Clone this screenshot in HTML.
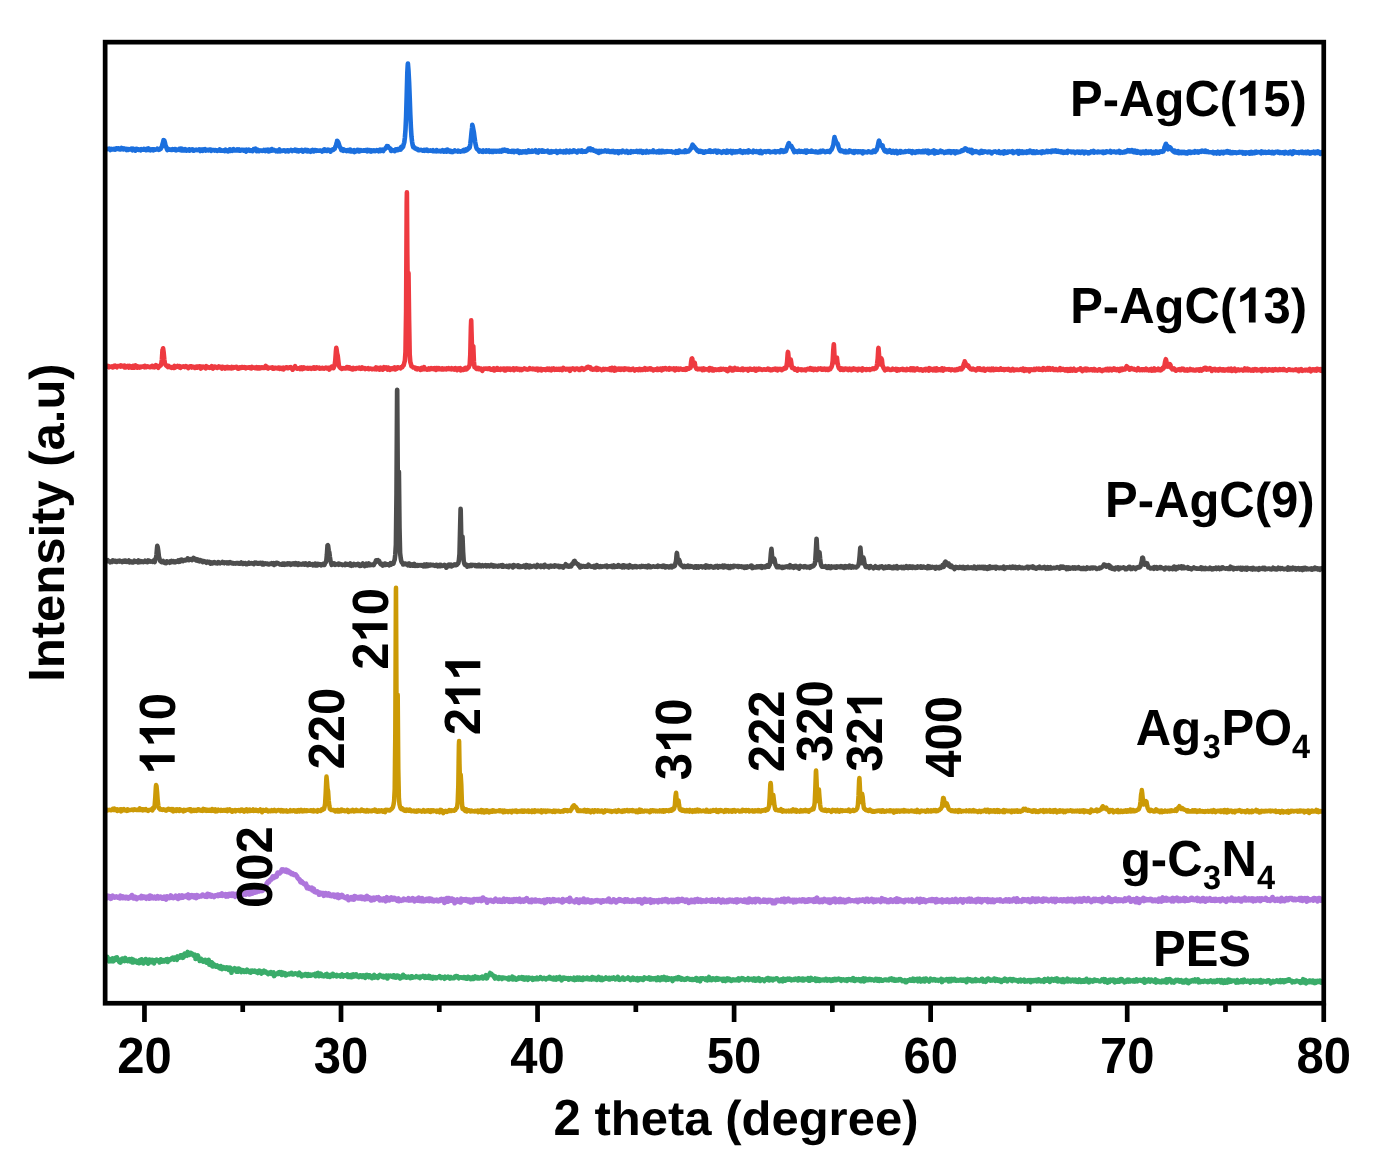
<!DOCTYPE html>
<html><head><meta charset="utf-8"><title>XRD pattern</title>
<style>
html,body{margin:0;padding:0;background:#fff;}
svg{display:block;}
text{font-family:"Liberation Sans",sans-serif;font-weight:bold;fill:#000;font-kerning:none;text-rendering:geometricPrecision;}
</style></head><body>
<svg width="1392" height="1164" viewBox="0 0 1392 1164">
<defs><filter id="nolcd" x="0" y="0" width="1" height="1"><feOffset dx="0" dy="0"/></filter></defs>
<rect x="0" y="0" width="1392" height="1164" fill="#fff"/>

<g fill="none" stroke-linejoin="round" stroke-linecap="round">
<path stroke="#3aac6a" stroke-width="4.6" d="M106.2 959.3 106.8 956.8 107.3 956.8 107.9 959.4 108.5 960.4 109.1 961.4 109.7 959.1 110.3 959.8 110.9 960.0 111.5 961.2 112.1 959.7 112.7 958.3 113.3 961.3 113.9 960.4 114.5 960.4 115.1 958.2 115.7 959.9 116.3 957.6 116.9 957.3 117.5 959.7 118.1 959.5 118.7 960.8 119.3 962.1 119.9 960.1 120.5 962.6 121.1 959.4 121.7 961.2 122.3 958.5 122.9 960.4 123.5 959.9 124.1 960.1 124.7 961.1 125.3 957.9 125.9 960.6 126.5 959.4 127.1 960.6 127.7 961.0 128.3 960.1 128.9 960.1 129.5 959.1 130.1 961.3 130.7 959.8 131.3 961.3 131.9 958.9 132.5 962.5 133.1 959.4 133.7 962.3 134.3 960.3 134.9 961.6 135.5 960.7 136.1 961.8 136.7 961.0 137.3 962.6 137.9 961.9 138.5 961.9 139.1 963.2 139.7 960.2 140.3 962.8 140.9 961.2 141.5 959.3 142.1 961.8 142.7 961.0 143.3 963.4 143.9 960.7 144.5 961.4 145.1 961.7 145.7 959.0 146.3 962.1 146.9 960.2 147.5 963.2 148.1 963.6 148.7 961.5 149.3 959.5 149.9 961.6 150.5 961.6 151.1 962.2 151.7 961.0 152.3 959.8 152.9 961.1 153.5 960.1 154.1 963.4 154.7 960.3 155.3 960.4 155.9 961.1 156.5 959.6 157.1 960.5 157.7 960.9 158.3 960.4 158.9 960.7 159.5 962.5 160.1 961.4 160.7 959.3 161.3 960.4 161.9 961.7 162.5 960.0 163.1 960.9 163.7 960.7 164.3 961.4 164.9 960.5 165.5 960.4 166.1 959.4 166.7 960.7 167.3 959.0 167.9 962.0 168.5 959.8 169.1 959.4 169.7 960.4 170.3 959.2 170.9 959.3 171.5 958.9 172.1 958.0 172.7 957.6 173.3 957.7 173.9 959.7 174.5 957.5 175.1 957.6 175.7 957.4 176.3 958.6 176.9 959.9 177.5 956.4 178.1 958.0 178.7 957.3 179.3 956.7 179.9 957.5 180.5 955.3 181.1 957.5 181.7 956.7 182.3 955.1 182.9 957.8 183.5 956.7 184.1 956.7 184.7 953.5 185.3 954.6 185.9 954.0 186.5 955.1 187.1 955.7 187.7 951.9 188.3 953.8 188.9 953.4 189.5 954.8 190.1 953.9 190.7 952.8 191.3 954.2 191.9 953.5 192.5 954.1 193.1 955.3 193.7 955.0 194.3 956.2 194.9 954.6 195.5 959.0 196.1 958.2 196.7 957.9 197.3 956.1 197.9 955.4 198.5 957.1 199.1 958.1 199.7 960.9 200.3 960.3 200.9 958.6 201.5 960.7 202.1 961.0 202.7 960.0 203.3 961.6 203.9 960.9 204.5 960.2 205.1 959.9 205.7 961.3 206.3 962.7 206.9 960.5 207.5 960.4 208.1 962.9 208.7 959.8 209.3 964.7 209.9 962.6 210.5 964.0 211.1 965.4 211.7 962.3 212.3 962.9 212.9 966.5 213.5 964.1 214.1 964.5 214.7 965.1 215.3 966.2 215.9 966.6 216.5 965.6 217.1 965.4 217.7 965.9 218.3 966.4 218.9 967.6 219.5 966.7 220.1 968.5 220.7 966.1 221.3 967.7 221.9 969.1 222.5 968.8 223.1 968.1 223.7 967.1 224.3 967.5 224.9 968.2 225.5 968.8 226.1 968.3 226.7 967.3 227.3 968.1 227.9 969.4 228.5 969.8 229.1 967.7 229.7 968.8 230.3 967.7 230.9 968.8 231.5 972.8 232.1 969.6 232.7 969.3 233.3 969.2 233.9 968.7 234.5 968.2 235.1 970.0 235.7 969.9 236.3 971.6 236.9 968.8 237.5 970.7 238.1 971.6 238.7 968.6 239.3 971.1 239.9 969.1 240.5 971.1 241.1 972.0 241.7 970.7 242.3 971.0 242.9 970.2 243.5 971.1 244.1 971.9 244.7 970.8 245.3 970.9 245.9 971.4 246.5 971.8 247.1 969.7 247.7 971.2 248.3 970.6 248.9 971.7 249.5 972.2 250.1 971.7 250.7 972.6 251.3 970.6 251.9 971.2 252.5 970.7 253.1 971.7 253.7 971.8 254.3 971.6 254.9 970.7 255.5 971.8 256.1 971.5 256.7 972.4 257.3 971.8 257.9 973.0 258.5 972.3 259.1 970.6 259.7 972.0 260.3 971.0 260.9 973.1 261.5 973.5 262.1 972.4 262.7 972.8 263.3 971.3 263.9 970.7 264.5 972.1 265.1 972.4 265.7 971.4 266.3 972.8 266.9 973.0 267.5 973.3 268.1 974.1 268.7 973.5 269.3 972.6 269.9 973.0 270.5 973.4 271.1 972.1 271.7 974.0 272.3 973.7 272.9 972.8 273.5 972.5 274.1 976.1 274.7 973.8 275.3 973.9 275.9 974.6 276.5 974.0 277.1 973.4 277.7 973.8 278.3 972.6 278.9 973.9 279.5 972.2 280.1 973.7 280.7 973.8 281.3 972.2 281.9 974.9 282.5 972.6 283.1 974.3 283.7 973.1 284.3 973.8 284.9 973.1 285.5 975.5 286.1 974.4 286.7 975.1 287.3 974.3 287.9 974.3 288.5 973.9 289.1 973.6 289.7 974.3 290.3 974.0 290.9 973.8 291.5 972.8 292.1 973.7 292.7 974.4 293.3 973.6 293.9 974.3 294.5 973.9 295.1 973.3 295.7 973.4 296.3 973.6 296.9 973.9 297.5 974.0 298.1 975.1 298.7 973.4 299.3 972.7 299.9 974.8 300.5 974.0 301.1 974.3 301.7 976.3 302.3 975.5 302.9 974.9 303.5 975.2 304.1 974.6 304.7 975.3 305.3 974.1 305.9 974.0 306.5 974.3 307.1 975.9 307.7 975.9 308.3 974.2 308.9 975.6 309.5 974.6 310.1 975.6 310.7 974.6 311.3 975.6 311.9 974.8 312.5 974.6 313.1 974.9 313.7 975.0 314.3 974.5 314.9 973.9 315.5 976.2 316.1 974.6 316.7 973.6 317.3 973.2 317.9 972.8 318.5 974.5 319.1 976.1 319.7 973.8 320.3 974.8 320.9 973.7 321.5 975.9 322.1 975.4 322.7 975.4 323.3 976.2 323.9 976.4 324.5 976.0 325.1 974.7 325.7 974.2 326.3 974.4 326.9 973.9 327.5 976.6 328.1 975.1 328.7 975.4 329.3 975.4 329.9 976.9 330.5 974.9 331.1 976.2 331.7 975.6 332.3 975.2 332.9 973.9 333.5 976.1 334.1 974.8 334.7 975.1 335.3 975.6 335.9 975.5 336.5 976.3 337.1 975.0 337.7 975.6 338.3 975.7 338.9 975.5 339.5 976.1 340.1 975.4 340.7 976.5 341.3 975.0 341.9 974.5 342.5 975.6 343.1 976.5 343.7 975.2 344.3 975.2 344.9 975.4 345.5 975.8 346.1 975.6 346.7 976.0 347.3 974.4 347.9 976.9 348.5 976.2 349.1 975.1 349.7 976.8 350.3 976.1 350.9 977.0 351.5 974.9 352.1 977.1 352.7 975.9 353.3 974.3 353.9 976.5 354.5 975.7 355.1 975.1 355.7 975.8 356.3 974.4 356.9 976.4 357.5 975.8 358.1 975.8 358.7 977.1 359.3 976.0 359.9 975.5 360.5 975.3 361.1 976.0 361.7 976.9 362.3 975.6 362.9 975.3 363.5 976.8 364.1 976.2 364.7 976.1 365.3 977.8 365.9 975.2 366.5 976.4 367.1 974.8 367.7 976.0 368.3 976.7 368.9 977.1 369.5 975.3 370.1 976.9 370.7 976.9 371.3 976.2 371.9 978.2 372.5 976.3 373.1 975.7 373.7 976.7 374.3 974.9 374.9 977.6 375.5 977.1 376.1 976.1 376.7 976.9 377.3 976.8 377.9 977.9 378.5 976.0 379.1 975.4 379.7 974.9 380.3 976.2 380.9 975.3 381.5 976.3 382.1 976.8 382.7 976.2 383.3 975.8 383.9 977.4 384.5 976.4 385.1 976.7 385.7 977.3 386.3 975.5 386.9 975.8 387.5 978.5 388.1 976.5 388.7 975.8 389.3 976.4 389.9 976.2 390.5 975.7 391.1 976.3 391.7 976.6 392.3 976.6 392.9 977.1 393.5 975.3 394.1 975.5 394.7 977.3 395.3 976.3 395.9 977.6 396.5 976.9 397.1 975.6 397.7 977.1 398.3 975.9 398.9 976.9 399.5 977.7 400.1 978.4 400.7 976.7 401.3 977.3 401.9 977.0 402.5 977.4 403.1 974.8 403.7 976.5 404.3 977.0 404.9 977.2 405.5 976.3 406.1 977.5 406.7 977.7 407.3 976.9 407.9 976.7 408.5 976.6 409.1 977.0 409.7 977.8 410.3 978.1 410.9 976.6 411.5 976.2 412.1 976.3 412.7 977.7 413.3 977.1 413.9 977.2 414.5 977.3 415.1 977.3 415.7 976.9 416.3 976.2 416.9 976.5 417.5 977.1 418.1 977.3 418.7 976.7 419.3 976.7 419.9 978.1 420.5 976.7 421.1 977.2 421.7 976.8 422.3 976.4 422.9 975.9 423.5 976.7 424.1 976.5 424.7 977.8 425.3 976.2 425.9 976.8 426.5 977.7 427.1 977.1 427.7 977.5 428.3 977.8 428.9 975.9 429.5 976.9 430.1 976.5 430.7 978.2 431.3 977.1 431.9 977.6 432.5 978.5 433.1 977.0 433.7 977.3 434.3 977.6 434.9 977.1 435.5 978.2 436.1 977.9 436.7 978.1 437.3 977.3 437.9 977.0 438.5 977.0 439.1 977.0 439.7 976.1 440.3 977.6 440.9 978.0 441.5 977.3 442.1 977.0 442.7 977.4 443.3 977.5 443.9 977.6 444.5 978.8 445.1 976.7 445.7 977.7 446.3 977.9 446.9 977.5 447.5 977.2 448.1 976.6 448.7 977.0 449.3 978.0 449.9 978.6 450.5 977.0 451.1 977.8 451.7 977.9 452.3 978.2 452.9 977.7 453.5 977.8 454.1 978.2 454.7 976.6 455.3 977.6 455.9 976.2 456.5 976.0 457.1 976.9 457.7 976.4 458.3 977.9 458.9 978.3 459.5 977.3 460.1 977.5 460.7 977.4 461.3 977.4 461.9 977.7 462.5 977.9 463.1 977.3 463.7 977.0 464.3 977.2 464.9 978.2 465.5 977.3 466.1 978.7 466.7 977.5 467.3 978.7 467.9 976.8 468.5 977.1 469.1 978.0 469.7 978.1 470.3 977.6 470.9 979.2 471.5 977.8 472.1 977.9 472.7 977.3 473.3 979.0 473.9 978.4 474.5 978.0 475.1 976.5 475.7 978.0 476.3 977.4 476.9 978.0 477.5 978.4 478.1 977.2 478.7 977.9 479.3 978.4 479.9 977.9 480.5 977.5 481.1 977.0 481.7 977.3 482.3 976.8 482.9 978.5 483.5 977.8 484.1 976.8 484.7 977.7 485.3 976.7 485.9 975.1 486.5 978.4 487.1 978.2 487.7 975.8 488.3 975.7 488.9 975.5 489.5 974.1 490.1 973.0 490.2 973.2 490.7 973.4 491.3 973.6 491.9 974.7 492.5 975.1 493.1 975.5 493.7 976.8 494.3 976.0 494.9 978.6 495.5 976.4 496.1 977.7 496.7 978.1 497.3 978.2 497.9 978.1 498.5 978.9 499.1 977.1 499.7 977.9 500.3 978.1 500.9 977.6 501.5 977.6 502.1 979.0 502.7 977.5 503.3 977.7 503.9 977.9 504.5 977.9 505.1 978.2 505.7 978.0 506.3 978.4 506.9 978.2 507.5 978.5 508.1 979.2 508.7 977.5 509.3 979.4 509.9 977.8 510.5 978.7 511.1 978.3 511.7 978.0 512.3 976.7 512.9 979.4 513.5 977.7 514.1 977.6 514.7 979.0 515.3 978.3 515.9 979.7 516.5 979.5 517.1 978.8 517.7 978.5 518.3 978.9 518.9 977.3 519.5 978.4 520.1 978.4 520.7 978.0 521.3 978.5 521.9 977.2 522.5 979.0 523.1 979.3 523.7 977.4 524.3 978.4 524.9 979.5 525.5 978.6 526.1 977.6 526.7 977.6 527.3 979.0 527.9 979.7 528.5 977.5 529.1 978.4 529.7 977.8 530.3 978.1 530.9 978.6 531.5 978.3 532.1 977.9 532.7 979.9 533.3 978.3 533.9 978.2 534.5 979.2 535.1 978.4 535.7 978.2 536.3 979.1 536.9 977.6 537.5 979.0 538.1 979.2 538.7 978.9 539.3 978.3 539.9 978.4 540.5 977.1 541.1 978.3 541.7 978.6 542.3 979.1 542.9 978.5 543.5 978.1 544.1 977.8 544.7 978.4 545.3 978.5 545.9 979.3 546.5 978.4 547.1 978.1 547.7 978.4 548.3 978.1 548.9 978.3 549.5 976.8 550.1 977.3 550.7 977.6 551.3 978.8 551.9 978.4 552.5 978.6 553.1 979.3 553.7 977.7 554.3 979.3 554.9 978.8 555.5 977.9 556.1 979.6 556.7 977.4 557.3 977.6 557.9 978.3 558.5 978.8 559.1 978.4 559.7 976.9 560.3 978.3 560.9 978.4 561.5 980.4 562.1 979.5 562.7 978.6 563.3 977.7 563.9 978.8 564.5 977.7 565.1 978.7 565.7 978.8 566.3 978.2 566.9 978.7 567.5 978.3 568.1 978.1 568.7 979.7 569.3 979.0 569.9 978.3 570.5 978.0 571.1 978.7 571.7 979.0 572.3 979.2 572.9 979.6 573.5 978.9 574.1 977.7 574.7 980.1 575.3 979.4 575.9 979.2 576.5 979.6 577.1 977.5 577.7 978.3 578.3 978.2 578.9 979.5 579.5 977.7 580.1 978.4 580.7 979.7 581.3 979.1 581.9 978.3 582.5 980.0 583.1 977.6 583.7 978.9 584.3 978.4 584.9 979.0 585.5 978.4 586.1 978.0 586.7 978.8 587.3 977.6 587.9 979.0 588.5 978.4 589.1 979.3 589.7 978.3 590.3 978.1 590.9 978.9 591.5 979.6 592.1 977.1 592.7 978.7 593.3 979.1 593.9 977.6 594.5 978.0 595.1 979.1 595.7 978.0 596.3 978.2 596.9 979.9 597.5 978.0 598.1 978.0 598.7 977.0 599.3 977.9 599.9 977.8 600.5 979.9 601.1 979.6 601.7 977.8 602.3 980.1 602.9 979.3 603.5 978.6 604.1 979.3 604.7 979.0 605.3 978.1 605.9 977.4 606.5 978.0 607.1 978.7 607.7 978.5 608.3 978.2 608.9 979.4 609.5 977.9 610.1 979.4 610.7 978.4 611.3 978.8 611.9 977.9 612.5 978.7 613.1 978.2 613.7 977.5 614.3 978.7 614.9 978.7 615.5 979.4 616.1 979.0 616.7 978.0 617.3 978.3 617.9 976.9 618.5 977.9 619.1 979.7 619.7 979.9 620.3 979.3 620.9 979.0 621.5 979.2 622.1 979.1 622.7 977.5 623.3 978.1 623.9 979.7 624.5 979.7 625.1 979.0 625.7 978.6 626.3 978.5 626.9 978.4 627.5 978.1 628.1 977.4 628.7 978.9 629.3 978.5 629.9 978.7 630.5 980.1 631.1 979.3 631.7 978.3 632.3 979.3 632.9 977.7 633.5 979.6 634.1 979.0 634.7 978.7 635.3 979.3 635.9 979.9 636.5 978.5 637.1 978.1 637.7 980.4 638.3 978.9 638.9 980.0 639.5 978.4 640.1 979.1 640.7 978.4 641.3 979.3 641.9 978.7 642.5 978.4 643.1 980.0 643.7 979.1 644.3 977.4 644.9 978.7 645.5 978.2 646.1 978.0 646.7 978.5 647.3 978.5 647.9 978.9 648.5 978.3 649.1 977.5 649.7 978.5 650.3 979.6 650.9 977.9 651.5 979.4 652.1 979.3 652.7 978.6 653.3 979.2 653.9 978.4 654.5 978.6 655.1 978.2 655.7 979.3 656.3 980.0 656.9 978.4 657.5 979.8 658.1 977.4 658.7 978.3 659.3 978.2 659.9 980.2 660.5 978.5 661.1 979.5 661.7 977.4 662.3 979.0 662.9 979.4 663.5 978.9 664.1 976.9 664.7 979.1 665.3 979.6 665.9 980.0 666.5 979.3 667.1 977.7 667.7 978.8 668.3 979.7 668.9 978.4 669.5 979.4 670.1 978.6 670.7 979.1 671.3 979.6 671.9 978.5 672.5 981.1 673.1 979.1 673.7 979.3 674.3 978.5 674.9 979.1 675.5 978.8 676.1 977.9 676.7 977.9 677.3 979.2 677.9 979.0 678.5 977.1 679.1 977.4 679.7 978.8 680.3 979.0 680.9 979.5 681.5 978.1 682.1 979.5 682.7 978.8 683.3 978.7 683.9 979.0 684.5 979.8 685.1 979.5 685.7 979.7 686.3 978.6 686.9 978.9 687.5 978.2 688.1 978.7 688.7 978.8 689.3 978.7 689.9 979.6 690.5 979.4 691.1 979.7 691.7 979.2 692.3 979.9 692.9 979.2 693.5 979.8 694.1 979.5 694.7 979.7 695.3 979.1 695.9 978.2 696.5 978.0 697.1 980.6 697.7 979.4 698.3 979.5 698.9 979.0 699.5 978.8 700.1 981.3 700.7 978.3 701.3 979.1 701.9 979.1 702.5 978.3 703.1 978.2 703.7 978.6 704.3 978.9 704.9 978.8 705.5 979.8 706.1 978.3 706.7 979.5 707.3 980.3 707.9 979.8 708.5 978.3 709.1 977.0 709.7 979.8 710.3 979.6 710.9 978.7 711.5 980.1 712.1 978.9 712.7 979.3 713.3 978.4 713.9 979.4 714.5 978.9 715.1 978.8 715.7 980.0 716.3 979.4 716.9 978.1 717.5 979.7 718.1 979.8 718.7 978.6 719.3 978.9 719.9 979.3 720.5 979.0 721.1 979.3 721.7 979.7 722.3 978.9 722.9 980.8 723.5 978.7 724.1 978.8 724.7 980.7 725.3 981.0 725.9 979.3 726.5 979.1 727.1 978.5 727.7 980.1 728.3 979.4 728.9 978.6 729.5 979.6 730.1 980.3 730.7 979.8 731.3 980.9 731.9 980.2 732.5 979.6 733.1 979.3 733.7 979.7 734.3 980.2 734.9 979.9 735.5 980.1 736.1 979.5 736.7 979.9 737.3 980.2 737.9 979.2 738.5 978.3 739.1 980.6 739.7 979.8 740.3 979.0 740.9 979.5 741.5 979.1 742.1 978.1 742.7 979.2 743.3 978.3 743.9 979.5 744.5 979.3 745.1 980.2 745.7 979.3 746.3 979.6 746.9 979.1 747.5 979.1 748.1 978.3 748.7 980.1 749.3 979.5 749.9 978.9 750.5 979.5 751.1 979.1 751.7 978.8 752.3 979.6 752.9 980.3 753.5 979.2 754.1 978.3 754.7 978.9 755.3 980.7 755.9 978.8 756.5 980.3 757.1 979.2 757.7 980.0 758.3 979.3 758.9 978.2 759.5 979.1 760.1 981.0 760.7 979.3 761.3 979.8 761.9 979.2 762.5 979.3 763.1 979.7 763.7 979.8 764.3 981.1 764.9 979.4 765.5 979.3 766.1 978.9 766.7 978.5 767.3 978.2 767.9 979.9 768.5 978.1 769.1 980.5 769.7 980.1 770.3 979.2 770.9 978.6 771.5 979.5 772.1 979.5 772.7 980.3 773.3 978.9 773.9 979.2 774.5 979.4 775.1 979.3 775.7 979.0 776.3 978.2 776.9 978.3 777.5 979.0 778.1 979.3 778.7 980.3 779.3 981.2 779.9 980.8 780.5 979.8 781.1 980.9 781.7 979.4 782.3 979.1 782.9 981.3 783.5 978.7 784.1 979.2 784.7 979.3 785.3 980.6 785.9 979.1 786.5 980.1 787.1 979.2 787.7 978.6 788.3 979.7 788.9 979.7 789.5 978.7 790.1 978.9 790.7 979.0 791.3 980.3 791.9 979.9 792.5 979.7 793.1 979.9 793.7 979.2 794.3 979.9 794.9 979.1 795.5 978.6 796.1 979.1 796.7 979.7 797.3 979.7 797.9 980.4 798.5 978.3 799.1 979.4 799.7 979.9 800.3 978.9 800.9 979.8 801.5 979.3 802.1 978.8 802.7 980.5 803.3 978.6 803.9 980.4 804.5 979.3 805.1 978.9 805.7 979.0 806.3 979.1 806.9 979.0 807.5 979.8 808.1 978.2 808.7 980.6 809.3 980.3 809.9 980.7 810.5 978.9 811.1 977.9 811.7 979.2 812.3 979.5 812.9 979.9 813.5 979.3 814.1 979.6 814.7 979.8 815.3 978.5 815.9 981.0 816.5 978.8 817.1 979.9 817.7 980.5 818.3 979.1 818.9 979.7 819.5 980.9 820.1 979.5 820.7 980.5 821.3 979.9 821.9 979.9 822.5 980.2 823.1 979.5 823.7 979.5 824.3 980.4 824.9 979.9 825.5 980.1 826.1 978.8 826.7 979.7 827.3 980.6 827.9 980.4 828.5 980.0 829.1 979.3 829.7 979.3 830.3 980.0 830.9 980.8 831.5 979.8 832.1 980.7 832.7 979.5 833.3 980.6 833.9 979.0 834.5 979.9 835.1 978.9 835.7 980.2 836.3 980.2 836.9 979.0 837.5 979.2 838.1 979.4 838.7 978.6 839.3 979.1 839.9 979.1 840.5 980.3 841.1 980.8 841.7 979.4 842.3 979.6 842.9 979.9 843.5 979.4 844.1 979.6 844.7 980.4 845.3 979.9 845.9 979.7 846.5 979.4 847.1 980.9 847.7 979.3 848.3 979.9 848.9 979.0 849.5 979.3 850.1 979.9 850.7 979.5 851.3 980.2 851.9 979.9 852.5 978.8 853.1 978.1 853.7 980.6 854.3 979.4 854.9 980.9 855.5 979.8 856.1 979.2 856.7 980.2 857.3 979.6 857.9 979.8 858.5 979.1 859.1 980.3 859.7 980.6 860.3 979.4 860.9 981.2 861.5 979.4 862.1 980.0 862.7 978.6 863.3 978.4 863.9 981.4 864.5 980.9 865.1 980.7 865.7 978.6 866.3 980.0 866.9 980.2 867.5 979.9 868.1 980.1 868.7 979.2 869.3 979.7 869.9 979.0 870.5 979.6 871.1 980.1 871.7 979.3 872.3 979.7 872.9 979.6 873.5 979.9 874.1 980.6 874.7 980.1 875.3 980.2 875.9 978.8 876.5 979.6 877.1 980.5 877.7 979.2 878.3 979.6 878.9 979.2 879.5 980.9 880.1 979.6 880.7 979.4 881.3 980.4 881.9 980.7 882.5 980.3 883.1 980.6 883.7 980.1 884.3 979.8 884.9 979.6 885.5 979.5 886.1 979.5 886.7 980.2 887.3 979.8 887.9 980.0 888.5 980.4 889.1 979.9 889.7 978.9 890.3 979.3 890.9 979.1 891.5 978.5 892.1 980.0 892.7 979.0 893.3 979.0 893.9 979.1 894.5 980.6 895.1 979.7 895.7 980.7 896.3 979.9 896.9 979.6 897.5 980.4 898.1 980.4 898.7 980.1 899.3 979.2 899.9 979.6 900.5 979.1 901.1 979.8 901.7 980.0 902.3 981.1 902.9 981.0 903.5 980.5 904.1 980.7 904.7 980.2 905.3 982.1 905.9 981.1 906.5 982.0 907.1 980.3 907.7 980.3 908.3 980.8 908.9 980.1 909.5 980.2 910.1 979.3 910.7 980.7 911.3 980.1 911.9 980.6 912.5 979.8 913.1 978.7 913.7 980.4 914.3 980.9 914.9 979.1 915.5 979.3 916.1 979.8 916.7 979.8 917.3 978.8 917.9 981.3 918.5 980.8 919.1 979.6 919.7 978.7 920.3 980.3 920.9 981.5 921.5 980.7 922.1 980.9 922.7 979.3 923.3 980.2 923.9 978.9 924.5 981.5 925.1 980.5 925.7 978.5 926.3 978.7 926.9 980.4 927.5 980.2 928.1 979.8 928.7 980.5 929.3 981.6 929.9 980.3 930.5 978.7 931.1 980.0 931.7 979.1 932.3 979.5 932.9 980.3 933.5 980.0 934.1 979.3 934.7 980.1 935.3 979.5 935.9 980.5 936.5 979.9 937.1 980.4 937.7 979.9 938.3 980.7 938.9 980.0 939.5 980.1 940.1 979.7 940.7 980.2 941.3 978.8 941.9 982.1 942.5 979.6 943.1 980.2 943.7 979.8 944.3 979.8 944.9 980.4 945.5 979.7 946.1 979.8 946.7 979.1 947.3 979.4 947.9 979.3 948.5 981.5 949.1 979.1 949.7 979.3 950.3 980.3 950.9 981.2 951.5 978.9 952.1 979.0 952.7 980.2 953.3 980.4 953.9 979.1 954.5 978.8 955.1 979.4 955.7 980.7 956.3 980.1 956.9 980.7 957.5 980.1 958.1 980.1 958.7 980.6 959.3 980.1 959.9 980.3 960.5 979.5 961.1 979.7 961.7 980.5 962.3 980.0 962.9 979.6 963.5 980.7 964.1 980.6 964.7 980.2 965.3 979.6 965.9 980.9 966.5 982.1 967.1 979.6 967.7 979.0 968.3 979.6 968.9 979.5 969.5 979.3 970.1 979.3 970.7 980.8 971.3 980.9 971.9 981.3 972.5 980.8 973.1 979.9 973.7 981.0 974.3 979.8 974.9 980.0 975.5 979.3 976.1 981.1 976.7 981.0 977.3 979.9 977.9 980.0 978.5 980.3 979.1 980.4 979.7 980.9 980.3 980.3 980.9 980.5 981.5 979.1 982.1 980.0 982.7 978.9 983.3 981.6 983.9 981.3 984.5 980.8 985.1 981.1 985.7 981.8 986.3 981.0 986.9 979.1 987.5 980.1 988.1 978.5 988.7 979.7 989.3 979.3 989.9 980.3 990.5 980.6 991.1 979.6 991.7 980.1 992.3 980.5 992.9 980.2 993.5 980.1 994.1 978.5 994.7 980.0 995.3 980.9 995.9 980.5 996.5 979.2 997.1 980.1 997.7 980.5 998.3 979.6 998.9 980.8 999.5 979.7 1000.1 980.1 1000.7 980.2 1001.3 982.0 1001.9 980.1 1002.5 979.9 1003.1 980.9 1003.7 980.0 1004.3 980.5 1004.9 978.6 1005.5 980.5 1006.1 980.3 1006.7 979.4 1007.3 981.3 1007.9 980.2 1008.5 980.2 1009.1 979.4 1009.7 979.1 1010.3 979.9 1010.9 979.2 1011.5 980.7 1012.1 981.0 1012.7 979.9 1013.3 979.1 1013.9 980.1 1014.5 979.6 1015.1 980.5 1015.7 980.5 1016.3 980.0 1016.9 980.4 1017.5 981.1 1018.1 981.6 1018.7 980.0 1019.3 980.9 1019.9 980.2 1020.5 979.6 1021.1 981.3 1021.7 980.7 1022.3 980.5 1022.9 980.7 1023.5 980.3 1024.1 979.6 1024.7 981.7 1025.3 981.1 1025.9 980.6 1026.5 981.1 1027.1 981.4 1027.7 980.3 1028.3 980.8 1028.9 980.2 1029.5 980.9 1030.1 980.2 1030.7 982.2 1031.3 980.1 1031.9 980.8 1032.5 980.8 1033.1 980.2 1033.7 981.1 1034.3 980.4 1034.9 980.1 1035.5 980.4 1036.1 979.9 1036.7 981.3 1037.3 980.9 1037.9 981.2 1038.5 979.4 1039.1 980.6 1039.7 979.9 1040.3 980.5 1040.9 981.4 1041.5 980.6 1042.1 980.3 1042.7 981.3 1043.3 981.2 1043.9 981.8 1044.5 979.1 1045.1 980.7 1045.7 980.2 1046.3 979.8 1046.9 980.6 1047.5 979.6 1048.1 978.8 1048.7 979.8 1049.3 980.3 1049.9 981.9 1050.5 979.9 1051.1 979.6 1051.7 979.0 1052.3 980.2 1052.9 980.3 1053.5 980.6 1054.1 979.4 1054.7 979.9 1055.3 978.8 1055.9 980.6 1056.5 979.3 1057.1 978.4 1057.7 981.4 1058.3 980.9 1058.9 980.8 1059.5 980.8 1060.1 979.7 1060.7 981.3 1061.3 979.7 1061.9 982.0 1062.5 980.7 1063.1 979.1 1063.7 981.2 1064.3 982.0 1064.9 980.3 1065.5 981.3 1066.1 980.4 1066.7 980.1 1067.3 978.6 1067.9 981.5 1068.5 980.2 1069.1 980.8 1069.7 979.7 1070.3 979.9 1070.9 981.4 1071.5 980.3 1072.1 980.3 1072.7 979.6 1073.3 980.7 1073.9 981.2 1074.5 980.2 1075.1 980.4 1075.7 979.7 1076.3 981.6 1076.9 980.1 1077.5 980.5 1078.1 981.9 1078.7 980.4 1079.3 979.4 1079.9 979.9 1080.5 980.3 1081.1 981.9 1081.7 980.8 1082.3 980.4 1082.9 981.2 1083.5 981.6 1084.1 980.0 1084.7 981.7 1085.3 981.3 1085.9 981.0 1086.5 978.8 1087.1 980.8 1087.7 981.7 1088.3 980.4 1088.9 982.4 1089.5 980.7 1090.1 979.9 1090.7 981.1 1091.3 980.9 1091.9 981.3 1092.5 980.5 1093.1 981.6 1093.7 980.2 1094.3 980.8 1094.9 979.7 1095.5 980.1 1096.1 980.8 1096.7 980.2 1097.3 980.3 1097.9 980.5 1098.5 980.9 1099.1 981.3 1099.7 981.3 1100.3 981.5 1100.9 980.8 1101.5 980.3 1102.1 979.5 1102.7 980.4 1103.3 980.1 1103.9 979.3 1104.5 981.9 1105.1 979.3 1105.7 981.0 1106.3 981.1 1106.9 980.5 1107.5 982.7 1108.1 980.7 1108.7 980.1 1109.3 982.0 1109.9 980.1 1110.5 979.6 1111.1 980.0 1111.7 980.2 1112.3 980.8 1112.9 981.0 1113.5 979.6 1114.1 981.0 1114.7 982.4 1115.3 980.2 1115.9 980.6 1116.5 981.3 1117.1 981.7 1117.7 980.2 1118.3 980.0 1118.9 980.0 1119.5 981.6 1120.1 981.4 1120.7 979.1 1121.3 979.1 1121.9 979.8 1122.5 979.6 1123.1 981.1 1123.7 980.9 1124.3 982.3 1124.9 981.4 1125.5 980.9 1126.1 981.7 1126.7 980.1 1127.3 979.7 1127.9 980.8 1128.5 981.5 1129.1 979.6 1129.7 981.5 1130.3 981.4 1130.9 980.4 1131.5 980.9 1132.1 980.6 1132.7 980.9 1133.3 981.4 1133.9 980.2 1134.5 981.6 1135.1 981.5 1135.7 981.5 1136.3 979.3 1136.9 979.4 1137.5 981.3 1138.1 980.4 1138.7 980.3 1139.3 980.2 1139.9 979.8 1140.5 980.6 1141.1 980.3 1141.7 980.3 1142.3 981.2 1142.9 979.9 1143.5 981.7 1144.1 979.1 1144.7 982.8 1145.3 979.8 1145.9 981.3 1146.5 981.5 1147.1 980.8 1147.7 981.4 1148.3 980.8 1148.9 979.5 1149.5 981.1 1150.1 981.7 1150.7 980.4 1151.3 979.6 1151.9 980.4 1152.5 981.1 1153.1 981.1 1153.7 981.7 1154.3 981.3 1154.9 981.3 1155.5 979.4 1156.1 982.6 1156.7 980.9 1157.3 981.5 1157.9 980.6 1158.5 980.8 1159.1 980.9 1159.7 982.1 1160.3 982.1 1160.9 981.4 1161.5 982.4 1162.1 980.6 1162.7 981.3 1163.3 980.6 1163.9 981.9 1164.5 980.9 1165.1 981.7 1165.7 982.2 1166.3 979.3 1166.9 982.6 1167.5 981.2 1168.1 980.7 1168.7 979.5 1169.3 980.7 1169.9 979.2 1170.5 981.0 1171.1 980.8 1171.7 982.3 1172.3 980.7 1172.9 981.8 1173.5 981.8 1174.1 982.5 1174.7 980.8 1175.3 981.5 1175.9 979.8 1176.5 980.1 1177.1 980.8 1177.7 981.0 1178.3 980.0 1178.9 980.7 1179.5 981.5 1180.1 980.6 1180.7 980.9 1181.3 980.3 1181.9 982.0 1182.5 982.4 1183.1 981.2 1183.7 980.9 1184.3 982.3 1184.9 981.4 1185.5 980.5 1186.1 980.0 1186.7 980.6 1187.3 982.7 1187.9 980.6 1188.5 983.2 1189.1 981.0 1189.7 980.9 1190.3 982.0 1190.9 980.8 1191.5 981.3 1192.1 980.2 1192.7 980.1 1193.3 980.5 1193.9 981.2 1194.5 980.5 1195.1 979.5 1195.7 981.4 1196.3 980.9 1196.9 980.8 1197.5 980.6 1198.1 979.3 1198.7 982.3 1199.3 980.7 1199.9 981.5 1200.5 982.1 1201.1 981.9 1201.7 981.2 1202.3 981.1 1202.9 981.3 1203.5 981.8 1204.1 981.5 1204.7 980.7 1205.3 981.4 1205.9 981.4 1206.5 981.6 1207.1 981.2 1207.7 982.1 1208.3 981.2 1208.9 981.8 1209.5 981.1 1210.1 980.7 1210.7 980.4 1211.3 981.0 1211.9 981.5 1212.5 982.1 1213.1 981.0 1213.7 980.7 1214.3 980.7 1214.9 982.1 1215.5 981.2 1216.1 980.7 1216.7 981.7 1217.3 980.1 1217.9 981.2 1218.5 981.1 1219.1 981.0 1219.7 980.2 1220.3 981.9 1220.9 982.4 1221.5 980.1 1222.1 981.2 1222.7 981.6 1223.3 982.9 1223.9 980.8 1224.5 980.4 1225.1 981.1 1225.7 982.7 1226.3 981.2 1226.9 981.4 1227.5 982.5 1228.1 979.5 1228.7 979.5 1229.3 981.9 1229.9 981.8 1230.5 980.1 1231.1 981.6 1231.7 981.2 1232.3 981.3 1232.9 980.6 1233.5 980.8 1234.1 980.5 1234.7 981.2 1235.3 981.0 1235.9 982.5 1236.5 981.7 1237.1 980.0 1237.7 981.5 1238.3 982.3 1238.9 981.4 1239.5 982.0 1240.1 981.2 1240.7 981.8 1241.3 980.5 1241.9 981.8 1242.5 980.2 1243.1 982.2 1243.7 980.1 1244.3 979.6 1244.9 981.6 1245.5 981.1 1246.1 981.3 1246.7 981.6 1247.3 981.2 1247.9 980.6 1248.5 981.4 1249.1 981.5 1249.7 981.6 1250.3 982.8 1250.9 980.7 1251.5 981.3 1252.1 981.7 1252.7 980.9 1253.3 980.3 1253.9 980.8 1254.5 982.1 1255.1 981.1 1255.7 981.7 1256.3 980.7 1256.9 981.6 1257.5 980.8 1258.1 980.6 1258.7 981.4 1259.3 981.3 1259.9 982.4 1260.5 980.0 1261.1 981.7 1261.7 982.5 1262.3 982.3 1262.9 981.0 1263.5 980.8 1264.1 980.9 1264.7 981.5 1265.3 981.4 1265.9 981.6 1266.5 981.8 1267.1 980.5 1267.7 980.4 1268.3 980.4 1268.9 980.3 1269.5 981.2 1270.1 981.6 1270.7 983.3 1271.3 981.7 1271.9 981.3 1272.5 982.4 1273.1 980.8 1273.7 981.6 1274.3 982.1 1274.9 981.9 1275.5 981.6 1276.1 981.1 1276.7 980.4 1277.3 981.2 1277.9 980.9 1278.5 981.9 1279.1 981.2 1279.7 981.8 1280.3 980.1 1280.9 982.1 1281.5 980.7 1282.1 980.2 1282.7 980.3 1283.3 980.9 1283.9 982.2 1284.5 981.9 1285.1 980.5 1285.7 981.4 1286.3 981.3 1286.9 980.2 1287.5 980.6 1288.1 979.8 1288.7 980.7 1289.3 979.4 1289.9 980.8 1290.5 980.7 1291.1 980.8 1291.7 980.8 1292.3 982.3 1292.9 981.1 1293.5 981.6 1294.1 982.0 1294.7 982.1 1295.3 981.9 1295.9 981.0 1296.5 980.6 1297.1 980.8 1297.7 981.1 1298.3 981.4 1298.9 981.4 1299.5 982.3 1300.1 981.3 1300.7 982.8 1301.3 982.2 1301.9 981.1 1302.5 982.1 1303.1 979.2 1303.7 982.5 1304.3 981.8 1304.9 981.7 1305.5 980.2 1306.1 983.4 1306.7 981.3 1307.3 981.3 1307.9 982.3 1308.5 981.3 1309.1 980.8 1309.7 982.0 1310.3 980.7 1310.9 982.0 1311.5 981.6 1312.1 982.3 1312.7 980.5 1313.3 982.4 1313.9 981.7 1314.5 983.0 1315.1 981.0 1315.7 982.9 1316.3 982.0 1316.9 982.1 1317.5 980.9 1318.1 981.9 1318.7 982.0 1319.3 980.9 1319.9 980.6 1320.5 980.9 1321.1 982.6 1321.7 981.6 1322.3 982.2"/>
<path stroke="#ae76dc" stroke-width="5.0" d="M106.2 898.1 106.8 896.8 107.3 896.0 107.9 896.8 108.5 897.5 109.1 896.2 109.7 897.7 110.3 897.7 110.9 898.7 111.5 896.6 112.1 897.6 112.7 895.8 113.3 896.8 113.9 897.2 114.5 897.4 115.1 897.1 115.7 897.0 116.3 896.6 116.9 896.8 117.5 897.4 118.1 897.6 118.7 897.6 119.3 897.9 119.9 898.1 120.5 895.8 121.1 896.7 121.7 897.0 122.3 896.7 122.9 898.0 123.5 897.7 124.1 897.1 124.7 897.3 125.3 898.1 125.9 896.9 126.5 896.9 127.1 897.9 127.7 897.6 128.3 898.3 128.9 897.5 129.5 897.8 130.1 896.8 130.7 896.5 131.3 897.2 131.9 895.2 132.5 897.5 133.1 898.0 133.7 897.3 134.3 897.1 134.9 898.1 135.5 897.2 136.1 898.0 136.7 898.9 137.3 897.8 137.9 898.0 138.5 897.7 139.1 897.5 139.7 897.5 140.3 897.3 140.9 898.1 141.5 896.1 142.1 897.1 142.7 897.8 143.3 896.7 143.9 897.2 144.5 896.8 145.1 897.7 145.7 898.0 146.3 898.5 146.9 897.7 147.5 896.8 148.1 897.6 148.7 897.8 149.3 898.4 149.9 895.7 150.5 897.7 151.1 896.0 151.7 897.9 152.3 897.7 152.9 897.8 153.5 898.1 154.1 897.7 154.7 896.9 155.3 897.7 155.9 898.3 156.5 897.3 157.1 897.5 157.7 896.5 158.3 898.3 158.9 897.1 159.5 896.9 160.1 897.1 160.7 896.8 161.3 897.3 161.9 898.4 162.5 898.1 163.1 898.6 163.7 898.6 164.3 896.8 164.9 897.9 165.5 898.6 166.1 899.3 166.7 896.4 167.3 896.4 167.9 897.9 168.5 897.3 169.1 896.8 169.7 897.8 170.3 896.9 170.9 895.7 171.5 897.4 172.1 897.5 172.7 897.8 173.3 898.0 173.9 897.4 174.5 897.1 175.1 896.7 175.7 896.0 176.3 896.9 176.9 897.9 177.5 897.6 178.1 898.7 178.7 897.0 179.3 895.7 179.9 897.7 180.5 897.8 181.1 896.1 181.7 895.7 182.3 897.0 182.9 897.4 183.5 896.0 184.1 896.6 184.7 896.2 185.3 895.9 185.9 895.8 186.5 896.8 187.1 896.4 187.7 896.2 188.3 894.7 188.9 898.0 189.5 895.9 190.1 896.5 190.7 895.7 191.3 896.8 191.9 895.3 192.5 896.5 193.1 896.3 193.7 897.1 194.3 895.6 194.9 895.9 195.5 896.2 196.1 897.9 196.7 895.2 197.3 896.5 197.9 895.7 198.5 896.4 199.1 896.7 199.7 896.3 200.3 896.3 200.9 896.3 201.5 895.6 202.1 895.9 202.7 894.8 203.3 895.7 203.9 895.4 204.5 895.7 205.1 896.5 205.7 896.2 206.3 896.2 206.9 896.7 207.5 894.0 208.1 896.1 208.7 895.7 209.3 895.6 209.9 894.7 210.5 896.1 211.1 896.5 211.7 896.4 212.3 895.5 212.9 896.0 213.5 896.2 214.1 896.9 214.7 896.4 215.3 895.5 215.9 895.5 216.5 895.5 217.1 895.5 217.7 894.9 218.3 895.9 218.9 894.7 219.5 894.6 220.1 895.4 220.7 894.7 221.3 894.9 221.9 893.5 222.5 895.7 223.1 895.0 223.7 894.9 224.3 895.3 224.9 895.1 225.5 894.4 226.1 896.4 226.7 894.5 227.3 895.6 227.9 896.2 228.5 894.3 229.1 894.8 229.7 894.1 230.3 895.5 230.9 894.4 231.5 893.8 232.1 895.6 232.7 895.3 233.3 893.9 233.9 895.5 234.5 894.7 235.1 896.6 235.7 895.8 236.3 894.1 236.9 894.3 237.5 893.8 238.1 894.6 238.7 894.5 239.3 895.0 239.9 894.5 240.5 893.3 241.1 893.7 241.7 895.4 242.3 895.2 242.9 894.2 243.5 894.1 244.1 894.0 244.7 894.0 245.3 892.6 245.9 894.4 246.5 893.1 247.1 893.6 247.7 891.5 248.3 893.5 248.9 894.2 249.5 891.3 250.1 894.1 250.7 893.2 251.3 892.1 251.9 891.4 252.5 893.4 253.1 892.6 253.7 892.7 254.3 891.9 254.9 891.4 255.5 892.4 256.1 890.8 256.7 892.0 257.3 889.8 257.9 890.1 258.5 889.5 259.1 891.3 259.7 888.8 260.3 889.0 260.9 890.1 261.5 889.6 262.1 890.8 262.7 890.3 263.3 889.1 263.9 888.9 264.5 886.7 265.1 886.5 265.7 885.9 266.3 885.1 266.9 883.2 267.5 882.6 268.1 881.7 268.7 882.2 269.3 881.2 269.9 880.1 270.5 879.6 271.1 879.6 271.7 878.3 272.3 878.1 272.9 876.5 273.5 877.9 274.1 877.6 274.7 876.6 275.3 876.2 275.9 875.7 276.5 876.5 277.1 874.6 277.7 872.9 278.3 872.7 278.9 873.5 279.5 873.3 280.1 872.6 280.7 872.2 281.3 871.2 281.9 869.7 282.5 870.4 283.1 869.6 283.7 870.7 284.3 870.1 284.9 871.2 285.5 871.1 286.1 869.8 286.7 871.9 287.3 872.0 287.9 870.5 288.5 871.7 289.1 872.4 289.7 871.9 290.3 873.1 290.9 872.9 291.5 873.8 292.1 873.4 292.7 873.5 293.3 874.3 293.9 874.8 294.5 874.6 295.1 874.4 295.7 874.6 296.3 875.7 296.9 876.2 297.5 877.6 298.1 878.3 298.7 878.8 299.3 879.5 299.9 880.2 300.5 881.9 301.1 882.2 301.7 881.4 302.3 882.7 302.9 882.7 303.5 883.5 304.1 883.9 304.7 884.2 305.3 884.2 305.9 883.9 306.5 886.5 307.1 887.9 307.7 886.8 308.3 888.2 308.9 887.8 309.5 888.7 310.1 888.2 310.7 888.9 311.3 889.4 311.9 887.9 312.5 890.3 313.1 890.3 313.7 888.8 314.3 891.6 314.9 891.4 315.5 891.9 316.1 892.3 316.7 891.9 317.3 891.6 317.9 892.2 318.5 892.4 319.1 894.6 319.7 894.5 320.3 892.8 320.9 893.0 321.5 893.8 322.1 894.1 322.7 893.3 323.3 893.2 323.9 895.6 324.5 895.1 325.1 893.2 325.7 893.2 326.3 894.0 326.9 894.9 327.5 895.2 328.1 894.6 328.7 893.7 329.3 895.2 329.9 895.6 330.5 895.3 331.1 895.0 331.7 895.9 332.3 895.5 332.9 894.8 333.5 895.8 334.1 894.8 334.7 896.7 335.3 896.4 335.9 895.3 336.5 896.3 337.1 897.2 337.7 894.7 338.3 896.3 338.9 897.8 339.5 895.4 340.1 896.5 340.7 895.6 341.3 896.7 341.9 895.0 342.5 895.6 343.1 896.5 343.7 897.1 344.3 897.4 344.9 897.5 345.5 898.1 346.1 897.8 346.7 897.9 347.3 896.6 347.9 897.4 348.5 900.0 349.1 899.4 349.7 898.3 350.3 898.3 350.9 898.5 351.5 897.4 352.1 899.3 352.7 897.5 353.3 897.7 353.9 899.5 354.5 896.2 355.1 898.2 355.7 896.6 356.3 897.4 356.9 897.9 357.5 897.7 358.1 898.1 358.7 897.4 359.3 898.0 359.9 897.1 360.5 897.8 361.1 897.0 361.7 898.6 362.3 897.1 362.9 898.7 363.5 897.9 364.1 898.0 364.7 899.2 365.3 898.4 365.9 896.8 366.5 898.7 367.1 896.1 367.7 898.6 368.3 898.1 368.9 897.3 369.5 898.5 370.1 898.2 370.7 900.1 371.3 898.2 371.9 900.1 372.5 899.6 373.1 898.1 373.7 897.9 374.3 899.7 374.9 898.5 375.5 898.8 376.1 898.5 376.7 897.7 377.3 898.4 377.9 898.0 378.5 897.5 379.1 898.5 379.7 900.2 380.3 900.1 380.9 898.8 381.5 899.0 382.1 899.3 382.7 900.0 383.3 899.2 383.9 898.5 384.5 898.6 385.1 899.9 385.7 901.1 386.3 898.5 386.9 897.4 387.5 899.7 388.1 899.0 388.7 899.2 389.3 900.1 389.9 899.2 390.5 898.1 391.1 897.6 391.7 899.1 392.3 898.3 392.9 899.4 393.5 898.2 394.1 899.0 394.7 898.1 395.3 899.0 395.9 899.0 396.5 899.8 397.1 900.4 397.7 899.2 398.3 898.7 398.9 901.0 399.5 899.7 400.1 899.9 400.7 900.0 401.3 900.6 401.9 900.3 402.5 900.1 403.1 900.2 403.7 898.9 404.3 899.1 404.9 899.5 405.5 899.7 406.1 899.7 406.7 899.9 407.3 899.7 407.9 899.4 408.5 898.4 409.1 900.4 409.7 900.2 410.3 899.1 410.9 900.2 411.5 900.1 412.1 899.9 412.7 898.4 413.3 898.9 413.9 899.4 414.5 901.2 415.1 899.2 415.7 899.7 416.3 899.1 416.9 899.6 417.5 900.3 418.1 898.4 418.7 897.8 419.3 900.6 419.9 900.1 420.5 899.6 421.1 900.9 421.7 900.9 422.3 898.4 422.9 900.0 423.5 901.0 424.1 899.6 424.7 899.8 425.3 900.9 425.9 899.9 426.5 899.2 427.1 899.6 427.7 899.1 428.3 900.6 428.9 898.7 429.5 900.9 430.1 898.8 430.7 900.2 431.3 899.0 431.9 899.9 432.5 901.0 433.1 901.0 433.7 901.2 434.3 900.1 434.9 900.2 435.5 900.3 436.1 900.6 436.7 899.8 437.3 901.0 437.9 900.4 438.5 901.1 439.1 900.5 439.7 900.7 440.3 899.6 440.9 899.8 441.5 899.1 442.1 899.9 442.7 900.0 443.3 900.9 443.9 899.2 444.5 902.8 445.1 900.1 445.7 901.2 446.3 901.0 446.9 898.2 447.5 900.0 448.1 901.4 448.7 898.3 449.3 900.8 449.9 899.5 450.5 899.8 451.1 900.4 451.7 898.7 452.3 900.4 452.9 899.7 453.5 899.6 454.1 900.8 454.7 903.0 455.3 900.5 455.9 900.7 456.5 900.2 457.1 899.7 457.7 900.5 458.3 901.5 458.9 900.4 459.5 901.0 460.1 900.1 460.7 902.3 461.3 898.9 461.9 900.7 462.5 900.7 463.1 900.5 463.7 899.4 464.3 899.4 464.9 900.1 465.5 900.4 466.1 899.3 466.7 899.4 467.3 900.7 467.9 901.1 468.5 899.8 469.1 899.7 469.7 899.7 470.3 902.3 470.9 900.7 471.5 900.2 472.1 901.1 472.7 902.1 473.3 901.2 473.9 899.2 474.5 900.2 475.1 900.0 475.7 900.0 476.3 899.3 476.9 900.0 477.5 899.5 478.1 900.6 478.7 900.4 479.3 899.2 479.9 899.0 480.5 900.0 481.1 900.9 481.7 900.7 482.3 900.3 482.9 897.7 483.5 900.0 484.1 899.8 484.7 900.1 485.3 899.4 485.9 900.0 486.5 899.8 487.1 902.5 487.7 900.9 488.3 900.2 488.9 900.3 489.5 900.3 490.1 900.5 490.7 900.1 491.3 900.4 491.9 901.2 492.5 901.1 493.1 900.6 493.7 901.5 494.3 900.6 494.9 899.6 495.5 899.0 496.1 899.8 496.7 900.4 497.3 900.7 497.9 901.3 498.5 900.0 499.1 899.8 499.7 901.0 500.3 901.4 500.9 900.0 501.5 900.7 502.1 901.5 502.7 900.7 503.3 900.4 503.9 898.8 504.5 901.5 505.1 901.0 505.7 900.5 506.3 900.1 506.9 899.5 507.5 900.4 508.1 900.4 508.7 901.3 509.3 899.5 509.9 901.6 510.5 900.5 511.1 901.4 511.7 899.7 512.3 900.8 512.9 901.5 513.5 900.6 514.1 899.3 514.7 900.2 515.3 900.9 515.9 899.4 516.5 899.3 517.1 900.7 517.7 899.7 518.3 901.1 518.9 899.6 519.5 899.0 520.1 899.9 520.7 901.7 521.3 899.8 521.9 900.5 522.5 900.7 523.1 899.8 523.7 901.4 524.3 900.7 524.9 900.9 525.5 899.2 526.1 899.1 526.7 898.3 527.3 900.4 527.9 900.4 528.5 901.1 529.1 901.7 529.7 900.4 530.3 900.3 530.9 900.9 531.5 901.8 532.1 899.9 532.7 901.1 533.3 900.4 533.9 900.3 534.5 901.2 535.1 899.9 535.7 899.7 536.3 901.1 536.9 900.6 537.5 900.4 538.1 900.5 538.7 901.0 539.3 900.3 539.9 901.2 540.5 900.9 541.1 901.8 541.7 901.6 542.3 901.3 542.9 900.5 543.5 900.7 544.1 900.1 544.7 902.9 545.3 900.5 545.9 901.1 546.5 901.7 547.1 899.5 547.7 900.0 548.3 900.3 548.9 899.8 549.5 899.6 550.1 900.2 550.7 901.7 551.3 901.2 551.9 900.7 552.5 900.7 553.1 899.3 553.7 901.2 554.3 901.0 554.9 899.8 555.5 900.8 556.1 900.5 556.7 900.3 557.3 899.9 557.9 900.1 558.5 899.9 559.1 901.1 559.7 901.0 560.3 901.0 560.9 900.6 561.5 900.4 562.1 902.3 562.7 899.2 563.3 901.7 563.9 901.0 564.5 900.8 565.1 900.3 565.7 900.5 566.3 899.8 566.9 899.6 567.5 900.6 568.1 899.4 568.7 901.4 569.3 901.6 569.9 898.0 570.5 899.5 571.1 901.0 571.7 900.9 572.3 900.8 572.9 901.1 573.5 901.4 574.1 901.5 574.7 902.2 575.3 900.8 575.9 901.5 576.5 899.5 577.1 900.7 577.7 899.8 578.3 901.9 578.9 902.7 579.5 901.2 580.1 899.8 580.7 900.7 581.3 900.8 581.9 901.0 582.5 901.7 583.1 901.6 583.7 898.7 584.3 901.9 584.9 900.4 585.5 900.4 586.1 902.0 586.7 900.6 587.3 899.7 587.9 899.8 588.5 900.9 589.1 901.6 589.7 902.0 590.3 900.7 590.9 900.5 591.5 902.1 592.1 900.5 592.7 902.0 593.3 901.0 593.9 901.0 594.5 900.7 595.1 901.1 595.7 900.5 596.3 900.3 596.9 900.8 597.5 900.4 598.1 901.1 598.7 900.9 599.3 900.7 599.9 900.7 600.5 900.7 601.1 902.3 601.7 900.9 602.3 900.4 602.9 900.6 603.5 901.4 604.1 900.7 604.7 900.8 605.3 900.7 605.9 901.0 606.5 901.2 607.1 901.2 607.7 899.6 608.3 900.0 608.9 898.8 609.5 901.5 610.1 901.8 610.7 901.9 611.3 901.0 611.9 901.8 612.5 900.8 613.1 900.8 613.7 899.6 614.3 900.2 614.9 900.4 615.5 901.6 616.1 902.2 616.7 900.5 617.3 901.2 617.9 901.1 618.5 900.2 619.1 899.5 619.7 900.2 620.3 899.7 620.9 900.6 621.5 900.7 622.1 900.7 622.7 900.7 623.3 901.2 623.9 900.1 624.5 901.6 625.1 899.5 625.7 900.9 626.3 901.2 626.9 900.2 627.5 899.6 628.1 901.3 628.7 900.3 629.3 901.5 629.9 901.4 630.5 900.8 631.1 900.8 631.7 901.6 632.3 901.1 632.9 900.1 633.5 901.0 634.1 901.3 634.7 901.0 635.3 901.0 635.9 900.7 636.5 900.7 637.1 900.1 637.7 899.7 638.3 901.7 638.9 900.3 639.5 901.0 640.1 899.6 640.7 900.9 641.3 900.2 641.9 903.2 642.5 900.0 643.1 900.0 643.7 901.6 644.3 901.7 644.9 899.1 645.5 901.0 646.1 901.5 646.7 899.8 647.3 901.4 647.9 900.4 648.5 900.0 649.1 900.5 649.7 900.4 650.3 899.7 650.9 902.6 651.5 900.4 652.1 900.2 652.7 901.5 653.3 900.7 653.9 901.9 654.5 900.6 655.1 901.1 655.7 900.9 656.3 900.9 656.9 900.6 657.5 900.7 658.1 902.1 658.7 900.2 659.3 900.4 659.9 900.5 660.5 901.2 661.1 901.1 661.7 901.5 662.3 899.7 662.9 901.0 663.5 900.6 664.1 900.6 664.7 900.9 665.3 899.2 665.9 901.0 666.5 900.9 667.1 899.6 667.7 900.7 668.3 902.0 668.9 900.5 669.5 901.2 670.1 900.6 670.7 900.1 671.3 900.0 671.9 900.5 672.5 901.8 673.1 901.4 673.7 900.2 674.3 901.6 674.9 900.7 675.5 900.2 676.1 901.1 676.7 900.0 677.3 899.5 677.9 901.8 678.5 899.3 679.1 901.2 679.7 899.5 680.3 900.7 680.9 900.6 681.5 900.4 682.1 899.0 682.7 900.7 683.3 900.7 683.9 900.0 684.5 900.7 685.1 901.5 685.7 900.2 686.3 901.0 686.9 899.8 687.5 901.0 688.1 901.3 688.7 902.7 689.3 901.5 689.9 901.1 690.5 901.9 691.1 900.0 691.7 901.6 692.3 900.3 692.9 900.3 693.5 901.6 694.1 900.9 694.7 901.8 695.3 899.6 695.9 901.0 696.5 900.3 697.1 900.5 697.7 899.2 698.3 901.5 698.9 900.9 699.5 900.0 700.1 899.7 700.7 900.0 701.3 901.8 701.9 900.7 702.5 900.5 703.1 901.1 703.7 900.7 704.3 900.9 704.9 901.3 705.5 901.0 706.1 901.4 706.7 899.8 707.3 900.8 707.9 900.4 708.5 900.8 709.1 900.7 709.7 900.2 710.3 900.4 710.9 901.5 711.5 900.3 712.1 899.7 712.7 901.2 713.3 901.5 713.9 900.5 714.5 900.8 715.1 900.1 715.7 900.6 716.3 901.6 716.9 901.3 717.5 900.8 718.1 900.5 718.7 899.4 719.3 901.0 719.9 901.1 720.5 901.5 721.1 902.3 721.7 901.0 722.3 901.5 722.9 899.8 723.5 901.7 724.1 901.4 724.7 901.8 725.3 901.2 725.9 901.1 726.5 901.9 727.1 900.2 727.7 901.2 728.3 901.6 728.9 900.1 729.5 899.8 730.1 901.0 730.7 900.8 731.3 901.2 731.9 901.2 732.5 900.1 733.1 901.0 733.7 901.6 734.3 900.4 734.9 900.5 735.5 899.8 736.1 901.3 736.7 902.2 737.3 899.6 737.9 901.3 738.5 901.4 739.1 900.3 739.7 900.4 740.3 899.9 740.9 900.1 741.5 900.8 742.1 901.2 742.7 900.8 743.3 901.4 743.9 900.9 744.5 899.8 745.1 901.8 745.7 901.6 746.3 900.1 746.9 902.1 747.5 901.1 748.1 900.8 748.7 902.2 749.3 898.7 749.9 899.4 750.5 901.2 751.1 900.5 751.7 900.0 752.3 901.9 752.9 901.1 753.5 899.7 754.1 900.2 754.7 901.3 755.3 902.1 755.9 899.1 756.5 900.9 757.1 900.4 757.7 899.3 758.3 900.6 758.9 899.4 759.5 900.3 760.1 901.9 760.7 901.1 761.3 901.3 761.9 901.1 762.5 901.0 763.1 901.4 763.7 899.8 764.3 900.4 764.9 901.3 765.5 900.1 766.1 900.3 766.7 901.6 767.3 901.9 767.9 900.2 768.5 900.0 769.1 901.1 769.7 900.9 770.3 900.1 770.9 901.1 771.5 901.1 772.1 900.7 772.7 903.0 773.3 901.7 773.9 901.3 774.5 901.5 775.1 903.0 775.7 901.5 776.3 900.1 776.9 900.9 777.5 900.7 778.1 900.2 778.7 900.9 779.3 900.9 779.9 900.6 780.5 900.3 781.1 901.3 781.7 899.4 782.3 901.3 782.9 900.7 783.5 900.9 784.1 898.8 784.7 902.0 785.3 899.3 785.9 900.0 786.5 901.2 787.1 900.2 787.7 900.3 788.3 898.9 788.9 900.3 789.5 900.8 790.1 901.2 790.7 900.4 791.3 900.8 791.9 901.0 792.5 900.1 793.1 900.1 793.7 902.2 794.3 900.0 794.9 901.6 795.5 900.7 796.1 901.8 796.7 900.1 797.3 901.0 797.9 900.9 798.5 900.5 799.1 900.9 799.7 900.0 800.3 900.6 800.9 900.3 801.5 901.2 802.1 900.6 802.7 899.5 803.3 900.3 803.9 900.6 804.5 899.9 805.1 901.7 805.7 900.9 806.3 901.3 806.9 900.0 807.5 900.3 808.1 901.4 808.7 899.5 809.3 900.9 809.9 900.7 810.5 900.2 811.1 900.7 811.7 899.8 812.3 900.8 812.9 899.7 813.5 899.6 814.1 901.7 814.7 900.1 815.3 899.0 815.9 901.4 816.5 900.0 817.1 897.8 817.7 900.6 818.3 901.3 818.9 900.9 819.5 902.0 820.1 900.5 820.7 901.1 821.3 899.8 821.9 900.7 822.5 901.8 823.1 901.0 823.7 900.7 824.3 899.0 824.9 900.3 825.5 899.6 826.1 901.2 826.7 900.0 827.3 900.9 827.9 899.8 828.5 902.1 829.1 899.7 829.7 900.7 830.3 902.7 830.9 900.8 831.5 899.9 832.1 901.1 832.7 901.4 833.3 901.3 833.9 899.0 834.5 900.8 835.1 898.9 835.7 902.1 836.3 900.6 836.9 900.2 837.5 901.1 838.1 901.0 838.7 899.6 839.3 901.9 839.9 900.4 840.5 899.2 841.1 901.7 841.7 901.8 842.3 901.6 842.9 901.0 843.5 899.9 844.1 901.3 844.7 902.0 845.3 901.2 845.9 901.8 846.5 900.0 847.1 901.4 847.7 901.3 848.3 899.4 848.9 899.3 849.5 900.0 850.1 900.6 850.7 900.9 851.3 900.4 851.9 900.5 852.5 900.5 853.1 900.6 853.7 901.0 854.3 901.0 854.9 900.5 855.5 900.8 856.1 900.2 856.7 901.2 857.3 900.2 857.9 901.9 858.5 900.5 859.1 900.8 859.7 899.9 860.3 900.3 860.9 900.7 861.5 900.6 862.1 900.1 862.7 899.6 863.3 900.6 863.9 900.7 864.5 901.0 865.1 901.5 865.7 900.3 866.3 899.0 866.9 900.4 867.5 899.1 868.1 899.5 868.7 901.4 869.3 901.0 869.9 900.0 870.5 900.0 871.1 900.5 871.7 899.1 872.3 900.9 872.9 900.3 873.5 902.0 874.1 899.7 874.7 901.3 875.3 900.0 875.9 901.3 876.5 899.8 877.1 901.1 877.7 900.2 878.3 899.9 878.9 900.4 879.5 900.9 880.1 900.8 880.7 901.8 881.3 901.2 881.9 898.4 882.5 900.2 883.1 898.9 883.7 900.2 884.3 901.0 884.9 899.5 885.5 899.6 886.1 900.6 886.7 900.3 887.3 901.8 887.9 900.8 888.5 900.9 889.1 901.9 889.7 900.1 890.3 900.5 890.9 899.7 891.5 900.7 892.1 901.3 892.7 901.6 893.3 900.5 893.9 899.9 894.5 899.9 895.1 899.4 895.7 900.6 896.3 901.6 896.9 898.6 897.5 898.8 898.1 901.6 898.7 899.2 899.3 900.8 899.9 899.5 900.5 901.1 901.1 901.1 901.7 900.6 902.3 901.2 902.9 900.5 903.5 900.9 904.1 902.0 904.7 901.4 905.3 900.0 905.9 899.9 906.5 900.3 907.1 900.3 907.7 900.5 908.3 900.0 908.9 901.0 909.5 900.5 910.1 900.8 910.7 900.5 911.3 901.0 911.9 899.5 912.5 901.7 913.1 900.8 913.7 900.8 914.3 901.0 914.9 901.3 915.5 901.1 916.1 900.7 916.7 900.3 917.3 899.2 917.9 900.7 918.5 900.2 919.1 900.2 919.7 902.4 920.3 899.0 920.9 900.5 921.5 901.4 922.1 901.2 922.7 901.5 923.3 899.5 923.9 899.7 924.5 901.0 925.1 900.2 925.7 901.8 926.3 900.7 926.9 900.6 927.5 900.8 928.1 900.3 928.7 900.6 929.3 899.9 929.9 900.4 930.5 900.1 931.1 900.7 931.7 899.3 932.3 899.3 932.9 900.8 933.5 900.6 934.1 899.7 934.7 900.3 935.3 899.6 935.9 902.1 936.5 899.2 937.1 901.8 937.7 899.8 938.3 900.8 938.9 900.3 939.5 900.2 940.1 901.2 940.7 901.1 941.3 900.2 941.9 899.7 942.5 902.1 943.1 901.6 943.7 900.6 944.3 900.2 944.9 900.7 945.5 900.5 946.1 901.4 946.7 899.7 947.3 900.5 947.9 899.8 948.5 901.5 949.1 901.9 949.7 900.4 950.3 900.9 950.9 901.6 951.5 900.2 952.1 899.7 952.7 901.3 953.3 900.8 953.9 900.3 954.5 901.6 955.1 900.6 955.7 899.0 956.3 900.7 956.9 900.4 957.5 901.9 958.1 900.4 958.7 900.3 959.3 900.8 959.9 900.6 960.5 899.3 961.1 900.5 961.7 900.2 962.3 901.6 962.9 902.3 963.5 899.5 964.1 899.7 964.7 899.8 965.3 899.9 965.9 899.9 966.5 900.5 967.1 901.3 967.7 899.4 968.3 899.2 968.9 898.9 969.5 901.3 970.1 901.5 970.7 899.2 971.3 899.1 971.9 900.5 972.5 901.3 973.1 901.2 973.7 900.6 974.3 901.0 974.9 900.7 975.5 900.0 976.1 901.9 976.7 900.4 977.3 899.5 977.9 900.0 978.5 899.2 979.1 900.4 979.7 901.3 980.3 899.4 980.9 901.3 981.5 902.1 982.1 900.7 982.7 899.5 983.3 899.7 983.9 900.1 984.5 899.4 985.1 899.4 985.7 900.2 986.3 900.3 986.9 900.9 987.5 899.4 988.1 901.9 988.7 901.2 989.3 901.1 989.9 899.9 990.5 901.8 991.1 900.1 991.7 901.8 992.3 901.2 992.9 899.7 993.5 900.0 994.1 901.9 994.7 901.2 995.3 900.3 995.9 900.5 996.5 900.5 997.1 899.8 997.7 900.2 998.3 899.9 998.9 900.0 999.5 900.8 1000.1 899.6 1000.7 901.0 1001.3 900.5 1001.9 901.0 1002.5 901.1 1003.1 901.4 1003.7 900.9 1004.3 900.9 1004.9 900.2 1005.5 900.8 1006.1 899.6 1006.7 900.2 1007.3 901.0 1007.9 900.3 1008.5 900.7 1009.1 899.5 1009.7 901.4 1010.3 899.9 1010.9 900.7 1011.5 900.3 1012.1 901.1 1012.7 900.0 1013.3 899.5 1013.9 898.8 1014.5 900.1 1015.1 899.4 1015.7 900.8 1016.3 901.5 1016.9 898.5 1017.5 899.3 1018.1 900.6 1018.7 901.3 1019.3 900.6 1019.9 900.6 1020.5 900.7 1021.1 900.8 1021.7 901.6 1022.3 900.8 1022.9 899.3 1023.5 899.9 1024.1 900.5 1024.7 899.7 1025.3 900.1 1025.9 899.9 1026.5 899.7 1027.1 900.9 1027.7 900.0 1028.3 899.4 1028.9 899.7 1029.5 900.3 1030.1 902.0 1030.7 900.5 1031.3 901.5 1031.9 900.7 1032.5 898.6 1033.1 900.6 1033.7 899.6 1034.3 899.2 1034.9 899.4 1035.5 901.7 1036.1 899.0 1036.7 899.8 1037.3 901.2 1037.9 900.8 1038.5 898.9 1039.1 900.2 1039.7 899.8 1040.3 900.1 1040.9 900.9 1041.5 899.8 1042.1 900.0 1042.7 901.4 1043.3 898.8 1043.9 900.0 1044.5 900.6 1045.1 899.2 1045.7 899.7 1046.3 899.2 1046.9 900.4 1047.5 899.7 1048.1 900.9 1048.7 901.1 1049.3 900.3 1049.9 899.9 1050.5 900.4 1051.1 900.3 1051.7 899.2 1052.3 901.1 1052.9 900.4 1053.5 900.9 1054.1 899.1 1054.7 900.9 1055.3 901.9 1055.9 900.7 1056.5 899.0 1057.1 900.2 1057.7 900.2 1058.3 900.4 1058.9 900.0 1059.5 900.6 1060.1 899.8 1060.7 900.4 1061.3 899.6 1061.9 900.3 1062.5 901.0 1063.1 899.8 1063.7 900.7 1064.3 899.5 1064.9 899.9 1065.5 900.0 1066.1 901.2 1066.7 899.6 1067.3 901.2 1067.9 899.0 1068.5 900.0 1069.1 900.9 1069.7 900.7 1070.3 899.4 1070.9 899.2 1071.5 900.9 1072.1 899.1 1072.7 900.6 1073.3 899.7 1073.9 900.2 1074.5 902.0 1075.1 901.4 1075.7 900.8 1076.3 899.0 1076.9 900.4 1077.5 900.2 1078.1 900.1 1078.7 901.2 1079.3 898.8 1079.9 900.4 1080.5 900.2 1081.1 899.5 1081.7 901.5 1082.3 899.1 1082.9 900.2 1083.5 900.2 1084.1 898.4 1084.7 899.0 1085.3 899.3 1085.9 900.8 1086.5 900.9 1087.1 900.6 1087.7 900.3 1088.3 898.3 1088.9 900.3 1089.5 899.7 1090.1 901.1 1090.7 901.2 1091.3 901.9 1091.9 900.7 1092.5 900.8 1093.1 899.3 1093.7 900.2 1094.3 899.1 1094.9 900.8 1095.5 899.1 1096.1 899.9 1096.7 899.4 1097.3 899.7 1097.9 900.5 1098.5 899.6 1099.1 900.3 1099.7 899.3 1100.3 901.2 1100.9 899.6 1101.5 900.9 1102.1 901.8 1102.7 898.1 1103.3 899.3 1103.9 899.9 1104.5 901.0 1105.1 899.7 1105.7 900.4 1106.3 899.5 1106.9 900.5 1107.5 899.1 1108.1 900.7 1108.7 897.6 1109.3 898.5 1109.9 901.5 1110.5 900.2 1111.1 899.3 1111.7 901.8 1112.3 900.9 1112.9 901.0 1113.5 899.7 1114.1 900.5 1114.7 900.4 1115.3 898.7 1115.9 900.5 1116.5 899.9 1117.1 901.1 1117.7 901.1 1118.3 899.5 1118.9 899.5 1119.5 900.2 1120.1 900.6 1120.7 899.7 1121.3 899.9 1121.9 900.5 1122.5 900.4 1123.1 901.0 1123.7 900.2 1124.3 899.3 1124.9 898.6 1125.5 900.7 1126.1 899.7 1126.7 899.7 1127.3 899.8 1127.9 898.7 1128.5 899.7 1129.1 897.9 1129.7 899.7 1130.3 899.3 1130.9 901.5 1131.5 900.4 1132.1 899.8 1132.7 900.1 1133.3 900.6 1133.9 899.4 1134.5 899.8 1135.1 899.7 1135.7 902.0 1136.3 900.0 1136.9 898.4 1137.5 900.6 1138.1 902.1 1138.7 899.2 1139.3 902.8 1139.9 899.9 1140.5 900.8 1141.1 899.5 1141.7 899.7 1142.3 898.9 1142.9 899.1 1143.5 898.2 1144.1 900.9 1144.7 899.0 1145.3 900.2 1145.9 900.2 1146.5 899.4 1147.1 900.0 1147.7 899.9 1148.3 899.5 1148.9 900.0 1149.5 900.0 1150.1 899.1 1150.7 898.9 1151.3 899.2 1151.9 900.0 1152.5 901.1 1153.1 901.1 1153.7 900.2 1154.3 900.7 1154.9 900.0 1155.5 900.8 1156.1 900.0 1156.7 900.2 1157.3 899.7 1157.9 899.9 1158.5 901.5 1159.1 898.9 1159.7 899.9 1160.3 899.4 1160.9 900.7 1161.5 901.4 1162.1 899.6 1162.7 897.6 1163.3 900.4 1163.9 900.4 1164.5 898.5 1165.1 899.7 1165.7 899.8 1166.3 898.0 1166.9 900.4 1167.5 900.2 1168.1 900.1 1168.7 899.0 1169.3 899.3 1169.9 899.3 1170.5 900.3 1171.1 899.0 1171.7 901.1 1172.3 900.2 1172.9 898.1 1173.5 901.3 1174.1 900.0 1174.7 899.4 1175.3 899.9 1175.9 898.3 1176.5 900.0 1177.1 897.8 1177.7 899.0 1178.3 901.0 1178.9 900.9 1179.5 899.6 1180.1 899.0 1180.7 900.6 1181.3 899.8 1181.9 900.0 1182.5 900.3 1183.1 898.9 1183.7 900.5 1184.3 898.1 1184.9 901.0 1185.5 898.5 1186.1 899.3 1186.7 899.3 1187.3 900.4 1187.9 900.4 1188.5 900.1 1189.1 900.3 1189.7 900.2 1190.3 899.7 1190.9 898.2 1191.5 897.9 1192.1 897.9 1192.7 899.8 1193.3 899.6 1193.9 899.7 1194.5 900.0 1195.1 899.6 1195.7 898.9 1196.3 898.5 1196.9 898.2 1197.5 900.8 1198.1 900.5 1198.7 898.6 1199.3 899.5 1199.9 900.1 1200.5 901.1 1201.1 899.3 1201.7 899.9 1202.3 900.7 1202.9 898.3 1203.5 899.1 1204.1 899.7 1204.7 899.1 1205.3 901.5 1205.9 900.5 1206.5 899.9 1207.1 898.9 1207.7 900.5 1208.3 900.3 1208.9 899.3 1209.5 899.4 1210.1 898.5 1210.7 899.7 1211.3 900.5 1211.9 900.6 1212.5 900.2 1213.1 900.4 1213.7 899.2 1214.3 899.3 1214.9 900.7 1215.5 900.1 1216.1 899.1 1216.7 900.1 1217.3 900.4 1217.9 900.3 1218.5 899.8 1219.1 899.3 1219.7 900.0 1220.3 901.1 1220.9 899.8 1221.5 899.1 1222.1 900.0 1222.7 898.7 1223.3 899.9 1223.9 899.4 1224.5 900.5 1225.1 899.8 1225.7 900.6 1226.3 901.6 1226.9 899.5 1227.5 899.0 1228.1 900.1 1228.7 899.6 1229.3 899.8 1229.9 899.2 1230.5 900.1 1231.1 899.7 1231.7 897.9 1232.3 899.5 1232.9 899.9 1233.5 900.6 1234.1 899.2 1234.7 899.0 1235.3 900.6 1235.9 899.1 1236.5 899.7 1237.1 900.0 1237.7 900.3 1238.3 899.7 1238.9 898.7 1239.5 900.5 1240.1 899.3 1240.7 899.2 1241.3 901.3 1241.9 900.4 1242.5 898.8 1243.1 899.2 1243.7 899.4 1244.3 899.0 1244.9 898.0 1245.5 900.3 1246.1 900.3 1246.7 899.8 1247.3 899.3 1247.9 899.8 1248.5 900.1 1249.1 898.7 1249.7 899.3 1250.3 899.1 1250.9 900.2 1251.5 899.8 1252.1 898.5 1252.7 899.1 1253.3 901.1 1253.9 898.8 1254.5 899.7 1255.1 899.1 1255.7 900.6 1256.3 899.5 1256.9 899.2 1257.5 898.6 1258.1 899.4 1258.7 900.3 1259.3 900.1 1259.9 898.5 1260.5 900.9 1261.1 899.4 1261.7 898.7 1262.3 899.7 1262.9 899.1 1263.5 899.1 1264.1 899.0 1264.7 899.5 1265.3 899.2 1265.9 898.1 1266.5 900.0 1267.1 899.1 1267.7 900.5 1268.3 900.0 1268.9 900.1 1269.5 899.7 1270.1 900.6 1270.7 899.3 1271.3 898.7 1271.9 899.8 1272.5 897.3 1273.1 899.2 1273.7 899.7 1274.3 899.2 1274.9 900.6 1275.5 900.1 1276.1 899.6 1276.7 899.2 1277.3 900.4 1277.9 899.0 1278.5 899.2 1279.1 900.1 1279.7 900.0 1280.3 901.2 1280.9 899.3 1281.5 898.0 1282.1 900.1 1282.7 900.6 1283.3 899.4 1283.9 900.8 1284.5 901.0 1285.1 899.0 1285.7 899.1 1286.3 898.5 1286.9 899.9 1287.5 900.1 1288.1 900.0 1288.7 898.5 1289.3 898.9 1289.9 898.3 1290.5 898.2 1291.1 898.4 1291.7 898.2 1292.3 899.3 1292.9 899.8 1293.5 900.0 1294.1 899.5 1294.7 898.9 1295.3 899.5 1295.9 899.9 1296.5 899.2 1297.1 899.5 1297.7 899.2 1298.3 899.0 1298.9 899.5 1299.5 898.5 1300.1 900.3 1300.7 898.2 1301.3 899.8 1301.9 898.3 1302.5 900.7 1303.1 900.2 1303.7 898.8 1304.3 899.1 1304.9 898.5 1305.5 899.4 1306.1 899.8 1306.7 901.5 1307.3 898.3 1307.9 900.5 1308.5 899.0 1309.1 899.7 1309.7 900.2 1310.3 899.9 1310.9 899.8 1311.5 899.3 1312.1 899.4 1312.7 899.5 1313.3 900.4 1313.9 898.2 1314.5 899.0 1315.1 898.4 1315.7 898.6 1316.3 898.8 1316.9 900.3 1317.5 901.2 1318.1 900.5 1318.7 898.4 1319.3 899.5 1319.9 898.5 1320.5 899.8 1321.1 900.4 1321.7 899.9 1322.3 900.1"/>
<path stroke="#cc9a06" stroke-width="4.5" d="M106.2 809.9 106.8 809.8 107.3 810.4 107.9 809.9 108.5 809.9 109.1 810.0 109.7 809.8 110.3 810.0 110.9 810.3 111.5 810.3 112.1 809.6 112.7 808.9 113.3 809.4 113.9 810.0 114.5 808.5 115.1 809.6 115.7 810.1 116.3 809.6 116.9 809.3 117.5 810.9 118.1 810.7 118.7 809.8 119.3 810.6 119.9 810.6 120.5 809.3 121.1 811.4 121.7 809.4 122.3 809.8 122.9 809.3 123.5 810.0 124.1 809.2 124.7 809.9 125.3 810.5 125.9 810.0 126.5 809.8 127.1 810.8 127.7 809.4 128.3 810.5 128.9 809.8 129.5 810.1 130.1 810.0 130.7 810.0 131.3 809.9 131.9 809.5 132.5 809.6 133.1 810.2 133.7 809.9 134.3 809.3 134.9 809.6 135.5 809.6 136.1 809.9 136.7 810.1 137.3 810.0 137.9 809.6 138.5 810.0 139.1 809.2 139.7 808.4 140.3 809.9 140.9 809.0 141.5 809.4 142.1 809.3 142.7 810.3 143.3 809.3 143.9 810.1 144.5 809.7 145.1 809.2 145.7 809.1 146.3 810.2 146.9 810.1 147.5 810.3 148.1 810.9 148.7 810.0 149.3 810.0 149.9 809.7 150.5 809.8 151.1 809.4 151.7 809.0 152.3 810.4 152.9 808.0 153.5 808.8 154.1 807.9 154.7 805.0 155.3 797.0 155.9 786.5 156.1 785.0 156.5 786.0 157.1 792.3 157.7 800.3 158.3 805.6 158.9 808.4 159.5 808.2 160.1 809.4 160.7 809.1 161.3 809.8 161.9 809.7 162.5 809.9 163.1 809.3 163.7 809.4 164.3 809.4 164.9 810.0 165.5 810.4 166.1 810.6 166.7 809.7 167.3 810.1 167.9 809.1 168.5 808.8 169.1 809.6 169.7 809.7 170.3 809.2 170.9 809.1 171.5 810.4 172.1 809.6 172.7 809.2 173.3 811.4 173.9 810.2 174.5 809.9 175.1 810.5 175.7 809.7 176.3 811.0 176.9 809.3 177.5 809.4 178.1 810.1 178.7 809.7 179.3 810.9 179.9 809.3 180.5 809.8 181.1 810.3 181.7 810.5 182.3 810.7 182.9 810.4 183.5 811.4 184.1 809.9 184.7 810.3 185.3 810.6 185.9 810.0 186.5 810.0 187.1 809.9 187.7 809.8 188.3 809.6 188.9 809.9 189.5 809.4 190.1 810.4 190.7 809.3 191.3 811.3 191.9 811.1 192.5 810.8 193.1 810.1 193.7 809.9 194.3 810.9 194.9 810.3 195.5 810.5 196.1 809.8 196.7 810.8 197.3 809.8 197.9 810.3 198.5 809.3 199.1 809.9 199.7 810.5 200.3 810.0 200.9 810.0 201.5 810.7 202.1 810.2 202.7 810.9 203.3 808.9 203.9 810.6 204.5 810.6 205.1 809.4 205.7 809.6 206.3 810.8 206.9 809.7 207.5 809.9 208.1 810.6 208.7 810.1 209.3 810.6 209.9 809.8 210.5 810.5 211.1 810.9 211.7 810.5 212.3 809.1 212.9 810.7 213.5 810.4 214.1 809.8 214.7 811.1 215.3 809.4 215.9 811.4 216.5 810.0 217.1 811.2 217.7 810.3 218.3 809.6 218.9 810.4 219.5 810.5 220.1 810.7 220.7 810.9 221.3 809.9 221.9 810.6 222.5 810.8 223.1 810.2 223.7 809.9 224.3 809.9 224.9 810.8 225.5 810.8 226.1 809.9 226.7 809.7 227.3 811.1 227.9 809.5 228.5 810.5 229.1 810.0 229.7 809.4 230.3 810.5 230.9 810.3 231.5 811.2 232.1 811.7 232.7 810.3 233.3 811.0 233.9 811.0 234.5 810.1 235.1 810.0 235.7 811.3 236.3 810.2 236.9 810.4 237.5 810.3 238.1 810.4 238.7 810.1 239.3 810.9 239.9 811.1 240.5 810.3 241.1 809.7 241.7 810.5 242.3 809.7 242.9 810.1 243.5 811.1 244.1 811.7 244.7 810.7 245.3 809.9 245.9 810.9 246.5 809.3 247.1 810.1 247.7 811.3 248.3 810.9 248.9 809.7 249.5 809.6 250.1 811.0 250.7 810.5 251.3 810.2 251.9 810.7 252.5 810.2 253.1 809.5 253.7 811.0 254.3 810.2 254.9 810.0 255.5 809.8 256.1 810.7 256.7 810.1 257.3 810.9 257.9 810.4 258.5 811.1 259.1 810.3 259.7 810.2 260.3 809.5 260.9 810.0 261.5 811.0 262.1 812.2 262.7 809.9 263.3 810.0 263.9 810.8 264.5 810.8 265.1 810.2 265.7 810.6 266.3 809.7 266.9 810.4 267.5 811.1 268.1 811.5 268.7 810.5 269.3 810.5 269.9 810.9 270.5 811.2 271.1 810.9 271.7 810.2 272.3 810.8 272.9 811.1 273.5 810.2 274.1 809.9 274.7 810.9 275.3 810.8 275.9 811.2 276.5 810.7 277.1 810.3 277.7 810.4 278.3 810.1 278.9 810.1 279.5 810.3 280.1 810.4 280.7 811.3 281.3 810.0 281.9 810.6 282.5 810.3 283.1 811.5 283.7 810.8 284.3 810.5 284.9 811.1 285.5 810.7 286.1 810.4 286.7 811.5 287.3 811.1 287.9 811.6 288.5 811.3 289.1 811.1 289.7 810.8 290.3 810.1 290.9 811.1 291.5 810.7 292.1 811.1 292.7 810.7 293.3 810.3 293.9 810.2 294.5 811.1 295.1 811.4 295.7 810.6 296.3 811.0 296.9 811.5 297.5 810.3 298.1 810.6 298.7 810.1 299.3 811.4 299.9 810.9 300.5 810.5 301.1 809.8 301.7 810.6 302.3 811.3 302.9 810.6 303.5 810.5 304.1 811.1 304.7 810.1 305.3 810.8 305.9 811.1 306.5 810.3 307.1 810.3 307.7 810.9 308.3 810.7 308.9 810.6 309.5 810.8 310.1 810.9 310.7 810.2 311.3 810.4 311.9 811.0 312.5 811.3 313.1 811.4 313.7 810.2 314.3 811.3 314.9 811.1 315.5 810.7 316.1 810.9 316.7 811.1 317.3 811.6 317.9 810.0 318.5 810.9 319.1 810.4 319.7 810.4 320.3 811.0 320.9 810.8 321.5 809.6 322.1 809.9 322.7 809.9 323.3 808.6 323.9 809.2 324.5 807.4 325.1 803.6 325.7 793.0 326.3 779.1 326.5 776.6 326.9 780.6 327.5 788.5 328.1 791.2 328.7 800.2 329.3 805.5 329.9 809.0 330.5 809.4 331.1 810.0 331.7 810.1 332.3 810.1 332.9 809.9 333.5 810.0 334.1 810.7 334.7 810.6 335.3 811.5 335.9 810.2 336.5 810.4 337.1 810.1 337.7 811.5 338.3 810.1 338.9 811.2 339.5 811.5 340.1 810.7 340.7 811.2 341.3 809.6 341.9 810.6 342.5 809.9 343.1 810.9 343.7 810.8 344.3 810.4 344.9 811.3 345.5 811.0 346.1 810.5 346.7 810.6 347.3 810.0 347.9 810.7 348.5 812.0 349.1 810.5 349.7 811.1 350.3 810.6 350.9 811.3 351.5 811.1 352.1 810.7 352.7 809.9 353.3 810.6 353.9 811.5 354.5 810.7 355.1 811.2 355.7 810.6 356.3 809.9 356.9 811.1 357.5 811.0 358.1 810.6 358.7 810.7 359.3 811.0 359.9 810.6 360.5 811.1 361.1 810.8 361.7 809.6 362.3 810.8 362.9 810.6 363.5 810.4 364.1 811.1 364.7 810.6 365.3 811.2 365.9 811.5 366.5 811.0 367.1 810.0 367.7 810.5 368.3 811.4 368.9 810.7 369.5 810.4 370.1 810.8 370.7 811.2 371.3 811.0 371.9 811.2 372.5 810.4 373.1 810.7 373.7 810.7 374.3 810.9 374.9 809.7 375.5 810.7 376.1 810.1 376.7 811.6 377.3 811.7 377.9 811.7 378.5 811.3 379.1 810.5 379.7 811.3 380.3 810.7 380.9 811.1 381.5 810.3 382.1 810.4 382.7 811.0 383.3 811.7 383.9 810.7 384.5 811.9 385.1 812.1 385.7 809.9 386.3 810.5 386.9 809.9 387.5 810.3 388.1 810.0 388.7 810.1 389.3 810.6 389.9 810.4 390.5 809.7 391.1 809.3 391.7 808.8 392.3 808.1 392.9 807.2 393.5 804.8 394.1 801.1 394.7 789.2 395.3 732.9 395.9 590.7 396.0 587.7 396.5 701.0 397.1 735.9 397.7 694.7 398.3 769.2 398.9 798.2 399.5 804.5 400.1 806.8 400.7 808.6 401.3 809.1 401.9 809.3 402.5 808.5 403.1 809.3 403.7 810.2 404.3 810.6 404.9 809.8 405.5 810.1 406.1 810.8 406.7 809.5 407.3 809.6 407.9 810.5 408.5 810.8 409.1 810.5 409.7 809.5 410.3 810.8 410.9 810.1 411.5 811.2 412.1 810.8 412.7 811.0 413.3 811.2 413.9 810.6 414.5 811.4 415.1 811.6 415.7 811.1 416.3 811.7 416.9 810.6 417.5 811.5 418.1 811.1 418.7 810.4 419.3 810.9 419.9 810.7 420.5 810.7 421.1 811.0 421.7 811.6 422.3 810.8 422.9 811.1 423.5 810.2 424.1 811.1 424.7 811.7 425.3 811.5 425.9 811.3 426.5 810.7 427.1 810.5 427.7 811.0 428.3 810.3 428.9 810.4 429.5 811.6 430.1 810.5 430.7 812.0 431.3 810.3 431.9 811.3 432.5 810.4 433.1 811.2 433.7 810.5 434.3 811.1 434.9 811.0 435.5 810.8 436.1 811.3 436.7 811.9 437.3 810.7 437.9 811.5 438.5 811.1 439.1 811.0 439.7 812.3 440.3 809.9 440.9 810.7 441.5 810.1 442.1 810.9 442.7 810.9 443.3 813.1 443.9 811.2 444.5 812.0 445.1 811.7 445.7 810.8 446.3 811.3 446.9 811.9 447.5 811.1 448.1 811.1 448.7 811.2 449.3 810.1 449.9 810.5 450.5 811.1 451.1 811.1 451.7 810.3 452.3 810.6 452.9 810.6 453.5 810.5 454.1 810.8 454.7 810.3 455.3 810.0 455.9 808.7 456.5 808.1 457.1 807.3 457.7 802.1 458.3 785.3 458.9 745.0 459.1 741.1 459.5 763.7 460.1 786.0 460.7 774.7 461.3 784.6 461.9 802.3 462.5 808.9 463.1 807.8 463.7 809.6 464.3 809.9 464.9 810.8 465.5 810.3 466.1 809.3 466.7 811.5 467.3 810.2 467.9 810.8 468.5 810.2 469.1 810.3 469.7 810.7 470.3 811.5 470.9 811.5 471.5 810.7 472.1 811.3 472.7 810.9 473.3 811.2 473.9 811.2 474.5 811.5 475.1 810.8 475.7 811.1 476.3 811.3 476.9 811.2 477.5 810.7 478.1 812.1 478.7 810.9 479.3 811.6 479.9 811.3 480.5 811.8 481.1 810.0 481.7 812.3 482.3 811.1 482.9 810.5 483.5 811.3 484.1 812.4 484.7 811.5 485.3 810.5 485.9 811.0 486.5 811.9 487.1 810.4 487.7 811.1 488.3 811.1 488.9 812.4 489.5 811.1 490.1 811.9 490.7 810.9 491.3 810.8 491.9 811.8 492.5 811.6 493.1 810.3 493.7 811.6 494.3 811.6 494.9 810.9 495.5 811.4 496.1 811.4 496.7 811.0 497.3 810.9 497.9 810.9 498.5 811.1 499.1 810.5 499.7 811.2 500.3 810.4 500.9 811.3 501.5 811.2 502.1 810.7 502.7 811.7 503.3 812.3 503.9 812.0 504.5 810.5 505.1 811.9 505.7 811.4 506.3 811.2 506.9 810.9 507.5 811.2 508.1 812.0 508.7 811.5 509.3 811.0 509.9 810.9 510.5 811.0 511.1 811.6 511.7 812.3 512.3 810.7 512.9 811.2 513.5 811.0 514.1 810.8 514.7 811.5 515.3 811.5 515.9 810.5 516.5 810.7 517.1 811.9 517.7 811.4 518.3 811.5 518.9 811.0 519.5 811.0 520.1 811.5 520.7 811.0 521.3 810.6 521.9 811.2 522.5 811.7 523.1 810.7 523.7 811.8 524.3 811.6 524.9 810.7 525.5 811.2 526.1 811.2 526.7 811.6 527.3 811.6 527.9 810.5 528.5 810.5 529.1 811.8 529.7 811.3 530.3 811.4 530.9 811.4 531.5 812.0 532.1 810.5 532.7 811.8 533.3 810.8 533.9 811.6 534.5 811.9 535.1 810.4 535.7 811.4 536.3 811.0 536.9 811.0 537.5 811.2 538.1 810.6 538.7 810.7 539.3 811.5 539.9 811.6 540.5 810.9 541.1 810.4 541.7 812.4 542.3 811.8 542.9 811.4 543.5 810.6 544.1 810.9 544.7 811.3 545.3 810.6 545.9 812.0 546.5 811.2 547.1 811.4 547.7 810.6 548.3 810.7 548.9 810.7 549.5 811.3 550.1 811.0 550.7 811.0 551.3 811.3 551.9 811.3 552.5 811.9 553.1 811.0 553.7 810.6 554.3 811.1 554.9 811.9 555.5 810.8 556.1 811.2 556.7 810.9 557.3 811.3 557.9 811.3 558.5 810.7 559.1 811.0 559.7 811.6 560.3 811.7 560.9 811.6 561.5 811.5 562.1 810.9 562.7 810.9 563.3 811.5 563.9 810.4 564.5 811.0 565.1 810.0 565.7 810.8 566.3 810.6 566.9 810.3 567.5 811.2 568.1 810.4 568.7 810.5 569.3 810.5 569.9 810.1 570.5 810.9 571.1 809.4 571.7 809.0 572.3 807.2 572.9 806.4 573.5 805.6 573.7 805.5 574.1 805.3 574.7 806.1 575.3 807.4 575.9 807.1 576.5 808.0 577.1 808.7 577.7 811.0 578.3 811.0 578.9 810.7 579.5 811.0 580.1 810.3 580.7 810.7 581.3 811.0 581.9 811.0 582.5 810.5 583.1 810.5 583.7 811.2 584.3 811.1 584.9 809.9 585.5 811.1 586.1 811.7 586.7 810.7 587.3 811.2 587.9 810.2 588.5 811.5 589.1 810.4 589.7 810.4 590.3 810.9 590.9 812.3 591.5 810.7 592.1 810.4 592.7 811.3 593.3 811.2 593.9 812.0 594.5 810.4 595.1 810.2 595.7 810.9 596.3 811.3 596.9 811.3 597.5 811.6 598.1 810.3 598.7 810.6 599.3 811.0 599.9 811.5 600.5 811.3 601.1 810.8 601.7 810.5 602.3 811.5 602.9 811.6 603.5 812.5 604.1 811.0 604.7 811.9 605.3 810.4 605.9 810.8 606.5 810.7 607.1 810.8 607.7 810.6 608.3 810.8 608.9 811.0 609.5 810.8 610.1 811.4 610.7 811.0 611.3 811.0 611.9 811.8 612.5 811.2 613.1 811.1 613.7 811.0 614.3 811.1 614.9 811.3 615.5 810.6 616.1 811.7 616.7 811.9 617.3 811.7 617.9 810.8 618.5 810.2 619.1 810.8 619.7 811.1 620.3 811.5 620.9 810.9 621.5 810.9 622.1 811.8 622.7 810.7 623.3 811.6 623.9 811.5 624.5 810.3 625.1 811.2 625.7 810.7 626.3 810.5 626.9 810.0 627.5 810.2 628.1 811.2 628.7 810.8 629.3 811.2 629.9 810.4 630.5 810.8 631.1 810.9 631.7 810.2 632.3 810.1 632.9 811.2 633.5 811.1 634.1 810.5 634.7 810.9 635.3 811.4 635.9 812.0 636.5 810.5 637.1 811.3 637.7 812.1 638.3 811.0 638.9 811.8 639.5 809.6 640.1 811.8 640.7 811.0 641.3 810.0 641.9 811.4 642.5 811.5 643.1 811.6 643.7 811.6 644.3 811.0 644.9 810.6 645.5 810.7 646.1 811.0 646.7 811.2 647.3 810.7 647.9 811.0 648.5 811.4 649.1 811.1 649.7 812.2 650.3 812.1 650.9 810.3 651.5 810.7 652.1 810.2 652.7 810.3 653.3 811.2 653.9 810.4 654.5 810.4 655.1 810.8 655.7 811.4 656.3 810.7 656.9 810.7 657.5 811.4 658.1 811.2 658.7 811.2 659.3 811.4 659.9 810.4 660.5 811.0 661.1 810.6 661.7 811.5 662.3 811.3 662.9 810.3 663.5 811.6 664.1 810.3 664.7 811.5 665.3 811.0 665.9 810.4 666.5 810.2 667.1 810.7 667.7 810.8 668.3 810.4 668.9 811.1 669.5 810.0 670.1 810.7 670.7 810.6 671.3 809.5 671.9 810.6 672.5 809.6 673.1 808.7 673.7 809.2 674.3 808.1 674.9 804.9 675.5 796.0 676.0 792.8 676.1 793.3 676.7 800.5 677.3 804.9 677.9 802.7 678.5 800.5 679.1 805.2 679.7 808.8 680.3 809.8 680.9 810.0 681.5 809.5 682.1 810.8 682.7 810.8 683.3 809.9 683.9 810.7 684.5 811.1 685.1 810.7 685.7 811.2 686.3 811.2 686.9 810.0 687.5 810.6 688.1 811.1 688.7 811.3 689.3 811.6 689.9 809.8 690.5 810.8 691.1 811.2 691.7 811.5 692.3 811.8 692.9 810.3 693.5 810.6 694.1 810.3 694.7 811.3 695.3 810.1 695.9 811.5 696.5 811.4 697.1 811.1 697.7 809.7 698.3 810.5 698.9 811.3 699.5 810.1 700.1 810.7 700.7 810.8 701.3 811.3 701.9 811.0 702.5 811.0 703.1 810.6 703.7 810.9 704.3 810.8 704.9 811.3 705.5 810.8 706.1 811.4 706.7 809.9 707.3 811.5 707.9 810.8 708.5 811.5 709.1 810.9 709.7 811.3 710.3 811.7 710.9 810.6 711.5 810.9 712.1 810.8 712.7 811.0 713.3 810.0 713.9 810.8 714.5 810.7 715.1 810.4 715.7 810.8 716.3 810.0 716.9 811.6 717.5 811.1 718.1 811.9 718.7 810.4 719.3 810.2 719.9 811.0 720.5 810.0 721.1 811.0 721.7 810.5 722.3 810.7 722.9 811.0 723.5 810.9 724.1 811.9 724.7 811.2 725.3 810.2 725.9 811.4 726.5 810.2 727.1 810.9 727.7 810.2 728.3 810.4 728.9 811.6 729.5 810.6 730.1 810.5 730.7 810.6 731.3 810.7 731.9 811.7 732.5 810.2 733.1 810.2 733.7 811.2 734.3 810.0 734.9 810.7 735.5 811.5 736.1 810.9 736.7 810.6 737.3 810.5 737.9 810.4 738.5 810.6 739.1 811.0 739.7 811.6 740.3 811.4 740.9 810.6 741.5 810.5 742.1 811.3 742.7 809.9 743.3 810.6 743.9 810.7 744.5 810.3 745.1 810.3 745.7 811.1 746.3 810.0 746.9 810.4 747.5 810.5 748.1 810.9 748.7 810.1 749.3 811.5 749.9 810.7 750.5 810.7 751.1 810.7 751.7 810.5 752.3 810.3 752.9 811.5 753.5 811.0 754.1 810.8 754.7 811.4 755.3 810.4 755.9 811.2 756.5 810.8 757.1 810.3 757.7 811.2 758.3 810.0 758.9 811.1 759.5 810.3 760.1 811.0 760.7 811.5 761.3 811.0 761.9 810.4 762.5 810.7 763.1 810.4 763.7 810.0 764.3 810.0 764.9 810.5 765.5 810.7 766.1 809.3 766.7 810.0 767.3 810.0 767.9 809.3 768.5 807.8 769.1 806.0 769.7 796.7 770.3 784.7 770.6 782.9 770.9 784.8 771.5 798.2 772.1 802.9 772.7 799.6 773.3 795.0 773.9 800.6 774.5 805.7 775.1 808.9 775.7 809.9 776.3 809.6 776.9 809.7 777.5 810.1 778.1 810.5 778.7 810.6 779.3 810.5 779.9 810.7 780.5 810.0 781.1 809.2 781.7 811.0 782.3 811.5 782.9 810.0 783.5 810.4 784.1 810.9 784.7 811.3 785.3 811.1 785.9 811.5 786.5 810.8 787.1 811.0 787.7 811.0 788.3 810.6 788.9 811.5 789.5 811.2 790.1 811.3 790.7 810.6 791.3 811.4 791.9 810.3 792.5 811.0 793.1 809.4 793.7 810.3 794.3 811.2 794.9 810.6 795.5 810.9 796.1 809.9 796.7 811.7 797.3 811.1 797.9 810.8 798.5 811.0 799.1 811.0 799.7 811.6 800.3 810.9 800.9 810.0 801.5 810.7 802.1 811.5 802.7 811.1 803.3 810.5 803.9 811.1 804.5 810.8 805.1 811.1 805.7 809.9 806.3 810.2 806.9 811.0 807.5 810.5 808.1 810.8 808.7 811.6 809.3 810.3 809.9 810.5 810.5 810.0 811.1 809.8 811.7 809.9 812.3 808.9 812.9 808.1 813.5 809.2 814.1 806.8 814.7 802.7 815.3 789.0 815.9 771.5 816.1 770.5 816.5 779.1 817.1 794.5 817.7 801.1 818.3 795.2 818.9 789.4 819.5 797.3 820.1 804.3 820.7 808.8 821.3 808.9 821.9 810.0 822.5 810.0 823.1 810.4 823.7 809.9 824.3 809.9 824.9 810.7 825.5 809.7 826.1 810.2 826.7 811.0 827.3 810.3 827.9 810.2 828.5 810.1 829.1 810.8 829.7 810.6 830.3 810.9 830.9 810.7 831.5 811.8 832.1 810.6 832.7 809.8 833.3 810.9 833.9 810.8 834.5 810.9 835.1 810.0 835.7 811.4 836.3 810.8 836.9 810.8 837.5 810.0 838.1 811.1 838.7 810.8 839.3 811.6 839.9 810.6 840.5 810.2 841.1 810.9 841.7 810.4 842.3 811.1 842.9 810.3 843.5 810.8 844.1 810.7 844.7 810.8 845.3 810.5 845.9 810.4 846.5 810.8 847.1 810.5 847.7 810.9 848.3 810.6 848.9 809.6 849.5 810.7 850.1 811.5 850.7 810.9 851.3 811.0 851.9 810.9 852.5 810.4 853.1 809.8 853.7 810.9 854.3 810.9 854.9 810.5 855.5 810.2 856.1 809.9 856.7 809.1 857.3 808.2 857.9 804.9 858.5 795.9 859.1 780.5 859.4 778.0 859.7 783.2 860.3 796.7 860.9 801.9 861.5 801.5 862.1 793.8 862.7 796.9 863.3 803.9 863.9 808.1 864.5 808.9 865.1 809.2 865.7 810.0 866.3 810.3 866.9 810.0 867.5 810.6 868.1 811.0 868.7 811.0 869.3 810.1 869.9 809.6 870.5 810.8 871.1 810.4 871.7 811.0 872.3 811.7 872.9 811.7 873.5 811.0 874.1 811.4 874.7 811.7 875.3 810.9 875.9 811.0 876.5 811.3 877.1 810.9 877.7 810.6 878.3 810.5 878.9 810.9 879.5 810.6 880.1 811.3 880.7 810.7 881.3 811.7 881.9 811.6 882.5 810.3 883.1 811.5 883.7 810.7 884.3 811.7 884.9 811.2 885.5 810.9 886.1 811.3 886.7 810.6 887.3 811.1 887.9 811.1 888.5 810.9 889.1 811.2 889.7 810.4 890.3 811.2 890.9 810.3 891.5 811.3 892.1 811.2 892.7 811.3 893.3 810.7 893.9 812.6 894.5 810.8 895.1 811.0 895.7 810.6 896.3 811.7 896.9 810.7 897.5 811.5 898.1 810.5 898.7 811.1 899.3 810.8 899.9 811.5 900.5 810.8 901.1 810.5 901.7 811.2 902.3 810.4 902.9 810.5 903.5 811.4 904.1 810.0 904.7 811.4 905.3 810.8 905.9 810.5 906.5 811.1 907.1 811.3 907.7 810.7 908.3 810.9 908.9 811.4 909.5 811.4 910.1 811.0 910.7 810.6 911.3 810.5 911.9 810.7 912.5 811.3 913.1 811.3 913.7 811.1 914.3 811.7 914.9 810.8 915.5 810.8 916.1 810.8 916.7 812.0 917.3 809.9 917.9 811.1 918.5 811.2 919.1 811.0 919.7 812.2 920.3 811.6 920.9 811.4 921.5 810.5 922.1 811.2 922.7 810.8 923.3 811.0 923.9 811.1 924.5 810.7 925.1 811.3 925.7 811.8 926.3 811.5 926.9 811.1 927.5 810.0 928.1 811.5 928.7 811.5 929.3 810.9 929.9 810.7 930.5 811.3 931.1 810.5 931.7 811.3 932.3 810.4 932.9 810.4 933.5 810.9 934.1 810.1 934.7 810.8 935.3 811.1 935.9 810.1 936.5 811.2 937.1 810.4 937.7 810.9 938.3 810.6 938.9 810.2 939.5 810.0 940.1 809.1 940.7 809.0 941.3 807.8 941.9 806.8 942.5 802.9 943.1 797.9 943.5 798.1 943.7 798.1 944.3 800.9 944.9 804.2 945.5 805.4 946.1 804.0 946.7 803.4 947.3 804.9 947.9 806.4 948.5 808.7 949.1 809.6 949.7 809.8 950.3 809.9 950.9 810.7 951.5 811.1 952.1 810.9 952.7 810.3 953.3 811.2 953.9 810.9 954.5 811.2 955.1 811.5 955.7 810.4 956.3 810.9 956.9 810.6 957.5 810.5 958.1 812.0 958.7 811.5 959.3 810.1 959.9 811.2 960.5 810.7 961.1 811.6 961.7 811.0 962.3 810.9 962.9 811.1 963.5 811.2 964.1 811.0 964.7 810.9 965.3 811.0 965.9 811.3 966.5 810.5 967.1 811.0 967.7 811.0 968.3 810.8 968.9 811.4 969.5 810.4 970.1 810.9 970.7 810.6 971.3 811.3 971.9 810.8 972.5 811.1 973.1 811.3 973.7 810.2 974.3 811.3 974.9 810.7 975.5 810.9 976.1 811.0 976.7 811.5 977.3 811.4 977.9 812.0 978.5 811.2 979.1 810.8 979.7 810.8 980.3 811.4 980.9 811.9 981.5 811.2 982.1 810.8 982.7 811.2 983.3 811.2 983.9 811.1 984.5 810.7 985.1 809.8 985.7 810.8 986.3 811.6 986.9 811.2 987.5 809.9 988.1 811.1 988.7 810.1 989.3 812.1 989.9 811.2 990.5 810.5 991.1 811.5 991.7 810.7 992.3 811.4 992.9 811.1 993.5 810.5 994.1 811.4 994.7 810.4 995.3 811.8 995.9 811.1 996.5 810.6 997.1 810.1 997.7 811.9 998.3 811.8 998.9 810.4 999.5 811.9 1000.1 811.2 1000.7 811.0 1001.3 811.0 1001.9 810.9 1002.5 811.8 1003.1 811.2 1003.7 810.1 1004.3 812.2 1004.9 811.5 1005.5 810.5 1006.1 810.9 1006.7 810.6 1007.3 811.1 1007.9 811.3 1008.5 811.2 1009.1 810.8 1009.7 810.7 1010.3 811.5 1010.9 811.0 1011.5 812.2 1012.1 810.6 1012.7 811.5 1013.3 811.1 1013.9 810.7 1014.5 811.7 1015.1 811.1 1015.7 810.6 1016.3 810.9 1016.9 811.5 1017.5 810.4 1018.1 811.7 1018.7 811.3 1019.3 810.8 1019.9 811.6 1020.5 811.7 1021.1 810.9 1021.7 810.5 1022.3 811.0 1022.9 810.4 1023.5 808.8 1024.0 809.0 1024.1 809.0 1024.7 809.1 1025.3 808.8 1025.9 810.2 1026.5 809.9 1027.1 809.9 1027.7 810.7 1028.3 809.8 1028.9 810.3 1029.5 810.7 1030.1 810.5 1030.7 810.8 1031.3 811.3 1031.9 811.0 1032.5 811.7 1033.1 810.6 1033.7 811.1 1034.3 810.3 1034.9 811.0 1035.5 810.7 1036.1 811.8 1036.7 811.4 1037.3 811.3 1037.9 812.0 1038.5 811.8 1039.1 811.4 1039.7 810.7 1040.3 810.3 1040.9 811.1 1041.5 810.9 1042.1 810.8 1042.7 810.9 1043.3 810.2 1043.9 811.9 1044.5 810.5 1045.1 810.7 1045.7 811.4 1046.3 810.3 1046.9 811.6 1047.5 811.6 1048.1 810.9 1048.7 810.5 1049.3 810.9 1049.9 810.1 1050.5 811.8 1051.1 811.1 1051.7 810.7 1052.3 810.6 1052.9 811.4 1053.5 811.9 1054.1 810.4 1054.7 810.8 1055.3 810.2 1055.9 811.5 1056.5 811.2 1057.1 812.3 1057.7 811.0 1058.3 810.9 1058.9 810.7 1059.5 811.5 1060.1 810.3 1060.7 811.5 1061.3 811.2 1061.9 810.8 1062.5 810.6 1063.1 811.7 1063.7 812.1 1064.3 810.9 1064.9 811.4 1065.5 812.0 1066.1 810.8 1066.7 811.0 1067.3 810.5 1067.9 811.0 1068.5 811.1 1069.1 810.9 1069.7 810.7 1070.3 810.3 1070.9 810.4 1071.5 810.6 1072.1 811.4 1072.7 810.8 1073.3 810.7 1073.9 811.4 1074.5 811.4 1075.1 810.7 1075.7 810.8 1076.3 811.4 1076.9 811.3 1077.5 810.7 1078.1 811.2 1078.7 811.1 1079.3 811.7 1079.9 810.6 1080.5 811.6 1081.1 811.3 1081.7 810.6 1082.3 811.6 1082.9 811.6 1083.5 810.4 1084.1 812.1 1084.7 810.5 1085.3 810.6 1085.9 810.9 1086.5 811.5 1087.1 811.4 1087.7 811.0 1088.3 811.8 1088.9 811.3 1089.5 811.8 1090.1 812.5 1090.7 811.2 1091.3 809.7 1091.9 810.8 1092.5 810.5 1093.1 811.1 1093.7 811.1 1094.3 810.4 1094.9 810.4 1095.5 810.8 1096.1 810.9 1096.7 809.5 1097.3 811.4 1097.9 810.8 1098.5 810.7 1099.1 810.8 1099.7 809.8 1100.3 809.9 1100.9 809.7 1101.5 808.6 1102.1 807.2 1102.6 806.5 1102.7 806.2 1103.3 808.0 1103.9 808.5 1104.5 808.6 1105.1 807.8 1105.7 808.3 1106.3 807.6 1106.9 809.5 1107.5 809.5 1108.1 809.6 1108.7 810.3 1109.3 812.0 1109.9 811.4 1110.5 810.1 1111.1 810.8 1111.7 810.3 1112.3 810.0 1112.9 811.1 1113.5 812.3 1114.1 811.8 1114.7 811.0 1115.3 810.8 1115.9 811.1 1116.5 811.6 1117.1 810.3 1117.7 810.0 1118.3 812.1 1118.9 811.2 1119.5 811.9 1120.1 811.2 1120.7 811.8 1121.3 810.7 1121.9 811.3 1122.5 811.9 1123.1 811.6 1123.7 810.8 1124.3 811.5 1124.9 810.7 1125.5 810.3 1126.1 811.3 1126.7 811.8 1127.3 811.5 1127.9 810.3 1128.5 811.5 1129.1 811.4 1129.7 810.7 1130.3 809.6 1130.9 811.5 1131.5 811.4 1132.1 811.2 1132.7 809.9 1133.3 810.0 1133.9 811.3 1134.5 811.2 1135.1 810.9 1135.7 810.5 1136.3 810.7 1136.9 810.0 1137.5 809.9 1138.1 809.3 1138.7 809.4 1139.3 807.9 1139.9 806.3 1140.5 801.7 1141.1 794.5 1141.7 791.7 1141.8 790.1 1142.3 793.9 1142.9 800.3 1143.5 804.5 1144.1 803.8 1144.7 804.2 1145.3 801.7 1145.9 801.1 1146.5 801.8 1147.1 805.8 1147.7 808.3 1148.3 809.2 1148.9 810.7 1149.5 809.9 1150.1 811.1 1150.7 810.9 1151.3 809.9 1151.9 810.2 1152.5 810.5 1153.1 810.9 1153.7 811.4 1154.3 810.8 1154.9 811.4 1155.5 810.1 1156.1 809.3 1156.7 810.8 1157.3 811.2 1157.9 810.8 1158.5 810.5 1159.1 811.2 1159.7 812.1 1160.3 811.0 1160.9 810.6 1161.5 810.6 1162.1 812.1 1162.7 811.0 1163.3 811.4 1163.9 811.7 1164.5 811.6 1165.1 810.5 1165.7 811.6 1166.3 811.5 1166.9 811.3 1167.5 811.6 1168.1 810.7 1168.7 811.0 1169.3 810.7 1169.9 811.4 1170.5 810.6 1171.1 811.2 1171.7 810.4 1172.3 810.9 1172.9 810.7 1173.5 810.8 1174.1 810.9 1174.7 810.7 1175.3 810.5 1175.9 809.3 1176.5 810.8 1177.1 809.3 1177.7 808.8 1178.3 807.5 1178.9 807.6 1179.5 806.2 1179.5 807.0 1180.1 807.7 1180.7 808.7 1181.3 809.1 1181.9 809.1 1182.5 808.1 1183.1 809.3 1183.7 809.3 1184.3 809.4 1184.9 809.9 1185.5 810.0 1186.1 810.1 1186.7 811.2 1187.3 811.5 1187.9 810.3 1188.5 811.4 1189.1 811.1 1189.7 811.5 1190.3 811.2 1190.9 811.6 1191.5 811.6 1192.1 811.5 1192.7 810.3 1193.3 811.5 1193.9 811.1 1194.5 810.5 1195.1 811.5 1195.7 810.4 1196.3 811.6 1196.9 812.0 1197.5 810.8 1198.1 811.6 1198.7 811.4 1199.3 811.5 1199.9 810.4 1200.5 811.5 1201.1 811.2 1201.7 811.5 1202.3 811.1 1202.9 811.7 1203.5 811.3 1204.1 811.5 1204.7 811.9 1205.3 811.2 1205.9 811.7 1206.5 811.3 1207.1 811.4 1207.7 810.9 1208.3 811.6 1208.9 811.8 1209.5 811.1 1210.1 811.6 1210.7 811.4 1211.3 810.6 1211.9 811.4 1212.5 811.9 1213.1 810.9 1213.7 810.2 1214.3 811.3 1214.9 810.8 1215.5 812.2 1216.1 811.1 1216.7 811.2 1217.3 810.8 1217.9 811.3 1218.5 810.9 1219.1 810.7 1219.7 811.1 1220.3 810.7 1220.9 811.9 1221.5 810.5 1222.1 811.1 1222.7 810.8 1223.3 810.4 1223.9 812.1 1224.5 810.0 1225.1 812.0 1225.7 810.4 1226.3 811.2 1226.9 812.4 1227.5 810.0 1228.1 810.4 1228.7 811.9 1229.3 811.3 1229.9 810.9 1230.5 811.2 1231.1 810.7 1231.7 811.2 1232.3 812.0 1232.9 811.0 1233.5 811.3 1234.1 811.8 1234.7 812.3 1235.3 810.9 1235.9 811.3 1236.5 810.9 1237.1 810.8 1237.7 811.0 1238.3 810.8 1238.9 810.3 1239.5 810.1 1240.1 810.8 1240.7 811.3 1241.3 811.8 1241.9 810.9 1242.5 811.1 1243.1 811.5 1243.7 811.6 1244.3 811.1 1244.9 811.2 1245.5 812.2 1246.1 811.0 1246.7 810.9 1247.3 810.3 1247.9 811.4 1248.5 811.0 1249.1 812.2 1249.7 811.0 1250.3 811.6 1250.9 811.7 1251.5 812.1 1252.1 810.5 1252.7 812.0 1253.3 811.2 1253.9 811.1 1254.5 811.0 1255.1 811.0 1255.7 811.0 1256.3 809.9 1256.9 811.5 1257.5 811.2 1258.1 810.7 1258.7 811.2 1259.3 812.4 1259.9 811.4 1260.5 811.0 1261.1 812.1 1261.7 810.8 1262.3 811.1 1262.9 810.9 1263.5 811.1 1264.1 811.6 1264.7 811.5 1265.3 810.8 1265.9 811.1 1266.5 811.2 1267.1 811.0 1267.7 811.2 1268.3 810.8 1268.9 810.8 1269.5 811.2 1270.1 810.6 1270.7 811.4 1271.3 811.1 1271.9 810.7 1272.5 810.9 1273.1 810.9 1273.7 811.1 1274.3 811.3 1274.9 811.1 1275.5 810.7 1276.1 812.0 1276.7 811.7 1277.3 811.3 1277.9 811.7 1278.5 811.4 1279.1 811.1 1279.7 811.2 1280.3 812.6 1280.9 811.7 1281.5 811.8 1282.1 811.0 1282.7 811.5 1283.3 812.4 1283.9 811.4 1284.5 811.8 1285.1 811.9 1285.7 811.5 1286.3 812.0 1286.9 811.3 1287.5 811.5 1288.1 810.9 1288.7 812.6 1289.3 811.4 1289.9 811.3 1290.5 811.9 1291.1 810.9 1291.7 811.2 1292.3 810.8 1292.9 811.2 1293.5 811.0 1294.1 811.5 1294.7 811.1 1295.3 810.9 1295.9 811.0 1296.5 811.1 1297.1 810.9 1297.7 811.7 1298.3 811.6 1298.9 811.3 1299.5 810.6 1300.1 811.5 1300.7 810.5 1301.3 811.3 1301.9 811.2 1302.5 810.9 1303.1 810.8 1303.7 810.8 1304.3 812.3 1304.9 811.1 1305.5 811.1 1306.1 811.7 1306.7 811.4 1307.3 811.8 1307.9 810.6 1308.5 810.6 1309.1 813.0 1309.7 811.2 1310.3 811.1 1310.9 811.3 1311.5 811.7 1312.1 810.6 1312.7 811.4 1313.3 811.2 1313.9 811.6 1314.5 811.3 1315.1 810.9 1315.7 810.8 1316.3 809.9 1316.9 811.7 1317.5 810.4 1318.1 811.0 1318.7 812.1 1319.3 811.0 1319.9 811.5 1320.5 811.1 1321.1 811.6 1321.7 811.2 1322.3 810.9"/>
<path stroke="#4d4d4d" stroke-width="4.6" d="M106.2 561.2 106.8 561.2 107.3 560.9 107.9 560.3 108.5 561.3 109.1 561.2 109.7 561.4 110.3 562.4 110.9 561.4 111.5 561.2 112.1 561.9 112.7 560.3 113.3 560.4 113.9 560.8 114.5 560.7 115.1 561.5 115.7 560.9 116.3 562.0 116.9 561.9 117.5 561.5 118.1 560.9 118.7 561.5 119.3 561.6 119.9 560.6 120.5 561.4 121.1 561.6 121.7 561.3 122.3 562.1 122.9 561.9 123.5 560.8 124.1 561.3 124.7 560.8 125.3 561.6 125.9 560.8 126.5 561.8 127.1 561.5 127.7 561.8 128.3 561.2 128.9 560.5 129.5 562.3 130.1 561.2 130.7 562.1 131.3 561.6 131.9 561.7 132.5 562.4 133.1 561.6 133.7 562.2 134.3 560.6 134.9 561.9 135.5 561.3 136.1 561.4 136.7 561.4 137.3 561.6 137.9 562.4 138.5 560.4 139.1 561.5 139.7 561.1 140.3 562.1 140.9 561.3 141.5 561.8 142.1 561.3 142.7 561.9 143.3 562.1 143.9 561.3 144.5 561.6 145.1 560.8 145.7 561.7 146.3 562.0 146.9 561.3 147.5 562.2 148.1 560.4 148.7 560.5 149.3 560.8 149.9 561.3 150.5 561.6 151.1 561.5 151.7 561.5 152.3 561.9 152.9 561.1 153.5 560.6 154.1 560.5 154.7 562.0 155.3 559.0 155.9 558.5 156.5 554.8 157.1 547.5 157.3 545.9 157.7 547.2 158.3 551.2 158.9 556.5 159.5 558.7 160.1 561.0 160.7 561.2 161.3 561.9 161.9 562.2 162.5 561.4 163.1 560.9 163.7 561.9 164.3 562.7 164.9 562.2 165.5 561.9 166.1 563.2 166.7 561.3 167.3 562.4 167.9 561.6 168.5 561.9 169.1 561.9 169.7 562.7 170.3 561.4 170.9 561.6 171.5 561.0 172.1 562.1 172.7 561.6 173.3 562.0 173.9 561.2 174.5 561.5 175.1 562.2 175.7 561.5 176.3 561.9 176.9 561.8 177.5 561.2 178.1 560.5 178.7 561.8 179.3 561.2 179.9 561.6 180.5 559.8 181.1 559.9 181.7 559.5 182.3 560.1 182.9 561.0 183.5 560.6 184.1 560.2 184.7 560.1 185.3 560.4 185.9 559.7 186.5 560.0 187.1 559.7 187.7 558.4 188.3 559.3 188.9 560.2 189.5 559.2 190.1 559.3 190.7 559.1 191.3 559.1 191.9 560.0 192.5 559.3 193.1 559.0 193.7 557.9 194.3 559.4 194.9 558.7 195.5 558.9 196.1 560.5 196.7 560.6 197.3 559.3 197.9 560.9 198.5 560.9 199.1 560.3 199.7 561.3 200.3 560.1 200.9 560.5 201.5 560.5 202.1 560.8 202.7 562.1 203.3 561.0 203.9 561.2 204.5 561.4 205.1 562.1 205.7 561.9 206.3 562.7 206.9 561.9 207.5 561.6 208.1 562.1 208.7 562.5 209.3 562.0 209.9 562.7 210.5 563.6 211.1 562.3 211.7 562.7 212.3 563.4 212.9 562.3 213.5 562.3 214.1 562.1 214.7 563.0 215.3 563.1 215.9 562.7 216.5 562.8 217.1 563.5 217.7 563.3 218.3 562.1 218.9 562.9 219.5 562.9 220.1 563.3 220.7 562.8 221.3 562.6 221.9 562.7 222.5 562.0 223.1 562.9 223.7 562.6 224.3 563.2 224.9 562.4 225.5 562.7 226.1 562.5 226.7 562.4 227.3 563.4 227.9 562.8 228.5 563.3 229.1 562.4 229.7 563.1 230.3 562.1 230.9 562.8 231.5 562.8 232.1 563.4 232.7 563.2 233.3 563.0 233.9 563.6 234.5 563.2 235.1 563.4 235.7 563.6 236.3 563.1 236.9 563.0 237.5 563.4 238.1 563.0 238.7 563.4 239.3 563.8 239.9 563.7 240.5 563.0 241.1 562.5 241.7 563.2 242.3 563.2 242.9 563.9 243.5 563.1 244.1 563.2 244.7 563.7 245.3 563.1 245.9 563.2 246.5 564.3 247.1 564.2 247.7 563.7 248.3 563.5 248.9 562.8 249.5 563.7 250.1 563.4 250.7 563.5 251.3 563.1 251.9 563.4 252.5 563.3 253.1 563.6 253.7 564.2 254.3 563.7 254.9 562.6 255.5 563.0 256.1 562.6 256.7 563.1 257.3 563.8 257.9 563.8 258.5 563.2 259.1 563.7 259.7 563.1 260.3 562.8 260.9 562.8 261.5 563.1 262.1 564.4 262.7 562.9 263.3 564.3 263.9 564.4 264.5 563.5 265.1 563.6 265.7 563.3 266.3 563.7 266.9 564.0 267.5 563.7 268.1 564.3 268.7 564.4 269.3 563.9 269.9 563.9 270.5 563.7 271.1 564.0 271.7 563.2 272.3 564.0 272.9 563.9 273.5 563.3 274.1 565.0 274.7 563.3 275.3 563.4 275.9 564.0 276.5 562.8 277.1 563.4 277.7 563.0 278.3 563.4 278.9 563.8 279.5 564.1 280.1 564.5 280.7 564.4 281.3 564.6 281.9 564.3 282.5 563.7 283.1 564.6 283.7 563.7 284.3 563.6 284.9 564.8 285.5 564.4 286.1 564.1 286.7 564.4 287.3 564.5 287.9 563.3 288.5 564.0 289.1 563.4 289.7 564.1 290.3 563.7 290.9 564.8 291.5 564.4 292.1 563.7 292.7 564.1 293.3 563.5 293.9 564.2 294.5 564.5 295.1 564.3 295.7 563.1 296.3 564.0 296.9 564.5 297.5 564.4 298.1 564.9 298.7 563.5 299.3 564.5 299.9 563.9 300.5 564.4 301.1 564.5 301.7 564.6 302.3 563.9 302.9 564.4 303.5 563.6 304.1 563.5 304.7 564.6 305.3 564.3 305.9 563.4 306.5 563.8 307.1 564.3 307.7 565.2 308.3 564.9 308.9 564.7 309.5 563.3 310.1 564.3 310.7 564.6 311.3 564.5 311.9 564.6 312.5 564.2 313.1 565.3 313.7 565.1 314.3 564.3 314.9 563.8 315.5 565.5 316.1 564.0 316.7 565.0 317.3 565.4 317.9 563.8 318.5 564.5 319.1 564.1 319.7 564.6 320.3 564.4 320.9 565.3 321.5 564.5 322.1 564.2 322.7 564.7 323.3 563.9 323.9 563.7 324.5 564.9 325.1 562.9 325.7 562.4 326.3 560.8 326.9 554.8 327.5 545.4 327.8 545.2 328.1 545.7 328.7 550.4 329.3 552.4 329.9 557.1 330.5 560.9 331.1 563.1 331.7 564.9 332.3 564.3 332.9 564.4 333.5 563.3 334.1 564.2 334.7 563.7 335.3 564.8 335.9 564.3 336.5 564.4 337.1 564.4 337.7 564.1 338.3 563.6 338.9 564.8 339.5 563.8 340.1 563.9 340.7 564.4 341.3 564.2 341.9 564.7 342.5 565.1 343.1 564.7 343.7 564.7 344.3 564.6 344.9 565.1 345.5 563.6 346.1 564.8 346.7 564.1 347.3 564.0 347.9 564.6 348.5 564.4 349.1 565.0 349.7 565.3 350.3 563.4 350.9 564.6 351.5 565.8 352.1 565.2 352.7 565.5 353.3 564.7 353.9 563.9 354.5 564.1 355.1 565.1 355.7 565.2 356.3 564.3 356.9 564.6 357.5 564.9 358.1 563.8 358.7 564.5 359.3 565.6 359.9 565.9 360.5 564.7 361.1 565.7 361.7 564.4 362.3 564.3 362.9 563.5 363.5 565.3 364.1 564.5 364.7 566.0 365.3 564.9 365.9 564.8 366.5 563.7 367.1 565.6 367.7 564.5 368.3 564.6 368.9 563.5 369.5 565.2 370.1 565.2 370.7 564.3 371.3 564.7 371.9 564.8 372.5 565.0 373.1 564.4 373.7 565.1 374.3 563.7 374.9 562.9 375.5 562.2 376.1 560.2 376.7 560.3 377.0 561.1 377.3 560.6 377.9 560.2 378.5 561.4 379.1 560.9 379.7 562.6 380.3 563.7 380.9 564.3 381.5 563.8 382.1 564.9 382.7 565.5 383.3 564.3 383.9 565.0 384.5 563.7 385.1 563.5 385.7 564.9 386.3 564.6 386.9 564.7 387.5 564.2 388.1 564.3 388.7 564.9 389.3 565.3 389.9 564.1 390.5 563.2 391.1 564.6 391.7 564.0 392.3 563.8 392.9 563.0 393.5 563.5 394.1 561.2 394.7 559.6 395.3 554.5 395.9 544.5 396.5 493.4 397.1 391.1 397.2 389.8 397.7 467.6 398.3 498.1 398.9 471.8 399.5 527.8 400.1 553.1 400.7 558.0 401.3 561.3 401.9 562.6 402.5 562.8 403.1 564.5 403.7 563.9 404.3 564.2 404.9 563.7 405.5 563.5 406.1 564.2 406.7 564.5 407.3 564.5 407.9 565.2 408.5 563.5 409.1 564.2 409.7 563.9 410.3 565.7 410.9 564.7 411.5 564.7 412.1 564.4 412.7 565.6 413.3 564.9 413.9 565.2 414.5 564.0 415.1 565.8 415.7 565.4 416.3 565.5 416.9 565.9 417.5 565.1 418.1 565.1 418.7 565.6 419.3 565.5 419.9 565.1 420.5 565.3 421.1 565.0 421.7 565.7 422.3 565.8 422.9 565.3 423.5 566.3 424.1 564.5 424.7 565.2 425.3 566.3 425.9 565.1 426.5 564.5 427.1 566.1 427.7 565.7 428.3 564.7 428.9 565.8 429.5 564.8 430.1 564.6 430.7 565.3 431.3 565.1 431.9 564.8 432.5 565.2 433.1 564.9 433.7 565.4 434.3 565.4 434.9 565.8 435.5 565.2 436.1 564.7 436.7 564.7 437.3 565.3 437.9 566.3 438.5 565.9 439.1 565.1 439.7 566.0 440.3 564.8 440.9 566.0 441.5 565.3 442.1 565.9 442.7 565.8 443.3 565.3 443.9 565.7 444.5 564.9 445.1 565.4 445.7 566.1 446.3 567.7 446.9 565.9 447.5 565.5 448.1 564.9 448.7 566.1 449.3 564.6 449.9 565.0 450.5 565.6 451.1 564.8 451.7 566.3 452.3 566.0 452.9 565.0 453.5 565.0 454.1 564.5 454.7 564.4 455.3 565.3 455.9 565.3 456.5 565.0 457.1 564.6 457.7 563.7 458.3 563.3 458.9 560.3 459.5 554.0 460.1 528.7 460.6 508.8 460.7 510.4 461.3 539.8 461.9 543.2 462.5 536.5 463.1 551.9 463.7 561.0 464.3 563.5 464.9 564.9 465.5 564.2 466.1 565.3 466.7 565.0 467.3 566.6 467.9 565.6 468.5 565.4 469.1 565.3 469.7 566.1 470.3 565.9 470.9 565.0 471.5 565.8 472.1 564.9 472.7 565.3 473.3 565.0 473.9 565.0 474.5 565.4 475.1 565.2 475.7 566.1 476.3 566.2 476.9 565.7 477.5 565.2 478.1 566.2 478.7 564.7 479.3 564.8 479.9 566.2 480.5 566.2 481.1 566.4 481.7 565.7 482.3 565.2 482.9 565.6 483.5 566.2 484.1 565.5 484.7 565.5 485.3 565.1 485.9 565.3 486.5 566.4 487.1 566.2 487.7 565.3 488.3 565.3 488.9 565.6 489.5 566.3 490.1 565.3 490.7 565.9 491.3 564.8 491.9 565.3 492.5 566.2 493.1 566.5 493.7 565.4 494.3 565.6 494.9 566.4 495.5 565.8 496.1 565.7 496.7 566.3 497.3 566.1 497.9 566.6 498.5 566.5 499.1 565.7 499.7 566.0 500.3 566.0 500.9 565.3 501.5 565.5 502.1 566.6 502.7 565.2 503.3 566.6 503.9 566.2 504.5 566.0 505.1 566.4 505.7 566.3 506.3 566.7 506.9 565.9 507.5 566.0 508.1 565.9 508.7 567.1 509.3 566.6 509.9 565.6 510.5 565.9 511.1 565.7 511.7 566.1 512.3 566.2 512.9 567.4 513.5 565.1 514.1 566.7 514.7 566.3 515.3 565.7 515.9 566.0 516.5 565.8 517.1 566.1 517.7 566.7 518.3 565.3 518.9 566.8 519.5 565.9 520.1 567.0 520.7 566.4 521.3 566.8 521.9 566.4 522.5 566.7 523.1 566.2 523.7 565.7 524.3 566.5 524.9 566.5 525.5 567.3 526.1 565.0 526.7 566.0 527.3 566.7 527.9 565.5 528.5 566.0 529.1 567.3 529.7 566.9 530.3 565.7 530.9 566.9 531.5 566.8 532.1 566.6 532.7 566.4 533.3 566.3 533.9 565.7 534.5 565.9 535.1 566.6 535.7 566.3 536.3 567.2 536.9 566.0 537.5 564.9 538.1 566.0 538.7 566.3 539.3 566.4 539.9 566.2 540.5 565.7 541.1 567.0 541.7 565.8 542.3 566.6 542.9 566.0 543.5 565.5 544.1 567.0 544.7 564.8 545.3 565.7 545.9 566.4 546.5 566.0 547.1 566.6 547.7 566.2 548.3 566.0 548.9 567.4 549.5 566.1 550.1 566.1 550.7 565.6 551.3 565.8 551.9 566.6 552.5 566.5 553.1 566.2 553.7 565.8 554.3 566.6 554.9 565.3 555.5 566.0 556.1 566.1 556.7 565.8 557.3 566.3 557.9 565.9 558.5 565.8 559.1 567.2 559.7 566.6 560.3 566.9 560.9 566.2 561.5 566.7 562.1 566.6 562.7 566.9 563.3 567.5 563.9 566.1 564.5 566.3 565.1 566.1 565.7 564.2 566.3 565.4 566.9 566.1 567.5 566.4 568.1 565.7 568.7 566.6 569.3 566.6 569.9 565.6 570.5 566.5 571.1 566.4 571.7 565.2 572.3 563.7 572.9 564.1 573.5 562.2 574.1 561.2 574.3 561.4 574.7 561.0 575.3 562.2 575.9 562.6 576.5 563.4 577.1 563.8 577.7 563.9 578.3 564.8 578.9 565.9 579.5 565.5 580.1 567.5 580.7 565.8 581.3 565.7 581.9 566.7 582.5 566.5 583.1 566.2 583.7 566.1 584.3 566.4 584.9 566.7 585.5 566.7 586.1 566.1 586.7 566.5 587.3 566.7 587.9 566.7 588.5 564.6 589.1 565.8 589.7 565.9 590.3 566.2 590.9 566.4 591.5 566.8 592.1 566.7 592.7 566.3 593.3 566.4 593.9 567.3 594.5 566.0 595.1 566.5 595.7 567.2 596.3 566.5 596.9 565.2 597.5 566.6 598.1 566.2 598.7 566.3 599.3 567.0 599.9 566.6 600.5 566.2 601.1 566.9 601.7 566.6 602.3 566.4 602.9 566.6 603.5 566.5 604.1 566.2 604.7 566.1 605.3 566.4 605.9 565.9 606.5 565.7 607.1 567.1 607.7 566.3 608.3 566.4 608.9 566.3 609.5 566.4 610.1 566.4 610.7 566.5 611.3 566.0 611.9 566.9 612.5 566.0 613.1 567.0 613.7 565.4 614.3 565.8 614.9 567.0 615.5 566.4 616.1 566.1 616.7 566.6 617.3 565.9 617.9 566.5 618.5 565.2 619.1 566.2 619.7 566.1 620.3 566.7 620.9 566.9 621.5 566.0 622.1 567.3 622.7 566.1 623.3 565.3 623.9 565.2 624.5 567.3 625.1 566.4 625.7 566.1 626.3 566.1 626.9 565.9 627.5 567.2 628.1 566.4 628.7 567.5 629.3 566.4 629.9 565.2 630.5 566.9 631.1 566.3 631.7 566.4 632.3 567.3 632.9 566.3 633.5 567.1 634.1 566.5 634.7 566.1 635.3 566.8 635.9 566.2 636.5 567.2 637.1 567.0 637.7 566.5 638.3 566.8 638.9 566.8 639.5 566.4 640.1 567.0 640.7 566.4 641.3 566.9 641.9 566.0 642.5 566.6 643.1 566.7 643.7 566.1 644.3 566.3 644.9 566.2 645.5 566.9 646.1 566.1 646.7 566.8 647.3 567.4 647.9 566.7 648.5 565.6 649.1 566.6 649.7 567.1 650.3 566.4 650.9 567.2 651.5 566.9 652.1 566.8 652.7 566.4 653.3 566.3 653.9 566.4 654.5 566.6 655.1 566.8 655.7 566.8 656.3 566.4 656.9 566.6 657.5 566.8 658.1 565.7 658.7 566.1 659.3 566.1 659.9 566.4 660.5 566.4 661.1 566.4 661.7 566.1 662.3 566.9 662.9 566.7 663.5 565.7 664.1 566.6 664.7 565.9 665.3 567.5 665.9 566.3 666.5 566.3 667.1 566.6 667.7 566.4 668.3 566.5 668.9 567.4 669.5 566.6 670.1 566.9 670.7 567.1 671.3 565.9 671.9 567.3 672.5 566.7 673.1 566.7 673.7 565.6 674.3 566.3 674.9 565.5 675.5 563.4 676.1 560.6 676.7 553.8 676.9 552.9 677.3 555.9 677.9 561.4 678.5 562.2 679.1 559.8 679.7 561.3 680.3 564.6 680.9 564.7 681.5 565.7 682.1 565.7 682.7 566.4 683.3 567.2 683.9 566.8 684.5 565.9 685.1 566.4 685.7 567.1 686.3 566.3 686.9 566.5 687.5 566.8 688.1 565.6 688.7 567.0 689.3 566.8 689.9 566.9 690.5 566.1 691.1 566.2 691.7 566.3 692.3 566.8 692.9 566.7 693.5 566.7 694.1 567.6 694.7 567.4 695.3 566.3 695.9 566.3 696.5 567.6 697.1 566.5 697.7 567.4 698.3 567.6 698.9 566.4 699.5 566.5 700.1 566.7 700.7 566.2 701.3 566.2 701.9 566.5 702.5 567.2 703.1 566.5 703.7 566.6 704.3 566.5 704.9 566.0 705.5 567.5 706.1 565.4 706.7 566.4 707.3 567.0 707.9 566.0 708.5 567.1 709.1 567.4 709.7 566.3 710.3 566.8 710.9 566.1 711.5 567.0 712.1 566.8 712.7 566.9 713.3 567.5 713.9 567.0 714.5 567.5 715.1 567.1 715.7 566.1 716.3 566.9 716.9 567.0 717.5 566.0 718.1 567.5 718.7 566.8 719.3 567.0 719.9 566.3 720.5 566.8 721.1 566.9 721.7 566.6 722.3 566.8 722.9 565.6 723.5 567.5 724.1 566.2 724.7 565.6 725.3 566.3 725.9 566.3 726.5 567.1 727.1 566.3 727.7 566.9 728.3 566.3 728.9 568.0 729.5 567.1 730.1 567.9 730.7 566.2 731.3 567.2 731.9 566.3 732.5 567.1 733.1 567.2 733.7 565.9 734.3 566.2 734.9 566.2 735.5 566.0 736.1 566.4 736.7 566.3 737.3 566.0 737.9 566.9 738.5 567.1 739.1 566.1 739.7 566.5 740.3 566.8 740.9 566.7 741.5 566.4 742.1 567.3 742.7 567.3 743.3 567.2 743.9 566.7 744.5 567.9 745.1 567.8 745.7 566.6 746.3 566.8 746.9 567.5 747.5 566.4 748.1 567.1 748.7 566.9 749.3 566.5 749.9 566.7 750.5 566.0 751.1 566.5 751.7 565.7 752.3 568.1 752.9 567.7 753.5 567.5 754.1 567.0 754.7 567.4 755.3 567.5 755.9 567.4 756.5 567.3 757.1 566.3 757.7 567.1 758.3 566.5 758.9 566.2 759.5 566.2 760.1 567.1 760.7 567.4 761.3 566.1 761.9 567.8 762.5 567.6 763.1 566.6 763.7 566.5 764.3 566.7 764.9 567.2 765.5 566.5 766.1 566.0 766.7 566.7 767.3 565.3 767.9 566.4 768.5 566.7 769.1 565.7 769.7 564.8 770.3 560.9 770.9 553.3 771.4 548.9 771.5 548.9 772.1 556.6 772.7 561.4 773.3 561.6 773.9 558.5 774.5 559.3 775.1 562.8 775.7 564.9 776.3 565.9 776.9 567.1 777.5 566.7 778.1 566.6 778.7 566.2 779.3 567.2 779.9 566.9 780.5 566.8 781.1 566.9 781.7 567.8 782.3 566.8 782.9 567.8 783.5 567.6 784.1 566.9 784.7 567.4 785.3 566.8 785.9 566.5 786.5 566.8 787.1 566.4 787.7 567.2 788.3 566.9 788.9 567.2 789.5 567.4 790.1 565.2 790.7 567.1 791.3 566.0 791.9 567.0 792.5 566.5 793.1 567.0 793.7 567.7 794.3 566.0 794.9 567.1 795.5 566.9 796.1 565.9 796.7 567.3 797.3 567.0 797.9 566.7 798.5 566.6 799.1 568.7 799.7 566.7 800.3 566.0 800.9 566.4 801.5 566.8 802.1 566.7 802.7 566.9 803.3 566.4 803.9 567.2 804.5 566.7 805.1 566.2 805.7 566.5 806.3 566.7 806.9 567.4 807.5 567.1 808.1 566.7 808.7 566.8 809.3 566.9 809.9 567.9 810.5 566.4 811.1 566.9 811.7 566.9 812.3 565.9 812.9 566.3 813.5 565.9 814.1 565.0 814.7 564.3 815.3 560.5 815.9 550.4 816.5 538.9 816.6 539.0 817.1 548.3 817.7 556.8 818.3 559.9 818.9 556.2 819.5 552.3 820.1 558.3 820.7 563.2 821.3 565.6 821.9 566.6 822.5 566.1 823.1 566.6 823.7 566.6 824.3 566.5 824.9 566.8 825.5 566.2 826.1 567.3 826.7 567.8 827.3 567.9 827.9 567.7 828.5 566.4 829.1 567.8 829.7 566.6 830.3 567.0 830.9 568.0 831.5 566.4 832.1 567.5 832.7 567.2 833.3 567.0 833.9 566.6 834.5 567.3 835.1 566.8 835.7 567.7 836.3 567.8 836.9 566.3 837.5 566.8 838.1 566.9 838.7 566.5 839.3 566.5 839.9 567.2 840.5 567.0 841.1 566.2 841.7 566.8 842.3 567.4 842.9 566.5 843.5 566.6 844.1 568.0 844.7 567.8 845.3 566.2 845.9 566.4 846.5 567.3 847.1 566.5 847.7 567.0 848.3 566.9 848.9 567.4 849.5 565.7 850.1 565.9 850.7 566.4 851.3 567.6 851.9 567.0 852.5 566.1 853.1 567.3 853.7 567.4 854.3 566.8 854.9 566.7 855.5 567.1 856.1 567.4 856.7 566.7 857.3 566.7 857.9 566.0 858.5 564.9 859.1 561.8 859.7 555.4 860.3 547.8 860.4 547.7 860.9 554.0 861.5 561.0 862.1 563.2 862.7 559.6 863.3 557.4 863.9 559.5 864.5 563.5 865.1 565.3 865.7 567.0 866.3 567.1 866.9 566.4 867.5 566.3 868.1 567.0 868.7 566.8 869.3 568.0 869.9 566.3 870.5 566.1 871.1 567.0 871.7 567.2 872.3 567.2 872.9 567.6 873.5 568.3 874.1 567.0 874.7 566.9 875.3 566.3 875.9 567.4 876.5 567.7 877.1 567.1 877.7 567.9 878.3 567.3 878.9 568.1 879.5 567.4 880.1 566.7 880.7 566.9 881.3 566.4 881.9 566.3 882.5 567.4 883.1 567.8 883.7 568.4 884.3 567.3 884.9 567.2 885.5 566.7 886.1 567.8 886.7 567.5 887.3 567.0 887.9 567.7 888.5 567.6 889.1 566.3 889.7 567.7 890.3 567.4 890.9 567.1 891.5 567.1 892.1 568.3 892.7 568.2 893.3 568.3 893.9 566.7 894.5 567.0 895.1 567.8 895.7 566.7 896.3 566.9 896.9 566.3 897.5 568.4 898.1 567.9 898.7 567.6 899.3 567.5 899.9 567.1 900.5 567.1 901.1 567.7 901.7 567.0 902.3 568.0 902.9 567.1 903.5 566.9 904.1 568.1 904.7 567.3 905.3 567.7 905.9 567.1 906.5 566.1 907.1 567.7 907.7 566.6 908.3 568.0 908.9 566.5 909.5 566.4 910.1 567.6 910.7 567.6 911.3 567.4 911.9 566.7 912.5 567.9 913.1 566.6 913.7 567.1 914.3 567.0 914.9 567.2 915.5 567.9 916.1 567.1 916.7 567.7 917.3 567.8 917.9 566.5 918.5 566.8 919.1 567.2 919.7 567.1 920.3 567.6 920.9 566.4 921.5 567.8 922.1 567.8 922.7 567.3 923.3 566.7 923.9 567.4 924.5 567.1 925.1 567.7 925.7 567.4 926.3 567.8 926.9 567.2 927.5 568.2 928.1 566.2 928.7 566.9 929.3 567.7 929.9 566.6 930.5 567.8 931.1 566.8 931.7 567.5 932.3 566.9 932.9 567.2 933.5 567.5 934.1 567.4 934.7 567.2 935.3 568.6 935.9 567.4 936.5 566.9 937.1 567.9 937.7 567.8 938.3 568.0 938.9 568.3 939.5 566.8 940.1 567.9 940.7 567.9 941.3 567.2 941.9 567.2 942.5 565.2 943.1 566.2 943.7 566.8 944.3 563.5 944.9 562.4 945.5 561.6 945.6 561.8 946.1 563.1 946.7 562.8 947.3 564.7 947.9 565.2 948.5 563.5 949.1 564.3 949.7 566.2 950.3 566.8 950.9 567.0 951.5 565.6 952.1 567.1 952.7 567.5 953.3 567.2 953.9 567.3 954.5 569.1 955.1 567.3 955.7 566.9 956.3 567.6 956.9 567.3 957.5 567.3 958.1 567.4 958.7 567.9 959.3 567.6 959.9 566.9 960.5 567.4 961.1 567.8 961.7 567.3 962.3 568.2 962.9 568.0 963.5 567.0 964.1 567.7 964.7 568.6 965.3 568.4 965.9 567.5 966.5 568.1 967.1 567.2 967.7 566.8 968.3 567.9 968.9 567.7 969.5 567.9 970.1 567.6 970.7 567.8 971.3 567.3 971.9 567.8 972.5 568.1 973.1 567.6 973.7 568.0 974.3 566.6 974.9 567.2 975.5 568.4 976.1 568.6 976.7 567.7 977.3 567.6 977.9 566.9 978.5 567.8 979.1 568.0 979.7 566.8 980.3 567.9 980.9 567.9 981.5 567.9 982.1 567.0 982.7 567.9 983.3 566.8 983.9 568.5 984.5 567.7 985.1 567.0 985.7 568.4 986.3 568.3 986.9 567.3 987.5 568.9 988.1 567.1 988.7 567.8 989.3 568.3 989.9 566.4 990.5 568.2 991.1 567.6 991.7 567.7 992.3 567.1 992.9 567.8 993.5 567.1 994.1 567.1 994.7 567.4 995.3 567.0 995.9 568.5 996.5 566.9 997.1 567.3 997.7 567.5 998.3 567.7 998.9 568.1 999.5 568.1 1000.1 567.5 1000.7 567.5 1001.3 567.7 1001.9 568.1 1002.5 568.1 1003.1 567.4 1003.7 566.6 1004.3 568.9 1004.9 568.2 1005.5 567.9 1006.1 567.9 1006.7 567.4 1007.3 567.2 1007.9 567.5 1008.5 567.6 1009.1 567.4 1009.7 566.9 1010.3 567.6 1010.9 568.0 1011.5 567.5 1012.1 567.7 1012.7 566.6 1013.3 567.6 1013.9 567.7 1014.5 567.1 1015.1 566.8 1015.7 568.0 1016.3 567.3 1016.9 568.0 1017.5 567.5 1018.1 568.1 1018.7 567.5 1019.3 566.9 1019.9 567.7 1020.5 567.5 1021.1 568.1 1021.7 567.5 1022.3 567.5 1022.9 568.1 1023.5 568.3 1024.1 568.0 1024.7 568.0 1025.3 567.5 1025.9 567.5 1026.5 567.3 1027.0 567.0 1027.1 566.8 1027.7 567.0 1028.3 568.4 1028.9 567.1 1029.5 567.1 1030.1 567.0 1030.7 567.2 1031.3 567.5 1031.9 566.8 1032.5 566.5 1033.1 567.8 1033.7 566.8 1034.3 567.9 1034.9 567.8 1035.5 568.4 1036.1 568.7 1036.7 568.0 1037.3 567.5 1037.9 567.2 1038.5 567.4 1039.1 567.8 1039.7 566.7 1040.3 567.9 1040.9 567.8 1041.5 568.2 1042.1 567.6 1042.7 567.9 1043.3 567.4 1043.9 567.6 1044.5 566.9 1045.1 567.9 1045.7 568.7 1046.3 567.9 1046.9 568.0 1047.5 567.3 1048.1 568.6 1048.7 567.4 1049.3 568.3 1049.9 567.9 1050.5 567.3 1051.1 568.4 1051.7 567.9 1052.3 568.0 1052.9 568.1 1053.5 567.9 1054.1 567.7 1054.7 568.1 1055.3 567.7 1055.9 567.9 1056.5 567.5 1057.1 567.1 1057.7 567.5 1058.3 567.6 1058.9 567.9 1059.5 568.5 1060.1 567.0 1060.7 568.0 1061.3 566.7 1061.9 567.3 1062.5 567.6 1063.1 566.7 1063.7 566.9 1064.3 568.0 1064.9 568.0 1065.5 567.9 1066.1 567.5 1066.7 569.1 1067.3 567.8 1067.9 567.4 1068.5 568.8 1069.1 568.3 1069.7 567.7 1070.3 568.6 1070.9 568.0 1071.5 568.3 1072.1 568.1 1072.7 567.4 1073.3 568.5 1073.9 568.0 1074.5 567.4 1075.1 567.5 1075.7 568.5 1076.3 567.7 1076.9 568.0 1077.5 568.3 1078.1 568.0 1078.7 567.1 1079.3 568.3 1079.9 568.5 1080.5 568.4 1081.1 568.9 1081.7 568.2 1082.3 568.4 1082.9 568.8 1083.5 567.8 1084.1 568.9 1084.7 568.9 1085.3 568.4 1085.9 569.0 1086.5 568.4 1087.1 567.5 1087.7 568.6 1088.3 568.2 1088.9 568.2 1089.5 568.1 1090.1 568.7 1090.7 568.3 1091.3 567.6 1091.9 568.2 1092.5 568.4 1093.1 567.6 1093.7 567.7 1094.3 567.8 1094.9 567.6 1095.5 568.1 1096.1 568.5 1096.7 569.0 1097.3 568.6 1097.9 568.5 1098.5 568.5 1099.1 568.6 1099.7 567.6 1100.3 568.2 1100.9 567.9 1101.5 567.5 1102.1 567.1 1102.7 566.6 1103.3 566.0 1103.9 564.6 1104.5 565.0 1104.7 564.7 1105.1 564.9 1105.7 565.7 1106.3 566.6 1106.9 566.1 1107.5 566.3 1108.1 565.3 1108.7 565.0 1109.3 565.5 1109.9 567.9 1110.5 566.4 1111.1 567.9 1111.7 568.6 1112.3 567.6 1112.9 568.8 1113.5 569.0 1114.1 568.5 1114.7 569.3 1115.3 568.3 1115.9 567.6 1116.5 568.3 1117.1 567.8 1117.7 567.3 1118.3 567.3 1118.9 569.3 1119.5 567.8 1120.1 568.0 1120.7 567.7 1121.3 568.1 1121.9 567.9 1122.5 567.8 1123.1 567.4 1123.7 567.3 1124.3 567.7 1124.9 568.2 1125.5 569.2 1126.1 568.7 1126.7 569.1 1127.3 568.3 1127.9 568.0 1128.5 567.3 1129.1 568.1 1129.7 566.9 1130.3 567.9 1130.9 569.0 1131.5 568.2 1132.1 568.7 1132.7 567.8 1133.3 567.3 1133.9 567.8 1134.5 567.8 1135.1 568.6 1135.7 569.0 1136.3 567.5 1136.9 567.7 1137.5 567.7 1138.1 567.5 1138.7 566.9 1139.3 567.5 1139.9 567.2 1140.5 566.4 1141.1 563.9 1141.7 561.7 1142.3 557.7 1142.7 558.4 1142.9 557.7 1143.5 560.8 1144.1 563.4 1144.7 564.7 1145.3 564.3 1145.9 562.8 1146.5 563.7 1147.1 563.4 1147.7 565.1 1148.3 567.5 1148.9 567.1 1149.5 567.8 1150.1 567.7 1150.7 568.5 1151.3 568.2 1151.9 568.2 1152.5 567.9 1153.1 568.2 1153.7 568.7 1154.3 567.0 1154.9 568.1 1155.5 567.9 1156.1 568.0 1156.7 567.1 1157.3 568.6 1157.9 567.7 1158.5 568.1 1159.1 567.9 1159.7 567.3 1160.3 568.0 1160.9 567.2 1161.5 567.7 1162.1 568.0 1162.7 568.2 1163.3 568.3 1163.9 568.2 1164.5 569.4 1165.1 568.5 1165.7 567.6 1166.3 567.9 1166.9 567.9 1167.5 568.2 1168.1 567.9 1168.7 567.8 1169.3 569.2 1169.9 568.3 1170.5 568.1 1171.1 568.1 1171.7 568.1 1172.3 569.0 1172.9 568.5 1173.5 568.9 1174.1 566.5 1174.7 568.4 1175.3 568.8 1175.9 569.3 1176.5 568.2 1177.1 567.2 1177.7 568.4 1178.3 567.6 1178.9 566.7 1179.5 567.1 1180.1 567.7 1180.7 567.5 1181.0 567.2 1181.3 566.3 1181.9 568.4 1182.5 566.7 1183.1 567.4 1183.7 566.7 1184.3 568.2 1184.9 567.7 1185.5 568.0 1186.1 567.7 1186.7 567.8 1187.3 568.1 1187.9 567.1 1188.5 568.8 1189.1 568.7 1189.7 568.1 1190.3 568.3 1190.9 568.5 1191.5 569.2 1192.1 568.6 1192.7 568.4 1193.3 568.1 1193.9 567.5 1194.5 568.0 1195.1 568.4 1195.7 568.2 1196.3 568.4 1196.9 568.8 1197.5 568.6 1198.1 568.5 1198.7 568.7 1199.3 568.5 1199.9 568.4 1200.5 568.7 1201.1 567.4 1201.7 569.1 1202.3 567.7 1202.9 568.9 1203.5 568.4 1204.1 569.0 1204.7 568.4 1205.3 567.9 1205.9 569.0 1206.5 568.5 1207.1 568.5 1207.7 568.5 1208.3 569.0 1208.9 568.9 1209.5 568.6 1210.1 567.6 1210.7 568.2 1211.3 568.5 1211.9 569.4 1212.5 568.7 1213.1 568.4 1213.7 569.1 1214.3 568.4 1214.9 568.4 1215.5 568.5 1216.1 567.6 1216.7 569.0 1217.3 568.7 1217.9 568.3 1218.5 567.8 1219.1 568.6 1219.7 569.2 1220.3 568.1 1220.9 567.9 1221.5 568.7 1222.1 567.6 1222.7 567.3 1223.3 568.2 1223.9 568.1 1224.5 568.3 1225.1 568.2 1225.7 568.7 1226.3 568.4 1226.9 568.2 1227.5 568.3 1228.1 568.9 1228.7 569.0 1229.3 569.0 1229.9 568.9 1230.5 566.7 1231.1 568.0 1231.7 568.4 1232.3 568.6 1232.9 567.6 1233.5 569.3 1234.1 568.7 1234.7 568.2 1235.3 568.6 1235.9 568.3 1236.5 568.1 1237.1 568.8 1237.7 568.3 1238.3 567.8 1238.9 568.2 1239.5 568.5 1240.1 568.0 1240.7 569.3 1241.3 568.0 1241.9 569.5 1242.5 569.1 1243.1 568.0 1243.7 568.6 1244.3 569.2 1244.9 568.5 1245.5 567.9 1246.1 568.6 1246.7 569.7 1247.3 567.8 1247.9 568.9 1248.5 568.6 1249.1 568.5 1249.7 568.4 1250.3 568.4 1250.9 569.2 1251.5 568.9 1252.1 568.1 1252.7 569.5 1253.3 567.9 1253.9 569.0 1254.5 568.7 1255.1 569.3 1255.7 568.8 1256.3 569.2 1256.9 568.6 1257.5 569.2 1258.1 568.8 1258.7 569.8 1259.3 568.2 1259.9 569.3 1260.5 568.9 1261.1 568.7 1261.7 568.3 1262.3 568.9 1262.9 567.8 1263.5 567.9 1264.1 569.0 1264.7 567.8 1265.3 569.4 1265.9 568.5 1266.5 568.8 1267.1 568.7 1267.7 568.9 1268.3 568.5 1268.9 568.5 1269.5 568.6 1270.1 569.2 1270.7 569.3 1271.3 569.4 1271.9 568.9 1272.5 568.6 1273.1 567.8 1273.7 569.0 1274.3 569.1 1274.9 568.5 1275.5 569.1 1276.1 569.4 1276.7 568.7 1277.3 569.3 1277.9 568.9 1278.5 567.7 1279.1 568.4 1279.7 568.5 1280.3 569.0 1280.9 568.2 1281.5 568.5 1282.1 568.2 1282.7 568.7 1283.3 568.8 1283.9 569.3 1284.5 569.2 1285.1 568.8 1285.7 568.9 1286.3 568.8 1286.9 568.8 1287.5 569.6 1288.1 567.4 1288.7 568.6 1289.3 568.9 1289.9 569.4 1290.5 568.1 1291.1 568.9 1291.7 569.2 1292.3 568.5 1292.9 567.7 1293.5 568.6 1294.1 568.1 1294.7 569.1 1295.3 568.3 1295.9 569.7 1296.5 568.8 1297.1 568.3 1297.7 568.5 1298.3 568.2 1298.9 569.0 1299.5 569.6 1300.1 568.7 1300.7 569.3 1301.3 568.3 1301.9 568.9 1302.5 570.0 1303.1 568.0 1303.7 569.5 1304.3 569.4 1304.9 567.8 1305.5 568.0 1306.1 568.3 1306.7 569.3 1307.3 568.6 1307.9 568.7 1308.5 569.2 1309.1 568.9 1309.7 568.9 1310.3 568.6 1310.9 569.4 1311.5 568.4 1312.1 569.7 1312.7 568.6 1313.3 568.4 1313.9 569.2 1314.5 569.1 1315.1 567.7 1315.7 568.9 1316.3 568.1 1316.9 568.4 1317.5 569.3 1318.1 568.4 1318.7 569.0 1319.3 568.6 1319.9 569.9 1320.5 568.8 1321.1 568.2 1321.7 568.2 1322.3 568.3"/>
<path stroke="#ee3a40" stroke-width="4.6" d="M106.2 365.7 106.8 365.9 107.3 366.5 107.9 366.0 108.5 366.1 109.1 367.3 109.7 366.8 110.3 366.8 110.9 366.6 111.5 366.6 112.1 367.2 112.7 366.4 113.3 367.4 113.9 365.9 114.5 366.2 115.1 365.6 115.7 366.2 116.3 366.7 116.9 367.2 117.5 366.1 118.1 366.4 118.7 366.2 119.3 366.0 119.9 365.8 120.5 366.5 121.1 365.5 121.7 366.5 122.3 366.5 122.9 366.1 123.5 365.9 124.1 365.7 124.7 367.5 125.3 365.8 125.9 367.4 126.5 366.8 127.1 366.3 127.7 365.9 128.3 367.1 128.9 367.5 129.5 366.0 130.1 366.4 130.7 367.1 131.3 366.7 131.9 367.7 132.5 366.2 133.1 366.9 133.7 365.9 134.3 367.7 134.9 366.2 135.5 365.4 136.1 366.5 136.7 366.5 137.3 367.7 137.9 366.4 138.5 366.6 139.1 366.9 139.7 367.5 140.3 366.6 140.9 367.2 141.5 366.9 142.1 366.5 142.7 366.7 143.3 366.7 143.9 366.1 144.5 367.3 145.1 365.9 145.7 367.3 146.3 367.2 146.9 366.6 147.5 366.3 148.1 366.6 148.7 366.9 149.3 367.1 149.9 366.8 150.5 367.2 151.1 366.4 151.7 366.8 152.3 365.8 152.9 367.1 153.5 366.8 154.1 366.4 154.7 367.3 155.3 367.0 155.9 365.1 156.5 366.6 157.1 365.8 157.7 367.1 158.3 367.8 158.9 366.0 159.5 366.2 160.1 365.7 160.7 365.4 161.3 363.9 161.9 359.5 162.5 350.0 162.8 349.2 163.1 348.3 163.7 352.9 164.3 359.3 164.9 363.6 165.5 364.6 166.1 365.5 166.7 365.9 167.3 366.4 167.9 367.1 168.5 365.9 169.1 366.9 169.7 367.1 170.3 367.1 170.9 367.0 171.5 367.7 172.1 367.1 172.7 367.3 173.3 367.2 173.9 367.9 174.5 365.9 175.1 367.6 175.7 366.8 176.3 366.8 176.9 366.4 177.5 365.9 178.1 366.8 178.7 366.6 179.3 367.3 179.9 366.2 180.5 367.8 181.1 367.2 181.7 366.9 182.3 366.6 182.9 366.6 183.5 366.4 184.1 366.7 184.7 367.1 185.3 367.0 185.9 366.3 186.5 366.9 187.1 366.6 187.7 367.2 188.3 368.1 188.9 367.4 189.5 366.9 190.1 366.2 190.7 366.3 191.3 366.2 191.9 367.5 192.5 366.7 193.1 367.2 193.7 366.8 194.3 367.2 194.9 367.9 195.5 366.8 196.1 367.0 196.7 366.7 197.3 367.7 197.9 366.6 198.5 366.6 199.1 366.4 199.7 366.4 200.3 367.5 200.9 368.6 201.5 366.7 202.1 367.8 202.7 367.4 203.3 366.6 203.9 367.1 204.5 367.1 205.1 366.9 205.7 368.3 206.3 366.2 206.9 367.5 207.5 367.5 208.1 367.0 208.7 367.4 209.3 367.8 209.9 367.4 210.5 367.6 211.1 367.7 211.7 366.2 212.3 368.2 212.9 368.6 213.5 367.9 214.1 367.9 214.7 366.6 215.3 367.3 215.9 366.9 216.5 367.1 217.1 367.9 217.7 367.0 218.3 367.3 218.9 366.4 219.5 367.3 220.1 367.5 220.7 367.0 221.3 367.0 221.9 368.5 222.5 366.8 223.1 366.9 223.7 367.0 224.3 368.1 224.9 368.6 225.5 367.7 226.1 367.1 226.7 367.2 227.3 368.1 227.9 367.0 228.5 368.3 229.1 368.3 229.7 367.5 230.3 367.9 230.9 367.9 231.5 368.4 232.1 367.0 232.7 368.2 233.3 367.3 233.9 367.1 234.5 367.6 235.1 367.4 235.7 367.0 236.3 366.7 236.9 367.1 237.5 368.4 238.1 368.7 238.7 368.0 239.3 368.3 239.9 367.3 240.5 367.6 241.1 367.8 241.7 367.0 242.3 367.1 242.9 367.7 243.5 367.5 244.1 367.1 244.7 367.9 245.3 367.5 245.9 368.2 246.5 367.7 247.1 367.5 247.7 367.8 248.3 367.6 248.9 367.3 249.5 367.5 250.1 368.1 250.7 368.1 251.3 368.4 251.9 366.8 252.5 367.5 253.1 367.5 253.7 367.8 254.3 367.5 254.9 367.5 255.5 368.2 256.1 367.9 256.7 367.1 257.3 368.5 257.9 368.3 258.5 367.5 259.1 368.3 259.7 367.4 260.3 368.4 260.9 367.7 261.5 367.4 262.1 367.6 262.7 367.4 263.3 367.9 263.9 367.9 264.5 367.9 265.1 367.5 265.7 365.8 266.3 367.9 266.9 366.8 267.5 368.0 268.1 368.5 268.7 368.0 269.3 367.7 269.9 367.8 270.5 367.8 271.1 367.6 271.7 367.6 272.3 367.4 272.9 368.6 273.5 367.9 274.1 368.5 274.7 367.8 275.3 368.0 275.9 367.9 276.5 368.2 277.1 368.4 277.7 368.1 278.3 367.6 278.9 367.6 279.5 368.9 280.1 367.8 280.7 367.8 281.3 368.8 281.9 368.6 282.5 368.3 283.1 367.8 283.7 369.3 284.3 368.3 284.9 368.3 285.5 368.0 286.1 367.3 286.7 367.3 287.3 368.3 287.9 368.3 288.5 367.9 289.1 367.4 289.7 367.3 290.3 367.9 290.9 367.3 291.5 368.6 292.1 368.7 292.7 369.7 293.3 368.6 293.9 367.8 294.5 367.7 295.1 366.2 295.7 367.8 296.3 368.1 296.9 368.7 297.5 368.5 298.1 368.5 298.7 368.3 299.3 368.5 299.9 369.0 300.5 367.6 301.1 367.9 301.7 367.4 302.3 369.1 302.9 368.9 303.5 368.6 304.1 367.5 304.7 368.3 305.3 368.1 305.9 368.3 306.5 368.1 307.1 368.5 307.7 368.0 308.3 368.7 308.9 368.4 309.5 368.1 310.1 368.2 310.7 368.0 311.3 368.7 311.9 368.1 312.5 368.4 313.1 368.0 313.7 367.4 314.3 368.7 314.9 367.7 315.5 368.6 316.1 368.5 316.7 367.3 317.3 367.7 317.9 368.0 318.5 367.8 319.1 367.6 319.7 368.7 320.3 368.1 320.9 368.5 321.5 368.0 322.1 368.4 322.7 367.8 323.3 368.2 323.9 368.6 324.5 368.3 325.1 368.0 325.7 367.6 326.3 368.3 326.9 368.4 327.5 368.1 328.1 367.8 328.7 368.5 329.3 369.5 329.9 368.0 330.5 368.3 331.1 368.2 331.7 366.5 332.3 367.9 332.9 367.2 333.5 368.1 334.1 366.6 334.7 364.7 335.3 360.3 335.9 351.6 336.3 347.8 336.5 348.9 337.1 353.2 337.7 355.6 338.3 360.8 338.9 365.8 339.5 367.0 340.1 367.5 340.7 368.3 341.3 368.4 341.9 368.9 342.5 368.7 343.1 368.1 343.7 368.3 344.3 368.3 344.9 368.4 345.5 368.4 346.1 367.9 346.7 367.2 347.3 368.0 347.9 367.2 348.5 368.4 349.1 368.4 349.7 367.5 350.3 368.8 350.9 368.9 351.5 368.5 352.1 369.3 352.7 369.5 353.3 367.8 353.9 369.0 354.5 368.7 355.1 368.7 355.7 369.0 356.3 368.1 356.9 368.1 357.5 368.0 358.1 368.1 358.7 368.4 359.3 367.7 359.9 367.9 360.5 368.8 361.1 368.5 361.7 368.7 362.3 367.5 362.9 368.1 363.5 368.2 364.1 368.5 364.7 368.2 365.3 369.0 365.9 368.5 366.5 368.5 367.1 368.5 367.7 368.9 368.3 368.3 368.9 369.2 369.5 368.8 370.1 368.6 370.7 368.6 371.3 368.8 371.9 369.1 372.5 369.1 373.1 368.8 373.7 369.0 374.3 368.6 374.9 369.2 375.5 368.5 376.1 367.4 376.7 369.3 377.3 368.6 377.9 367.9 378.5 368.5 379.1 368.1 379.7 369.7 380.3 368.8 380.9 367.7 381.5 368.9 382.1 368.4 382.7 369.6 383.3 368.0 383.9 367.3 384.5 368.6 385.1 368.4 385.7 368.3 386.3 367.4 386.9 368.8 387.5 369.5 388.1 367.5 388.7 369.2 389.3 368.2 389.9 369.8 390.5 368.8 391.1 368.4 391.7 369.1 392.3 368.8 392.9 368.2 393.5 368.9 394.1 368.2 394.7 367.4 395.3 369.5 395.9 368.2 396.5 368.0 397.1 368.5 397.7 367.4 398.3 367.4 398.9 367.8 399.5 367.7 400.1 367.9 400.7 368.3 401.3 367.2 401.9 367.4 402.5 367.0 403.1 365.5 403.7 365.2 404.3 362.8 404.9 360.6 405.5 351.7 406.1 311.4 406.7 202.9 406.9 192.4 407.3 254.2 407.9 306.5 408.5 273.0 409.1 320.3 409.7 354.5 410.3 362.0 410.9 364.0 411.5 366.3 412.1 366.3 412.7 366.9 413.3 367.5 413.9 367.2 414.5 367.6 415.1 367.9 415.7 369.0 416.3 369.1 416.9 368.2 417.5 369.3 418.1 368.4 418.7 368.7 419.3 369.0 419.9 368.7 420.5 369.9 421.1 368.7 421.7 368.0 422.3 369.4 422.9 368.4 423.5 368.5 424.1 367.1 424.7 369.3 425.3 369.2 425.9 369.2 426.5 369.3 427.1 369.7 427.7 368.8 428.3 369.3 428.9 368.4 429.5 368.6 430.1 369.4 430.7 369.0 431.3 368.1 431.9 369.0 432.5 368.7 433.1 368.4 433.7 369.1 434.3 368.6 434.9 368.0 435.5 368.3 436.1 369.9 436.7 368.0 437.3 369.0 437.9 369.2 438.5 369.2 439.1 368.2 439.7 368.7 440.3 369.0 440.9 369.4 441.5 368.6 442.1 368.3 442.7 369.5 443.3 369.5 443.9 369.1 444.5 368.6 445.1 369.2 445.7 369.0 446.3 369.4 446.9 368.3 447.5 369.0 448.1 368.9 448.7 368.3 449.3 369.1 449.9 369.0 450.5 368.7 451.1 369.2 451.7 368.2 452.3 368.9 452.9 369.2 453.5 369.1 454.1 369.6 454.7 368.3 455.3 368.1 455.9 369.1 456.5 369.2 457.1 370.1 457.7 369.3 458.3 368.5 458.9 369.4 459.5 368.5 460.1 368.1 460.7 370.4 461.3 369.1 461.9 369.3 462.5 369.2 463.1 369.9 463.7 369.0 464.3 369.5 464.9 368.2 465.5 367.9 466.1 369.4 466.7 369.3 467.3 368.6 467.9 368.1 468.5 367.6 469.1 366.1 469.7 365.0 470.3 354.6 470.9 327.0 471.2 320.3 471.5 331.2 472.1 351.8 472.7 346.7 473.3 346.4 473.9 361.4 474.5 367.3 475.1 367.1 475.7 367.9 476.3 368.8 476.9 369.0 477.5 369.0 478.1 367.9 478.7 369.1 479.3 368.2 479.9 368.5 480.5 369.3 481.1 368.8 481.7 369.5 482.3 370.8 482.9 369.5 483.5 369.5 484.1 368.6 484.7 368.8 485.3 368.5 485.9 368.8 486.5 368.5 487.1 368.8 487.7 369.0 488.3 368.6 488.9 368.4 489.5 368.4 490.1 369.4 490.7 369.2 491.3 369.8 491.9 369.8 492.5 369.0 493.1 369.6 493.7 368.4 494.3 370.5 494.9 369.9 495.5 369.1 496.1 368.6 496.7 369.5 497.3 368.2 497.9 368.8 498.5 369.7 499.1 369.3 499.7 369.0 500.3 369.8 500.9 368.7 501.5 369.4 502.1 369.0 502.7 368.8 503.3 369.5 503.9 368.7 504.5 370.3 505.1 369.0 505.7 370.4 506.3 368.7 506.9 369.6 507.5 368.6 508.1 368.5 508.7 369.4 509.3 369.7 509.9 368.6 510.5 369.9 511.1 368.8 511.7 369.4 512.3 369.5 512.9 369.6 513.5 368.3 514.1 370.2 514.7 369.6 515.3 369.1 515.9 368.7 516.5 368.4 517.1 368.5 517.7 369.6 518.3 369.1 518.9 368.7 519.5 369.0 520.1 370.1 520.7 369.1 521.3 369.0 521.9 370.0 522.5 369.5 523.1 369.3 523.7 369.0 524.3 368.4 524.9 368.6 525.5 369.0 526.1 369.2 526.7 369.5 527.3 369.6 527.9 369.4 528.5 369.4 529.1 368.7 529.7 368.1 530.3 369.0 530.9 368.8 531.5 368.9 532.1 369.1 532.7 368.6 533.3 368.7 533.9 369.2 534.5 369.4 535.1 368.9 535.7 369.6 536.3 369.2 536.9 368.7 537.5 369.3 538.1 370.3 538.7 368.9 539.3 369.9 539.9 370.0 540.5 370.1 541.1 368.8 541.7 370.4 542.3 369.4 542.9 369.2 543.5 369.2 544.1 369.6 544.7 369.3 545.3 369.2 545.9 370.0 546.5 368.9 547.1 368.7 547.7 369.7 548.3 369.7 548.9 369.9 549.5 368.7 550.1 369.9 550.7 369.6 551.3 370.3 551.9 368.6 552.5 369.4 553.1 369.1 553.7 368.4 554.3 368.9 554.9 369.9 555.5 369.0 556.1 368.9 556.7 369.8 557.3 369.8 557.9 369.8 558.5 368.9 559.1 369.3 559.7 369.9 560.3 368.9 560.9 368.9 561.5 369.7 562.1 370.1 562.7 368.7 563.3 367.9 563.9 368.5 564.5 368.7 565.1 369.2 565.7 369.6 566.3 369.2 566.9 368.9 567.5 369.4 568.1 368.8 568.7 369.3 569.3 368.9 569.9 370.8 570.5 369.7 571.1 368.8 571.7 368.7 572.3 369.0 572.9 368.4 573.5 368.9 574.1 368.9 574.7 369.8 575.3 369.0 575.9 368.8 576.5 368.5 577.1 368.6 577.7 369.2 578.3 369.1 578.9 369.9 579.5 368.9 580.1 369.8 580.7 369.4 581.3 369.2 581.9 368.1 582.5 368.4 583.1 369.5 583.7 369.8 584.3 369.1 584.9 369.2 585.5 368.4 586.1 368.0 586.7 367.4 587.3 367.8 587.9 367.2 587.9 366.9 588.5 366.9 589.1 367.5 589.7 367.7 590.3 367.3 590.9 369.1 591.5 368.6 592.1 368.7 592.7 369.7 593.3 369.6 593.9 369.0 594.5 369.4 595.1 368.6 595.7 368.8 596.3 368.0 596.9 369.9 597.5 368.2 598.1 369.6 598.7 368.8 599.3 368.7 599.9 369.1 600.5 369.4 601.1 369.6 601.7 370.2 602.3 369.5 602.9 369.8 603.5 368.9 604.1 369.7 604.7 369.4 605.3 369.0 605.9 369.2 606.5 369.2 607.1 369.4 607.7 369.5 608.3 369.0 608.9 368.9 609.5 369.7 610.1 368.4 610.7 368.9 611.3 370.1 611.9 367.8 612.5 368.9 613.1 369.7 613.7 368.4 614.3 370.7 614.9 367.9 615.5 370.1 616.1 370.1 616.7 369.8 617.3 369.2 617.9 369.5 618.5 368.8 619.1 369.7 619.7 368.7 620.3 369.1 620.9 369.8 621.5 368.7 622.1 369.1 622.7 369.4 623.3 368.6 623.9 369.9 624.5 369.5 625.1 368.5 625.7 369.3 626.3 368.9 626.9 368.9 627.5 369.3 628.1 368.9 628.7 369.8 629.3 368.9 629.9 369.8 630.5 369.3 631.1 369.8 631.7 369.0 632.3 369.0 632.9 368.7 633.5 369.6 634.1 369.8 634.7 370.5 635.3 370.0 635.9 369.4 636.5 369.2 637.1 369.5 637.7 369.3 638.3 370.1 638.9 369.8 639.5 368.8 640.1 368.9 640.7 370.0 641.3 369.5 641.9 369.2 642.5 369.9 643.1 369.1 643.7 369.1 644.3 369.0 644.9 368.2 645.5 369.8 646.1 368.6 646.7 369.0 647.3 368.9 647.9 369.7 648.5 369.3 649.1 369.3 649.7 368.4 650.3 369.2 650.9 368.5 651.5 369.5 652.1 369.5 652.7 369.3 653.3 370.4 653.9 369.6 654.5 369.6 655.1 369.4 655.7 369.2 656.3 369.8 656.9 369.9 657.5 368.6 658.1 369.9 658.7 369.6 659.3 369.8 659.9 369.5 660.5 368.6 661.1 368.6 661.7 370.3 662.3 369.4 662.9 368.5 663.5 369.5 664.1 369.1 664.7 368.3 665.3 368.0 665.9 368.4 666.5 369.4 667.1 369.3 667.7 369.1 668.3 369.4 668.9 369.6 669.5 368.1 670.1 369.1 670.7 368.8 671.3 368.6 671.9 369.0 672.5 369.2 673.1 369.1 673.7 368.5 674.3 369.0 674.9 370.4 675.5 368.7 676.1 368.3 676.7 369.4 677.3 369.6 677.9 369.5 678.5 368.6 679.1 369.8 679.7 368.8 680.3 368.6 680.9 368.9 681.5 369.2 682.1 369.6 682.7 369.6 683.3 369.2 683.9 369.7 684.5 369.2 685.1 369.7 685.7 368.4 686.3 368.3 686.9 369.5 687.5 368.3 688.1 368.8 688.7 368.8 689.3 368.4 689.9 368.0 690.5 367.8 691.1 362.2 691.7 358.6 692.0 358.4 692.3 358.8 692.9 363.7 693.5 365.5 694.1 364.4 694.7 362.6 695.3 366.2 695.9 367.8 696.5 368.9 697.1 368.9 697.7 369.3 698.3 368.8 698.9 369.1 699.5 368.8 700.1 368.8 700.7 369.1 701.3 369.1 701.9 368.6 702.5 370.1 703.1 369.2 703.7 368.5 704.3 369.9 704.9 368.8 705.5 369.5 706.1 369.3 706.7 369.4 707.3 369.4 707.9 369.0 708.5 369.3 709.1 370.4 709.7 368.1 710.3 369.3 710.9 369.5 711.5 368.7 712.1 368.5 712.7 370.5 713.3 369.1 713.9 370.4 714.5 369.6 715.1 369.3 715.7 369.6 716.3 369.6 716.9 369.9 717.5 369.5 718.1 369.4 718.7 369.4 719.3 370.0 719.9 369.8 720.5 368.8 721.1 369.0 721.7 369.5 722.3 369.0 722.9 369.1 723.5 368.8 724.1 369.2 724.7 369.5 725.3 369.9 725.9 369.3 726.5 370.5 727.1 369.3 727.7 371.1 728.3 369.9 728.9 369.6 729.5 369.0 730.1 367.8 730.7 369.2 731.3 369.4 731.9 370.4 732.5 368.6 733.1 370.4 733.7 369.2 734.3 369.7 734.9 367.9 735.5 369.4 736.1 369.1 736.7 369.7 737.3 369.4 737.9 368.7 738.5 369.8 739.1 369.7 739.7 369.7 740.3 369.9 740.9 369.9 741.5 369.3 742.1 368.6 742.7 368.6 743.3 370.1 743.9 369.7 744.5 369.4 745.1 369.1 745.7 369.4 746.3 369.3 746.9 369.1 747.5 369.0 748.1 370.5 748.7 369.5 749.3 369.0 749.9 368.6 750.5 368.9 751.1 369.7 751.7 369.8 752.3 369.2 752.9 369.4 753.5 369.2 754.1 368.7 754.7 370.1 755.3 369.5 755.9 370.7 756.5 368.9 757.1 369.3 757.7 369.8 758.3 369.2 758.9 368.6 759.5 368.8 760.1 369.4 760.7 369.5 761.3 369.3 761.9 369.9 762.5 369.9 763.1 369.5 763.7 369.4 764.3 369.2 764.9 369.6 765.5 369.8 766.1 369.4 766.7 369.6 767.3 369.2 767.9 368.6 768.5 368.8 769.1 369.8 769.7 369.6 770.3 370.2 770.9 369.4 771.5 369.8 772.1 370.1 772.7 369.9 773.3 369.0 773.9 369.2 774.5 369.4 775.1 368.8 775.7 369.6 776.3 369.9 776.9 369.0 777.5 370.4 778.1 369.1 778.7 369.2 779.3 369.1 779.9 368.9 780.5 369.5 781.1 369.2 781.7 370.1 782.3 369.5 782.9 369.4 783.5 368.9 784.1 368.1 784.7 368.6 785.3 367.9 785.9 368.3 786.5 366.0 787.1 361.9 787.7 353.3 788.0 351.9 788.3 354.0 788.9 361.6 789.5 364.8 790.1 363.2 790.7 359.4 791.3 363.0 791.9 367.8 792.5 368.0 793.1 368.4 793.7 368.4 794.3 368.2 794.9 369.7 795.5 369.2 796.1 369.3 796.7 370.2 797.3 370.6 797.9 368.8 798.5 369.8 799.1 369.6 799.7 369.5 800.3 369.6 800.9 369.3 801.5 370.2 802.1 369.7 802.7 369.5 803.3 370.0 803.9 369.8 804.5 369.6 805.1 369.5 805.7 370.3 806.3 369.6 806.9 369.3 807.5 368.9 808.1 369.2 808.7 368.8 809.3 369.4 809.9 369.5 810.5 368.2 811.1 369.4 811.7 369.7 812.3 369.5 812.9 368.8 813.5 370.1 814.1 369.0 814.7 368.7 815.3 368.8 815.9 369.4 816.5 369.9 817.1 370.0 817.7 369.5 818.3 368.7 818.9 369.0 819.5 368.8 820.1 369.2 820.7 368.4 821.3 369.4 821.9 369.7 822.5 369.2 823.1 369.6 823.7 368.8 824.3 368.5 824.9 368.9 825.5 369.9 826.1 369.8 826.7 368.9 827.3 369.8 827.9 368.9 828.5 369.8 829.1 369.2 829.7 368.5 830.3 369.0 830.9 367.8 831.5 367.0 832.1 365.1 832.7 360.9 833.3 349.8 833.8 344.2 833.9 344.7 834.5 356.1 835.1 362.2 835.7 362.2 836.3 358.7 836.9 357.6 837.5 362.8 838.1 365.6 838.7 367.6 839.3 368.8 839.9 368.8 840.5 369.8 841.1 368.3 841.7 369.5 842.3 368.8 842.9 369.9 843.5 369.2 844.1 369.8 844.7 368.9 845.3 368.5 845.9 368.7 846.5 369.0 847.1 368.8 847.7 370.0 848.3 370.1 848.9 369.5 849.5 368.8 850.1 369.3 850.7 369.0 851.3 370.2 851.9 369.6 852.5 369.7 853.1 369.2 853.7 368.3 854.3 369.0 854.9 368.8 855.5 369.6 856.1 369.5 856.7 369.0 857.3 369.2 857.9 370.3 858.5 368.9 859.1 368.9 859.7 369.3 860.3 369.0 860.9 369.2 861.5 369.7 862.1 370.4 862.7 368.4 863.3 369.4 863.9 369.4 864.5 369.3 865.1 369.3 865.7 369.2 866.3 369.9 866.9 369.1 867.5 369.3 868.1 369.4 868.7 369.4 869.3 369.2 869.9 369.9 870.5 369.3 871.1 369.4 871.7 369.2 872.3 368.6 872.9 368.7 873.5 368.5 874.1 369.1 874.7 368.4 875.3 368.0 875.9 368.3 876.5 367.6 877.1 363.8 877.7 358.8 878.3 348.7 878.5 347.9 878.9 353.1 879.5 361.4 880.1 364.4 880.7 364.3 881.3 358.2 881.9 359.8 882.5 365.3 883.1 366.9 883.7 368.3 884.3 369.0 884.9 370.3 885.5 368.6 886.1 369.1 886.7 369.6 887.3 369.3 887.9 368.6 888.5 369.5 889.1 369.4 889.7 369.6 890.3 370.0 890.9 369.9 891.5 369.6 892.1 369.6 892.7 368.8 893.3 369.3 893.9 369.5 894.5 369.2 895.1 369.5 895.7 369.0 896.3 370.3 896.9 370.6 897.5 369.2 898.1 369.7 898.7 369.3 899.3 370.2 899.9 369.7 900.5 369.5 901.1 369.3 901.7 369.5 902.3 368.9 902.9 369.8 903.5 369.1 904.1 369.8 904.7 369.5 905.3 370.1 905.9 369.5 906.5 370.0 907.1 369.0 907.7 369.8 908.3 369.4 908.9 369.6 909.5 369.5 910.1 370.0 910.7 368.4 911.3 369.7 911.9 368.7 912.5 370.2 913.1 368.4 913.7 368.9 914.3 368.6 914.9 370.4 915.5 368.8 916.1 369.6 916.7 369.2 917.3 368.5 917.9 369.3 918.5 369.9 919.1 369.4 919.7 370.0 920.3 369.3 920.9 369.5 921.5 369.3 922.1 369.7 922.7 370.6 923.3 369.7 923.9 369.6 924.5 369.2 925.1 369.1 925.7 370.3 926.3 368.9 926.9 369.0 927.5 369.5 928.1 369.3 928.7 370.6 929.3 368.2 929.9 369.7 930.5 369.9 931.1 368.9 931.7 369.2 932.3 369.8 932.9 370.4 933.5 369.0 934.1 368.6 934.7 370.1 935.3 370.4 935.9 369.3 936.5 368.3 937.1 370.3 937.7 369.4 938.3 370.1 938.9 369.5 939.5 369.3 940.1 369.3 940.7 370.3 941.3 370.3 941.9 368.3 942.5 369.0 943.1 370.5 943.7 369.3 944.3 368.8 944.9 369.5 945.5 369.5 946.1 369.5 946.7 369.2 947.3 369.3 947.9 369.3 948.5 369.7 949.1 369.1 949.7 369.3 950.3 369.4 950.9 370.2 951.5 369.7 952.1 369.4 952.7 369.8 953.3 369.7 953.9 370.1 954.5 369.7 955.1 370.4 955.7 370.2 956.3 369.4 956.9 369.2 957.5 369.9 958.1 369.6 958.7 369.3 959.3 368.5 959.9 368.2 960.5 369.3 961.1 369.4 961.7 369.2 962.3 367.5 962.9 367.7 963.5 365.0 964.1 363.2 964.7 362.0 964.7 361.4 965.3 362.8 965.9 363.9 966.5 365.6 967.1 365.0 967.7 365.6 968.3 365.5 968.9 367.1 969.5 368.0 970.1 368.2 970.7 369.1 971.3 368.9 971.9 369.6 972.5 369.5 973.1 368.8 973.7 369.4 974.3 369.4 974.9 369.3 975.5 369.9 976.1 370.4 976.7 369.3 977.3 369.3 977.9 368.3 978.5 369.4 979.1 369.3 979.7 368.3 980.3 369.7 980.9 369.9 981.5 369.1 982.1 369.3 982.7 369.0 983.3 370.0 983.9 368.7 984.5 369.4 985.1 370.6 985.7 369.6 986.3 369.8 986.9 369.5 987.5 368.9 988.1 369.5 988.7 369.8 989.3 369.0 989.9 369.8 990.5 370.3 991.1 370.2 991.7 368.7 992.3 369.0 992.9 368.7 993.5 370.2 994.1 369.9 994.7 370.0 995.3 369.1 995.9 368.9 996.5 369.6 997.1 369.6 997.7 369.1 998.3 369.7 998.9 369.9 999.5 369.7 1000.1 369.0 1000.7 368.4 1001.3 369.4 1001.9 369.7 1002.5 369.4 1003.1 369.4 1003.7 369.2 1004.3 370.0 1004.9 369.6 1005.5 369.7 1006.1 369.1 1006.7 369.3 1007.3 369.7 1007.9 369.0 1008.5 368.9 1009.1 369.4 1009.7 370.3 1010.3 369.7 1010.9 370.4 1011.5 369.5 1012.1 369.4 1012.7 368.8 1013.3 369.3 1013.9 370.4 1014.5 369.8 1015.1 370.0 1015.7 370.0 1016.3 369.6 1016.9 369.5 1017.5 369.7 1018.1 370.0 1018.7 369.9 1019.3 369.9 1019.9 369.7 1020.5 369.2 1021.1 369.5 1021.7 369.1 1022.3 370.2 1022.9 368.5 1023.5 369.5 1024.1 370.9 1024.7 369.4 1025.3 369.0 1025.9 369.6 1026.5 370.3 1027.1 369.5 1027.7 370.0 1028.3 369.7 1028.9 369.4 1029.5 371.3 1030.1 369.7 1030.7 369.3 1031.3 369.3 1031.9 369.8 1032.5 369.8 1033.1 370.0 1033.7 369.7 1034.3 368.8 1034.9 369.9 1035.5 369.4 1036.1 369.5 1036.7 368.8 1037.3 369.3 1037.9 369.2 1038.5 369.6 1039.1 368.8 1039.7 369.6 1040.3 369.7 1040.9 369.0 1041.5 369.2 1042.1 369.1 1042.7 370.1 1043.3 368.2 1043.9 369.3 1044.5 368.6 1045.1 369.2 1045.7 369.8 1046.3 368.8 1046.9 369.0 1047.5 368.3 1048.1 369.7 1048.2 369.1 1048.7 369.3 1049.3 368.1 1049.9 368.3 1050.5 369.6 1051.1 368.9 1051.7 368.9 1052.3 369.3 1052.9 368.5 1053.5 369.8 1054.1 369.4 1054.7 369.8 1055.3 369.2 1055.9 369.9 1056.5 369.2 1057.1 370.1 1057.7 370.2 1058.3 370.1 1058.9 369.9 1059.5 370.0 1060.1 368.1 1060.7 370.1 1061.3 369.5 1061.9 369.7 1062.5 369.5 1063.1 368.9 1063.7 369.3 1064.3 370.0 1064.9 370.4 1065.5 369.3 1066.1 369.2 1066.7 370.4 1067.3 369.2 1067.9 370.8 1068.5 369.7 1069.1 369.2 1069.7 370.2 1070.3 370.6 1070.9 368.9 1071.5 370.5 1072.1 369.5 1072.7 370.5 1073.3 369.4 1073.9 368.8 1074.5 369.9 1075.1 370.2 1075.7 370.8 1076.3 370.6 1076.9 370.0 1077.5 369.5 1078.1 369.4 1078.7 369.5 1079.3 369.2 1079.9 369.5 1080.5 368.3 1081.1 369.8 1081.7 369.7 1082.3 371.1 1082.9 370.1 1083.5 369.4 1084.1 370.0 1084.7 369.0 1085.3 369.3 1085.9 368.6 1086.5 370.5 1087.1 370.0 1087.7 369.0 1088.3 369.6 1088.9 370.2 1089.5 369.9 1090.1 369.9 1090.7 369.2 1091.3 369.3 1091.9 369.7 1092.5 370.2 1093.1 369.2 1093.7 369.1 1094.3 370.3 1094.9 369.2 1095.5 370.3 1096.1 369.8 1096.7 370.2 1097.3 370.6 1097.9 370.1 1098.5 370.1 1099.1 369.2 1099.7 369.3 1100.3 370.0 1100.9 370.5 1101.5 370.4 1102.1 371.0 1102.7 369.9 1103.3 369.8 1103.9 370.2 1104.5 369.7 1105.1 369.7 1105.7 369.1 1106.3 370.2 1106.9 369.1 1107.5 370.0 1108.1 368.9 1108.7 370.3 1109.3 369.1 1109.9 370.1 1110.5 368.8 1111.1 369.4 1111.7 370.3 1112.3 369.2 1112.9 369.7 1113.5 369.4 1114.1 368.4 1114.7 369.8 1115.3 369.9 1115.9 369.1 1116.5 370.0 1117.1 369.2 1117.7 369.1 1118.3 369.7 1118.9 369.3 1119.5 370.9 1120.1 368.8 1120.7 370.0 1121.3 370.1 1121.9 368.5 1122.5 368.6 1123.1 369.8 1123.7 369.1 1124.3 369.4 1124.9 369.5 1125.5 368.2 1126.1 367.3 1126.7 366.2 1126.7 367.8 1127.3 367.4 1127.9 368.5 1128.5 368.8 1129.1 368.0 1129.7 369.7 1130.3 369.2 1130.9 369.1 1131.5 368.2 1132.1 368.9 1132.7 369.0 1133.3 369.2 1133.9 368.9 1134.5 369.8 1135.1 369.7 1135.7 369.8 1136.3 369.4 1136.9 370.4 1137.5 369.8 1138.1 368.2 1138.7 369.3 1139.3 369.6 1139.9 370.2 1140.5 369.5 1141.1 369.5 1141.7 369.3 1142.3 370.1 1142.9 369.4 1143.5 369.4 1144.1 369.3 1144.7 370.0 1145.3 369.4 1145.9 368.8 1146.5 370.0 1147.1 369.3 1147.7 369.9 1148.3 369.9 1148.9 370.4 1149.5 370.3 1150.1 369.4 1150.7 369.6 1151.3 369.0 1151.9 370.6 1152.5 369.9 1153.1 370.4 1153.7 369.5 1154.3 368.5 1154.9 370.5 1155.5 369.7 1156.1 369.7 1156.7 369.6 1157.3 370.0 1157.9 369.9 1158.5 368.7 1159.1 370.1 1159.7 369.2 1160.3 369.2 1160.9 370.3 1161.5 369.8 1162.1 369.0 1162.7 367.9 1163.3 368.5 1163.9 367.7 1164.5 365.4 1165.1 361.8 1165.7 359.6 1165.9 359.2 1166.3 361.0 1166.9 364.2 1167.5 366.6 1168.1 366.5 1168.7 366.6 1169.3 365.6 1169.9 364.2 1170.5 365.2 1171.1 368.1 1171.7 368.3 1172.3 369.3 1172.9 368.9 1173.5 369.3 1174.1 368.5 1174.7 369.5 1175.3 370.2 1175.9 370.7 1176.5 370.2 1177.1 370.0 1177.7 369.7 1178.3 369.3 1178.9 369.6 1179.5 370.0 1180.1 369.2 1180.7 370.2 1181.3 369.2 1181.9 368.7 1182.5 369.1 1183.1 368.8 1183.7 369.0 1184.3 370.3 1184.9 369.6 1185.5 369.8 1186.1 370.4 1186.7 370.4 1187.3 369.5 1187.9 370.5 1188.5 369.9 1189.1 369.7 1189.7 370.0 1190.3 369.0 1190.9 369.3 1191.5 369.7 1192.1 370.1 1192.7 369.5 1193.3 369.7 1193.9 370.3 1194.5 370.5 1195.1 370.2 1195.7 370.4 1196.3 369.5 1196.9 369.5 1197.5 369.9 1198.1 369.5 1198.7 369.4 1199.3 370.6 1199.9 369.5 1200.5 369.1 1201.1 369.8 1201.7 370.5 1202.3 369.4 1202.9 369.8 1203.5 368.6 1204.1 368.2 1204.7 367.8 1205.0 368.1 1205.3 369.2 1205.9 367.8 1206.5 369.6 1207.1 368.4 1207.7 368.8 1208.3 369.4 1208.9 369.2 1209.5 369.1 1210.1 368.2 1210.7 369.5 1211.3 368.9 1211.9 371.0 1212.5 369.5 1213.1 369.8 1213.7 369.1 1214.3 369.5 1214.9 369.0 1215.5 370.3 1216.1 369.6 1216.7 370.1 1217.3 369.4 1217.9 369.5 1218.5 370.5 1219.1 369.2 1219.7 368.8 1220.3 370.0 1220.9 369.2 1221.5 369.5 1222.1 370.3 1222.7 369.3 1223.3 370.3 1223.9 369.4 1224.5 370.6 1225.1 370.5 1225.7 369.5 1226.3 369.7 1226.9 369.3 1227.5 369.9 1228.1 370.4 1228.7 369.0 1229.3 370.3 1229.9 369.1 1230.5 369.3 1231.1 368.8 1231.7 371.0 1232.3 369.8 1232.9 369.9 1233.5 369.4 1234.1 370.4 1234.7 368.7 1235.3 369.8 1235.9 371.0 1236.5 369.6 1237.1 369.8 1237.7 370.2 1238.3 369.4 1238.9 369.8 1239.5 370.3 1240.1 369.9 1240.7 370.0 1241.3 369.6 1241.9 370.0 1242.5 369.9 1243.1 370.6 1243.7 370.2 1244.3 369.7 1244.9 368.5 1245.5 370.2 1246.1 370.2 1246.7 369.3 1247.3 368.7 1247.9 369.2 1248.5 370.3 1249.1 369.2 1249.7 369.6 1250.3 370.0 1250.9 370.5 1251.5 369.8 1252.1 369.8 1252.7 369.5 1253.3 370.7 1253.9 370.4 1254.5 369.8 1255.1 369.1 1255.7 369.4 1256.3 370.2 1256.9 369.4 1257.5 370.3 1258.1 370.0 1258.7 370.0 1259.3 370.2 1259.9 370.1 1260.5 369.4 1261.1 369.7 1261.7 371.1 1262.3 369.2 1262.9 369.6 1263.5 370.4 1264.1 369.8 1264.7 369.4 1265.3 369.1 1265.9 370.1 1266.5 370.4 1267.1 370.6 1267.7 369.9 1268.3 370.4 1268.9 369.3 1269.5 369.9 1270.1 369.5 1270.7 369.9 1271.3 370.3 1271.9 370.4 1272.5 369.3 1273.1 370.6 1273.7 369.6 1274.3 369.3 1274.9 369.8 1275.5 369.1 1276.1 369.9 1276.7 370.0 1277.3 369.7 1277.9 370.2 1278.5 369.7 1279.1 369.9 1279.7 369.1 1280.3 369.9 1280.9 369.4 1281.5 369.6 1282.1 369.8 1282.7 370.0 1283.3 369.0 1283.9 369.0 1284.5 369.7 1285.1 370.1 1285.7 370.1 1286.3 370.4 1286.9 370.6 1287.5 370.1 1288.1 369.9 1288.7 369.3 1289.3 369.3 1289.9 369.6 1290.5 370.0 1291.1 370.0 1291.7 369.9 1292.3 369.8 1292.9 370.2 1293.5 370.0 1294.1 370.0 1294.7 370.0 1295.3 369.6 1295.9 369.3 1296.5 370.1 1297.1 370.1 1297.7 369.8 1298.3 369.6 1298.9 371.1 1299.5 369.5 1300.1 369.8 1300.7 370.0 1301.3 369.2 1301.9 369.9 1302.5 370.9 1303.1 370.4 1303.7 370.2 1304.3 370.2 1304.9 369.9 1305.5 370.4 1306.1 369.8 1306.7 369.7 1307.3 369.9 1307.9 370.4 1308.5 370.1 1309.1 370.3 1309.7 368.8 1310.3 370.5 1310.9 371.2 1311.5 370.6 1312.1 369.7 1312.7 369.4 1313.3 370.0 1313.9 369.4 1314.5 370.3 1315.1 369.6 1315.7 370.4 1316.3 370.6 1316.9 368.8 1317.5 370.1 1318.1 369.5 1318.7 369.1 1319.3 369.6 1319.9 369.8 1320.5 370.5 1321.1 369.1 1321.7 370.5 1322.3 371.0"/>
<path stroke="#1b6fde" stroke-width="4.6" d="M106.2 149.2 106.8 149.4 107.3 149.1 107.9 148.7 108.5 149.0 109.1 148.7 109.7 149.3 110.3 150.0 110.9 149.0 111.5 148.9 112.1 149.5 112.7 149.5 113.3 149.3 113.9 148.8 114.5 149.3 115.1 149.7 115.7 148.6 116.3 149.0 116.9 148.3 117.5 148.6 118.1 148.3 118.7 149.2 119.3 148.6 119.9 149.5 120.5 149.4 121.1 149.2 121.7 148.0 122.3 149.1 122.9 149.3 123.5 149.4 124.1 148.5 124.7 149.1 125.3 148.8 125.9 148.9 126.5 150.0 127.1 149.0 127.7 149.4 128.3 149.9 128.9 149.1 129.5 149.4 130.1 149.5 130.7 149.5 131.3 148.8 131.9 149.5 132.5 150.2 133.1 148.6 133.7 149.9 134.3 149.5 134.9 149.1 135.5 150.6 136.1 149.9 136.7 148.8 137.3 149.5 137.9 149.8 138.5 149.4 139.1 149.9 139.7 149.5 140.3 149.9 140.9 150.3 141.5 149.2 142.1 149.6 142.7 149.3 143.3 149.6 143.9 148.9 144.5 149.2 145.1 149.4 145.7 150.0 146.3 150.2 146.9 148.8 147.5 149.1 148.1 149.9 148.7 148.5 149.3 149.3 149.9 149.5 150.5 150.3 151.1 149.9 151.7 149.4 152.3 149.4 152.9 149.4 153.5 150.4 154.1 149.3 154.7 149.4 155.3 149.7 155.9 149.4 156.5 149.4 157.1 148.8 157.7 149.4 158.3 149.1 158.9 149.9 159.5 149.5 160.1 148.9 160.7 148.8 161.3 147.5 161.9 146.8 162.5 144.1 163.1 142.1 163.5 140.2 163.7 140.9 164.3 140.6 164.9 142.4 165.5 145.5 166.1 146.8 166.7 148.4 167.3 150.1 167.9 148.7 168.5 149.0 169.1 149.5 169.7 149.8 170.3 149.5 170.9 149.5 171.5 150.0 172.1 150.0 172.7 149.1 173.3 149.7 173.9 149.8 174.5 149.2 175.1 149.9 175.7 149.3 176.3 150.3 176.9 149.9 177.5 149.9 178.1 149.5 178.7 149.8 179.3 148.8 179.9 149.2 180.5 150.1 181.1 148.7 181.7 150.4 182.3 148.9 182.9 150.3 183.5 149.5 184.1 150.4 184.7 150.0 185.3 149.1 185.9 150.6 186.5 150.7 187.1 149.9 187.7 149.8 188.3 149.9 188.9 149.4 189.5 150.6 190.1 149.7 190.7 150.0 191.3 149.6 191.9 149.7 192.5 149.3 193.1 150.7 193.7 149.9 194.3 150.6 194.9 150.1 195.5 149.7 196.1 149.9 196.7 149.8 197.3 150.1 197.9 149.9 198.5 149.9 199.1 149.3 199.7 149.6 200.3 151.0 200.9 149.7 201.5 149.5 202.1 150.3 202.7 150.9 203.3 149.3 203.9 150.0 204.5 149.8 205.1 149.2 205.7 150.6 206.3 150.1 206.9 150.2 207.5 149.8 208.1 150.4 208.7 149.9 209.3 150.1 209.9 149.6 210.5 149.5 211.1 150.9 211.7 149.9 212.3 150.4 212.9 150.2 213.5 150.0 214.1 150.0 214.7 150.6 215.3 150.1 215.9 150.2 216.5 150.3 217.1 150.9 217.7 150.6 218.3 150.5 218.9 150.0 219.5 149.5 220.1 150.8 220.7 150.8 221.3 150.2 221.9 150.6 222.5 150.7 223.1 150.8 223.7 150.8 224.3 150.1 224.9 151.1 225.5 149.6 226.1 150.8 226.7 150.6 227.3 150.8 227.9 151.4 228.5 151.1 229.1 149.7 229.7 149.4 230.3 150.8 230.9 149.8 231.5 150.3 232.1 150.8 232.7 149.4 233.3 149.2 233.9 150.5 234.5 150.4 235.1 150.2 235.7 150.4 236.3 149.9 236.9 149.5 237.5 150.3 238.1 149.8 238.7 149.5 239.3 150.6 239.9 150.3 240.5 150.6 241.1 149.8 241.7 150.0 242.3 149.8 242.9 149.9 243.5 150.5 244.1 150.0 244.7 150.6 245.3 150.6 245.9 151.5 246.5 149.6 247.1 150.9 247.7 150.3 248.3 150.4 248.9 149.6 249.5 150.2 250.1 150.8 250.7 150.4 251.3 150.5 251.9 150.3 252.5 151.1 253.1 150.4 253.7 149.2 254.3 150.0 254.9 149.3 255.5 148.6 256.1 150.1 256.7 151.2 257.3 150.5 257.9 149.8 258.5 149.9 259.1 151.1 259.7 150.5 260.3 150.5 260.9 150.4 261.5 150.5 262.1 150.9 262.7 150.8 263.3 150.6 263.9 149.9 264.5 150.7 265.1 150.1 265.7 151.1 266.3 149.8 266.9 150.4 267.5 150.5 268.1 149.7 268.7 151.4 269.3 151.3 269.9 150.2 270.5 150.9 271.1 150.7 271.7 149.0 272.3 150.6 272.9 150.5 273.5 150.5 274.1 149.9 274.7 150.3 275.3 150.4 275.9 151.2 276.5 150.7 277.1 150.5 277.7 151.3 278.3 150.2 278.9 150.3 279.5 149.5 280.1 151.4 280.7 151.0 281.3 151.0 281.9 150.9 282.5 150.6 283.1 150.6 283.7 150.4 284.3 150.4 284.9 150.6 285.5 151.4 286.1 150.8 286.7 150.5 287.3 150.2 287.9 150.2 288.5 151.4 289.1 150.8 289.7 150.6 290.3 150.4 290.9 149.9 291.5 150.5 292.1 151.0 292.7 150.3 293.3 150.4 293.9 150.4 294.5 150.6 295.1 149.7 295.7 150.4 296.3 150.1 296.9 151.1 297.5 150.2 298.1 150.9 298.7 151.4 299.3 150.4 299.9 150.3 300.5 150.7 301.1 150.6 301.7 150.0 302.3 150.8 302.9 151.7 303.5 150.5 304.1 150.5 304.7 150.0 305.3 150.8 305.9 149.9 306.5 150.0 307.1 151.3 307.7 150.1 308.3 151.2 308.9 151.4 309.5 150.8 310.1 150.9 310.7 151.7 311.3 150.5 311.9 150.3 312.5 149.9 313.1 150.6 313.7 151.4 314.3 151.1 314.9 150.1 315.5 150.1 316.1 150.3 316.7 150.8 317.3 150.5 317.9 150.7 318.5 150.8 319.1 150.5 319.7 150.6 320.3 150.7 320.9 150.6 321.5 150.9 322.1 151.6 322.7 150.9 323.3 150.6 323.9 149.7 324.5 150.8 325.1 149.5 325.7 149.8 326.3 151.0 326.9 151.0 327.5 150.5 328.1 149.6 328.7 150.3 329.3 150.1 329.9 150.8 330.5 151.7 331.1 150.5 331.7 149.9 332.3 149.6 332.9 150.0 333.5 149.8 334.1 148.8 334.7 148.8 335.3 146.8 335.9 145.9 336.5 143.3 337.1 141.6 337.1 140.7 337.7 141.5 338.3 142.4 338.9 144.1 339.5 146.2 340.1 147.3 340.7 148.3 341.3 150.1 341.9 149.9 342.5 150.3 343.1 150.8 343.7 149.4 344.3 150.0 344.9 150.6 345.5 150.7 346.1 150.3 346.7 151.1 347.3 150.7 347.9 150.0 348.5 150.1 349.1 151.1 349.7 150.9 350.3 149.6 350.9 151.4 351.5 151.0 352.1 151.4 352.7 150.5 353.3 150.5 353.9 150.1 354.5 152.1 355.1 150.6 355.7 151.6 356.3 150.4 356.9 150.8 357.5 149.8 358.1 150.5 358.7 151.3 359.3 150.1 359.9 151.3 360.5 150.9 361.1 150.2 361.7 150.5 362.3 150.5 362.9 150.7 363.5 150.5 364.1 150.3 364.7 150.6 365.3 150.2 365.9 150.1 366.5 150.7 367.1 151.3 367.7 149.9 368.3 150.8 368.9 150.4 369.5 150.2 370.1 151.2 370.7 150.5 371.3 151.6 371.9 150.3 372.5 151.0 373.1 150.6 373.7 150.3 374.3 151.1 374.9 150.7 375.5 151.1 376.1 150.7 376.7 150.1 377.3 150.7 377.9 150.7 378.5 151.2 379.1 150.2 379.7 150.6 380.3 149.7 380.9 151.0 381.5 150.0 382.1 149.6 382.7 150.5 383.3 151.0 383.9 149.4 384.5 149.3 385.1 149.0 385.7 147.9 386.3 147.6 386.9 146.1 387.0 146.1 387.5 146.8 388.1 146.5 388.7 147.9 389.3 147.9 389.9 148.5 390.5 148.7 391.1 151.0 391.7 150.0 392.3 150.4 392.9 150.2 393.5 150.3 394.1 150.3 394.7 151.2 395.3 149.6 395.9 149.2 396.5 149.5 397.1 149.2 397.7 150.2 398.3 150.1 398.9 149.0 399.5 148.6 400.1 148.9 400.7 149.5 401.3 146.8 401.9 148.2 402.5 146.6 403.1 146.8 403.7 144.3 404.3 142.4 404.9 137.5 405.5 129.6 406.1 116.7 406.7 95.6 407.3 73.2 407.7 65.5 407.9 63.5 408.5 70.8 409.1 82.2 409.7 97.2 410.3 114.4 410.9 127.4 411.5 136.8 412.1 141.8 412.7 145.3 413.3 147.2 413.9 147.1 414.5 147.5 415.1 148.4 415.7 148.5 416.3 148.8 416.9 149.4 417.5 149.1 418.1 150.1 418.7 149.9 419.3 150.2 419.9 150.1 420.5 149.9 421.1 149.8 421.7 150.3 422.3 150.2 422.9 150.7 423.5 150.6 424.1 149.9 424.7 150.7 425.3 150.0 425.9 150.4 426.5 150.6 427.1 149.6 427.7 150.9 428.3 150.9 428.9 150.8 429.5 150.6 430.1 150.7 430.7 150.4 431.3 150.8 431.9 150.6 432.5 151.0 433.1 150.3 433.7 151.1 434.3 151.1 434.9 150.9 435.5 150.8 436.1 151.3 436.7 150.1 437.3 151.3 437.9 151.2 438.5 151.2 439.1 151.3 439.7 150.7 440.3 150.9 440.9 151.4 441.5 151.3 442.1 151.2 442.7 150.2 443.3 151.4 443.9 151.7 444.5 151.6 445.1 151.2 445.7 150.2 446.3 151.6 446.9 151.0 447.5 149.7 448.1 151.3 448.7 150.3 449.3 150.4 449.9 150.8 450.5 151.8 451.1 150.9 451.7 151.3 452.3 152.1 452.9 152.0 453.5 151.1 454.1 151.0 454.7 150.4 455.3 150.7 455.9 151.3 456.5 151.3 457.1 151.1 457.7 151.6 458.3 150.6 458.9 151.0 459.5 151.4 460.1 151.3 460.7 151.6 461.3 151.2 461.9 150.8 462.5 151.1 463.1 150.3 463.7 149.9 464.3 151.1 464.9 150.7 465.5 150.8 466.1 149.5 466.7 150.1 467.3 149.8 467.9 149.3 468.5 148.1 469.1 148.3 469.7 147.4 470.3 144.1 470.9 138.7 471.5 132.5 472.1 127.4 472.3 124.8 472.7 126.3 473.3 129.4 473.9 132.5 474.5 137.2 475.1 141.6 475.7 144.9 476.3 147.4 476.9 149.1 477.5 149.2 478.1 149.9 478.7 150.7 479.3 151.5 479.9 150.5 480.5 150.7 481.1 150.9 481.7 151.6 482.3 150.9 482.9 151.8 483.5 150.5 484.1 151.0 484.7 151.0 485.3 151.6 485.9 151.7 486.5 150.4 487.1 150.7 487.7 151.4 488.3 150.9 488.9 150.4 489.5 151.8 490.1 151.5 490.7 151.6 491.3 151.0 491.9 151.9 492.5 151.2 493.1 151.9 493.7 150.8 494.3 150.8 494.9 151.4 495.5 150.9 496.1 151.7 496.7 151.4 497.3 150.8 497.9 151.3 498.5 151.0 499.1 151.6 499.7 150.6 500.3 150.6 500.9 151.3 501.5 151.6 502.1 151.2 502.7 150.0 502.8 150.1 503.3 150.8 503.9 149.9 504.5 149.6 505.1 150.4 505.7 150.8 506.3 150.3 506.9 150.1 507.5 150.3 508.1 151.6 508.7 150.8 509.3 151.2 509.9 151.5 510.5 151.7 511.1 151.2 511.7 151.7 512.3 150.9 512.9 151.2 513.5 150.9 514.1 152.1 514.7 151.4 515.3 151.0 515.9 151.3 516.5 151.3 517.1 151.8 517.7 150.6 518.3 150.9 518.9 151.3 519.5 152.9 520.1 152.0 520.7 151.4 521.3 151.9 521.9 152.6 522.5 151.4 523.1 151.3 523.7 152.1 524.3 151.8 524.9 151.9 525.5 151.2 526.1 152.5 526.7 152.4 527.3 151.8 527.9 151.9 528.5 150.4 529.1 151.8 529.7 151.4 530.3 151.7 530.9 151.9 531.5 151.3 532.1 150.6 532.7 151.7 533.3 151.1 533.9 151.3 534.5 151.2 535.1 151.3 535.7 150.2 536.3 152.2 536.9 151.6 537.5 152.1 538.1 152.6 538.7 151.5 539.3 150.5 539.9 151.0 540.5 150.9 541.1 151.2 541.7 151.6 542.3 150.4 542.9 151.7 543.5 150.7 544.1 151.7 544.7 151.5 545.3 151.3 545.9 151.5 546.5 151.2 547.1 151.2 547.7 150.6 548.3 151.5 548.9 152.5 549.5 152.6 550.1 152.3 550.7 151.9 551.3 151.2 551.9 152.3 552.5 151.5 553.1 151.5 553.7 151.4 554.3 151.6 554.9 151.3 555.5 151.5 556.1 150.9 556.7 151.3 557.3 152.8 557.9 151.5 558.5 151.4 559.1 151.8 559.7 151.9 560.3 150.9 560.9 151.4 561.5 152.0 562.1 151.7 562.7 151.6 563.3 152.4 563.9 151.2 564.5 151.6 565.1 151.3 565.7 152.4 566.3 150.5 566.9 151.2 567.5 151.2 568.1 151.9 568.7 151.9 569.3 152.3 569.9 150.7 570.5 151.9 571.1 151.4 571.7 151.2 572.3 151.8 572.9 151.0 573.5 150.4 574.1 151.3 574.7 150.7 575.3 151.2 575.9 151.7 576.5 151.7 577.1 152.4 577.7 151.4 578.3 150.7 578.9 151.1 579.5 151.0 580.1 150.8 580.7 151.7 581.3 151.1 581.9 150.4 582.5 151.8 583.1 151.3 583.7 151.6 584.3 151.4 584.9 151.6 585.5 151.1 586.1 151.6 586.7 150.9 587.3 150.6 587.9 150.2 588.5 148.7 589.1 149.1 589.4 149.0 589.7 149.2 590.3 148.4 590.9 150.2 591.5 149.6 592.1 149.3 592.7 149.3 593.3 150.4 593.9 150.8 594.5 150.6 595.1 151.2 595.7 150.9 596.3 151.7 596.9 151.0 597.5 151.4 598.1 152.0 598.7 152.9 599.3 150.9 599.9 151.2 600.5 151.0 601.1 152.0 601.7 150.9 602.3 151.3 602.9 151.5 603.5 151.0 604.1 151.0 604.7 151.3 605.3 150.4 605.9 150.8 606.5 151.3 607.1 151.6 607.7 151.5 608.3 150.6 608.9 151.3 609.5 152.0 610.1 151.9 610.7 151.5 611.3 151.1 611.9 151.9 612.5 151.3 613.1 150.9 613.7 151.1 614.3 152.4 614.9 151.7 615.5 152.2 616.1 151.3 616.7 152.1 617.3 151.3 617.9 151.5 618.5 153.0 619.1 152.0 619.7 151.3 620.3 151.6 620.9 151.8 621.5 152.3 622.1 151.3 622.7 150.6 623.3 151.5 623.9 151.6 624.5 151.7 625.1 152.3 625.7 151.8 626.3 152.1 626.9 151.0 627.5 152.1 628.1 152.8 628.7 152.0 629.3 151.8 629.9 151.7 630.5 152.6 631.1 151.1 631.7 151.6 632.3 151.9 632.9 152.0 633.5 151.4 634.1 151.8 634.7 151.5 635.3 151.7 635.9 151.5 636.5 151.0 637.1 151.6 637.7 152.1 638.3 151.1 638.9 151.5 639.5 152.0 640.1 151.0 640.7 151.7 641.3 151.0 641.9 152.3 642.5 152.9 643.1 152.7 643.7 151.5 644.3 152.0 644.9 151.7 645.5 151.7 646.1 152.5 646.7 150.9 647.3 152.2 647.9 151.6 648.5 152.4 649.1 151.7 649.7 151.3 650.3 151.8 650.9 152.0 651.5 151.7 652.1 151.9 652.7 151.4 653.3 150.5 653.9 152.1 654.5 152.0 655.1 151.7 655.7 151.7 656.3 152.2 656.9 151.4 657.5 151.3 658.1 151.5 658.7 152.3 659.3 150.9 659.9 152.3 660.5 151.3 661.1 151.0 661.7 152.3 662.3 151.6 662.9 150.9 663.5 151.4 664.1 152.2 664.7 152.3 665.3 151.4 665.9 151.9 666.5 152.0 667.1 151.3 667.7 151.8 668.3 151.6 668.9 151.3 669.5 151.4 670.1 151.7 670.7 151.7 671.3 151.3 671.9 151.4 672.5 152.3 673.1 151.8 673.7 152.1 674.3 152.3 674.9 152.0 675.5 152.9 676.1 151.2 676.7 152.1 677.3 151.5 677.9 152.6 678.5 152.6 679.1 150.5 679.7 151.1 680.3 152.0 680.9 152.0 681.5 152.0 682.1 151.5 682.7 151.8 683.3 151.9 683.9 151.5 684.5 152.1 685.1 150.3 685.7 151.8 686.3 150.9 686.9 151.9 687.5 151.2 688.1 150.8 688.7 151.3 689.3 150.4 689.9 150.0 690.5 148.9 691.1 148.4 691.7 146.9 692.3 145.5 692.6 144.6 692.9 145.4 693.5 145.8 694.1 146.6 694.7 147.3 695.3 148.2 695.9 148.5 696.5 149.6 697.1 150.4 697.7 150.9 698.3 150.6 698.9 151.8 699.5 151.1 700.1 151.7 700.7 151.0 701.3 151.7 701.9 151.7 702.5 151.3 703.1 152.7 703.7 151.8 704.3 152.6 704.9 152.1 705.5 151.3 706.1 151.4 706.7 151.9 707.3 151.7 707.9 151.7 708.5 151.5 709.1 150.7 709.7 151.5 710.3 150.4 710.9 151.9 711.5 151.3 712.1 151.3 712.7 151.6 713.3 151.8 713.9 150.9 714.5 150.7 715.1 151.1 715.7 150.6 716.3 151.2 716.9 152.6 717.5 151.1 718.1 152.0 718.7 150.9 719.3 151.9 719.9 151.5 720.5 151.7 721.1 152.0 721.7 152.7 722.3 151.8 722.9 151.8 723.5 151.2 724.1 152.0 724.7 151.6 725.3 152.2 725.9 151.7 726.5 152.7 727.1 150.6 727.7 151.5 728.3 152.2 728.9 151.5 729.5 151.3 730.1 151.6 730.7 151.0 731.3 151.8 731.9 153.1 732.5 152.3 733.1 151.1 733.7 151.2 734.3 151.5 734.9 152.3 735.5 151.3 736.1 151.3 736.7 152.2 737.3 152.2 737.9 151.5 738.5 151.1 739.1 150.9 739.7 151.3 740.3 150.5 740.9 152.1 741.5 151.4 742.1 152.0 742.7 152.8 743.3 152.4 743.9 151.1 744.5 152.2 745.1 152.4 745.7 151.3 746.3 151.2 746.9 151.7 747.5 150.8 748.1 152.5 748.7 150.4 749.3 151.1 749.9 151.6 750.5 151.6 751.1 151.8 751.7 151.9 752.3 151.6 752.9 152.4 753.5 150.6 754.1 151.7 754.7 151.3 755.3 151.8 755.9 151.9 756.5 151.2 757.1 151.4 757.7 152.2 758.3 151.9 758.9 151.4 759.5 152.9 760.1 153.0 760.7 150.9 761.3 151.9 761.9 153.1 762.5 152.2 763.1 151.9 763.7 151.6 764.3 151.4 764.9 151.6 765.5 151.4 766.1 152.1 766.7 151.5 767.3 151.5 767.9 151.1 768.5 151.7 769.1 151.2 769.7 151.6 770.3 152.3 770.9 151.9 771.5 152.0 772.1 151.9 772.7 151.7 773.3 151.6 773.9 151.5 774.5 152.1 775.1 151.1 775.7 152.4 776.3 151.7 776.9 151.3 777.5 151.4 778.1 151.3 778.7 151.7 779.3 151.2 779.9 152.2 780.5 151.1 781.1 150.3 781.7 151.1 782.3 150.4 782.9 151.4 783.5 151.9 784.1 151.6 784.7 150.3 785.3 150.4 785.9 151.2 786.5 149.4 787.1 147.5 787.7 145.8 788.3 144.5 788.6 143.5 788.9 143.1 789.5 144.7 790.1 146.1 790.7 145.8 791.3 145.7 791.9 147.3 792.5 148.1 793.1 149.8 793.7 150.6 794.3 152.2 794.9 150.7 795.5 151.3 796.1 151.3 796.7 151.7 797.3 152.1 797.9 151.3 798.5 151.1 799.1 150.7 799.7 151.1 800.3 151.9 800.9 151.7 801.5 151.1 802.1 151.5 802.7 151.7 803.3 152.0 803.9 151.4 804.5 151.6 805.1 150.7 805.7 151.1 806.3 152.6 806.9 150.5 807.5 151.5 808.1 151.8 808.7 151.5 809.3 151.3 809.9 151.7 810.5 151.7 811.1 151.7 811.7 150.7 812.3 151.7 812.9 151.3 813.5 151.4 814.1 151.9 814.7 152.1 815.3 152.2 815.9 151.5 816.5 152.2 817.1 152.4 817.7 152.3 818.3 152.5 818.9 151.6 819.5 151.6 820.1 152.2 820.7 150.9 821.3 151.8 821.9 151.4 822.5 151.5 823.1 150.7 823.7 151.1 824.3 151.6 824.9 152.1 825.5 152.1 826.1 151.5 826.7 151.4 827.3 151.0 827.9 151.6 828.5 151.2 829.1 151.6 829.7 152.1 830.3 150.9 830.9 149.8 831.5 149.7 832.1 148.4 832.7 146.7 833.3 145.2 833.9 140.8 834.5 137.0 834.7 138.0 835.1 139.1 835.7 140.7 836.3 142.5 836.9 143.1 837.5 143.5 838.1 145.0 838.7 147.4 839.3 149.2 839.9 150.5 840.5 151.2 841.1 151.2 841.7 150.3 842.3 151.2 842.9 151.5 843.5 151.2 844.1 152.0 844.7 151.3 845.3 151.0 845.9 152.4 846.5 152.0 847.1 151.8 847.7 152.2 848.3 152.3 848.9 151.9 849.5 150.3 850.1 151.3 850.7 151.5 851.3 151.2 851.9 151.8 852.5 152.4 853.1 151.5 853.7 151.1 854.3 152.9 854.9 151.5 855.5 151.1 856.1 151.9 856.7 152.0 857.3 151.4 857.9 152.2 858.5 151.5 859.1 151.3 859.7 151.9 860.3 152.2 860.9 151.4 861.5 151.9 862.1 151.7 862.7 153.3 863.3 151.4 863.9 152.5 864.5 151.7 865.1 151.7 865.7 152.1 866.3 152.2 866.9 152.4 867.5 151.9 868.1 151.4 868.7 151.4 869.3 152.0 869.9 152.0 870.5 152.4 871.1 151.8 871.7 152.1 872.3 152.4 872.9 151.6 873.5 150.6 874.1 150.6 874.7 150.3 875.3 151.8 875.9 150.0 876.5 150.3 877.1 148.4 877.7 146.6 878.3 143.3 878.9 140.8 879.0 140.7 879.5 141.8 880.1 144.0 880.7 145.0 881.3 145.5 881.9 146.2 882.5 145.3 883.1 148.0 883.7 148.8 884.3 150.4 884.9 151.3 885.5 151.1 886.1 151.7 886.7 150.5 887.3 152.1 887.9 151.2 888.5 151.9 889.1 151.7 889.7 150.2 890.3 151.3 890.9 151.8 891.5 152.6 892.1 151.9 892.7 151.9 893.3 151.0 893.9 152.6 894.5 152.8 895.1 151.8 895.7 151.7 896.3 150.9 896.9 152.3 897.5 153.3 898.1 152.2 898.7 152.5 899.3 152.1 899.9 151.3 900.5 152.6 901.1 151.2 901.7 151.7 902.3 152.0 902.9 152.3 903.5 152.1 904.1 152.1 904.7 151.4 905.3 151.2 905.9 151.9 906.5 151.5 907.1 151.2 907.7 151.2 908.3 151.6 908.9 150.9 909.5 151.1 910.1 151.0 910.7 152.0 911.3 152.1 911.9 153.0 912.5 151.1 913.1 151.5 913.7 152.4 914.3 151.8 914.9 151.7 915.5 152.8 916.1 151.7 916.7 151.3 917.3 151.2 917.9 152.1 918.5 152.1 919.1 151.1 919.7 151.4 920.3 152.2 920.9 152.2 921.5 151.5 922.1 152.2 922.7 152.2 923.3 150.9 923.9 151.7 924.5 152.1 925.1 151.6 925.7 150.7 926.3 151.8 926.9 152.3 927.5 152.8 928.1 150.7 928.7 153.3 929.3 151.3 929.9 152.4 930.5 152.6 931.1 152.5 931.7 152.0 932.3 151.3 932.9 152.3 933.5 151.5 934.1 150.5 934.7 153.5 935.3 152.3 935.9 152.9 936.5 151.4 937.1 152.7 937.7 152.8 938.3 152.8 938.9 151.9 939.5 151.3 940.1 151.8 940.7 150.7 941.3 151.0 941.9 152.0 942.5 151.4 943.1 151.8 943.7 151.9 944.3 153.0 944.9 152.6 945.5 151.9 946.1 152.6 946.7 151.5 947.3 151.7 947.9 152.4 948.5 151.2 949.1 151.8 949.7 151.2 950.3 152.0 950.9 152.8 951.5 151.5 952.1 152.0 952.7 151.4 953.3 151.3 953.9 151.2 954.5 152.7 955.1 153.2 955.7 152.1 956.3 151.5 956.9 152.2 957.5 151.6 958.1 152.3 958.7 151.9 959.3 151.9 959.9 152.0 960.5 151.3 961.1 151.3 961.7 150.5 962.3 150.9 962.9 150.0 963.5 150.3 964.1 149.3 964.7 149.4 965.3 149.3 965.3 148.3 965.9 148.7 966.5 148.9 967.1 150.1 967.7 150.8 968.3 150.5 968.9 150.0 969.5 151.3 970.1 150.0 970.7 152.0 971.3 151.0 971.9 150.0 972.5 153.1 973.1 152.6 973.7 151.2 974.3 151.9 974.9 151.7 975.5 151.9 976.1 151.1 976.7 151.5 977.3 152.1 977.9 152.0 978.5 152.6 979.1 152.0 979.7 153.2 980.3 151.5 980.9 152.1 981.5 150.9 982.1 151.2 982.7 152.7 983.3 151.4 983.9 152.2 984.5 151.9 985.1 151.4 985.7 151.8 986.3 151.7 986.9 151.7 987.5 152.4 988.1 152.3 988.7 151.6 989.3 151.5 989.9 152.1 990.5 151.9 991.1 152.5 991.7 153.4 992.3 152.4 992.9 152.0 993.5 151.9 994.1 151.5 994.7 151.5 995.3 151.4 995.9 151.8 996.5 151.7 997.1 152.4 997.7 151.8 998.3 151.9 998.9 151.3 999.5 152.9 1000.1 152.3 1000.7 153.0 1001.3 152.4 1001.9 152.8 1002.5 151.9 1003.1 152.4 1003.7 153.5 1004.3 151.3 1004.9 152.6 1005.5 152.9 1006.1 152.2 1006.7 152.4 1007.3 152.7 1007.9 151.6 1008.5 152.2 1009.1 151.5 1009.7 151.6 1010.3 151.7 1010.9 151.9 1011.5 152.1 1012.1 152.3 1012.7 151.2 1013.3 153.1 1013.9 152.7 1014.5 152.4 1015.1 151.8 1015.7 152.0 1016.3 152.3 1016.9 152.3 1017.5 151.1 1018.1 152.4 1018.7 153.7 1019.3 151.0 1019.9 152.6 1020.5 152.2 1021.1 152.0 1021.7 152.8 1022.3 151.4 1022.9 152.1 1023.5 152.9 1024.1 151.9 1024.7 151.8 1025.3 152.1 1025.9 151.8 1026.5 152.9 1027.1 151.5 1027.7 152.5 1028.3 151.3 1028.9 152.4 1029.5 152.0 1030.1 150.6 1030.7 152.0 1031.3 151.4 1031.9 151.8 1032.5 152.9 1033.1 151.4 1033.7 151.4 1034.3 152.9 1034.9 152.1 1035.5 152.9 1036.1 152.2 1036.7 151.5 1037.3 152.0 1037.9 152.7 1038.5 152.6 1039.1 152.0 1039.7 152.1 1040.3 152.0 1040.9 151.7 1041.5 153.1 1042.1 152.0 1042.7 151.4 1043.3 151.7 1043.9 152.4 1044.5 152.4 1045.1 151.9 1045.7 151.6 1046.3 151.9 1046.9 150.9 1047.5 151.0 1048.1 152.1 1048.7 151.2 1049.3 151.5 1049.9 151.8 1050.5 151.3 1051.0 150.9 1051.1 152.1 1051.7 151.3 1052.3 150.8 1052.9 151.5 1053.5 151.4 1054.1 150.8 1054.7 151.4 1055.3 151.3 1055.9 150.4 1056.5 151.6 1057.1 151.6 1057.7 151.6 1058.3 151.0 1058.9 151.8 1059.5 152.0 1060.1 152.1 1060.7 151.4 1061.3 152.4 1061.9 151.4 1062.5 151.9 1063.1 152.8 1063.7 151.7 1064.3 151.8 1064.9 152.7 1065.5 151.9 1066.1 151.9 1066.7 152.2 1067.3 152.7 1067.9 150.9 1068.5 151.6 1069.1 151.5 1069.7 151.5 1070.3 151.6 1070.9 151.6 1071.5 152.3 1072.1 151.6 1072.7 152.2 1073.3 152.3 1073.9 151.7 1074.5 152.2 1075.1 153.0 1075.7 152.3 1076.3 151.8 1076.9 152.1 1077.5 151.6 1078.1 152.3 1078.7 152.6 1079.3 151.7 1079.9 152.0 1080.5 152.8 1081.1 151.9 1081.7 152.2 1082.3 151.6 1082.9 151.7 1083.5 151.9 1084.1 153.3 1084.7 151.9 1085.3 151.9 1085.9 151.8 1086.5 152.1 1087.1 152.5 1087.7 152.3 1088.3 153.3 1088.9 152.3 1089.5 153.0 1090.1 152.3 1090.7 152.5 1091.3 151.4 1091.9 152.1 1092.5 152.1 1093.1 152.0 1093.7 151.0 1094.3 152.6 1094.9 152.0 1095.5 151.9 1096.1 152.0 1096.7 152.0 1097.3 152.4 1097.9 151.5 1098.5 151.7 1099.1 152.3 1099.7 152.3 1100.3 152.0 1100.9 151.9 1101.5 151.7 1102.1 152.1 1102.7 152.8 1103.3 151.6 1103.9 153.0 1104.5 152.6 1105.1 151.9 1105.7 152.6 1106.3 151.4 1106.9 151.2 1107.5 151.5 1108.1 152.0 1108.7 152.0 1109.3 151.9 1109.9 152.2 1110.5 151.0 1111.1 152.5 1111.7 151.4 1112.3 151.8 1112.9 152.0 1113.5 151.5 1114.1 151.4 1114.7 151.6 1115.3 152.2 1115.9 152.5 1116.5 152.5 1117.1 151.6 1117.7 151.7 1118.3 151.6 1118.9 152.4 1119.5 151.0 1120.1 152.8 1120.7 151.8 1121.3 151.7 1121.9 152.3 1122.5 152.6 1123.1 152.2 1123.7 152.5 1124.3 151.8 1124.9 152.3 1125.5 152.1 1126.1 151.1 1126.7 151.7 1127.3 150.8 1127.6 150.7 1127.9 150.2 1128.5 150.6 1129.1 151.3 1129.7 150.3 1130.3 151.5 1130.9 151.4 1131.5 151.4 1132.1 150.1 1132.7 151.5 1133.3 152.0 1133.9 151.4 1134.5 152.0 1135.1 150.7 1135.7 152.4 1136.3 151.7 1136.9 152.6 1137.5 151.1 1138.1 152.5 1138.7 152.0 1139.3 152.6 1139.9 151.7 1140.5 151.8 1141.1 153.4 1141.7 151.7 1142.3 151.8 1142.9 152.1 1143.5 151.6 1144.1 152.9 1144.7 153.2 1145.3 151.8 1145.9 151.3 1146.5 152.9 1147.1 152.8 1147.7 152.7 1148.3 152.9 1148.9 151.7 1149.5 152.1 1150.1 151.5 1150.7 151.4 1151.3 152.7 1151.9 151.8 1152.5 153.5 1153.1 152.2 1153.7 151.8 1154.3 152.6 1154.9 153.2 1155.5 152.4 1156.1 151.5 1156.7 152.3 1157.3 152.9 1157.9 151.8 1158.5 151.7 1159.1 152.6 1159.7 152.1 1160.3 151.3 1160.9 151.7 1161.5 151.4 1162.1 151.8 1162.7 151.4 1163.3 151.4 1163.9 150.2 1164.5 147.2 1165.1 146.0 1165.7 144.3 1166.0 143.8 1166.3 144.5 1166.9 145.6 1167.5 147.3 1168.1 149.4 1168.7 148.3 1169.3 147.0 1169.9 148.1 1170.5 147.6 1171.1 149.0 1171.7 149.5 1172.3 150.4 1172.9 150.9 1173.5 151.6 1174.1 152.1 1174.7 150.7 1175.3 152.5 1175.9 151.4 1176.5 151.5 1177.1 152.5 1177.7 152.1 1178.3 151.3 1178.9 153.2 1179.5 151.7 1180.1 152.4 1180.7 152.3 1181.3 153.0 1181.9 152.0 1182.5 152.8 1183.1 151.9 1183.7 152.9 1184.3 151.9 1184.9 152.1 1185.5 153.3 1186.1 152.5 1186.7 152.3 1187.3 153.5 1187.9 152.5 1188.5 151.8 1189.1 152.7 1189.7 151.6 1190.3 152.9 1190.9 153.0 1191.5 152.0 1192.1 151.9 1192.7 152.4 1193.3 152.3 1193.9 151.7 1194.5 152.6 1195.1 151.2 1195.7 152.0 1196.3 152.0 1196.9 152.1 1197.5 152.4 1198.1 151.5 1198.7 152.5 1199.3 152.0 1199.9 151.7 1200.5 151.1 1201.1 151.1 1201.7 151.7 1202.3 150.7 1202.9 151.0 1203.5 151.5 1203.6 151.5 1204.1 151.8 1204.7 150.9 1205.3 150.6 1205.9 151.9 1206.5 151.6 1207.1 152.0 1207.7 151.5 1208.3 152.2 1208.9 152.2 1209.5 152.2 1210.1 152.2 1210.7 152.3 1211.3 152.3 1211.9 152.3 1212.5 152.8 1213.1 152.0 1213.7 153.3 1214.3 152.3 1214.9 152.9 1215.5 152.3 1216.1 152.2 1216.7 153.5 1217.3 152.2 1217.9 151.7 1218.5 152.0 1219.1 152.2 1219.7 153.6 1220.3 152.5 1220.9 152.9 1221.5 151.8 1222.1 152.6 1222.7 152.8 1223.3 153.4 1223.9 152.0 1224.5 152.7 1225.1 152.6 1225.7 151.8 1226.3 152.4 1226.9 152.3 1227.5 151.1 1228.1 152.7 1228.7 152.7 1229.3 152.2 1229.9 151.7 1230.5 153.2 1231.1 152.6 1231.7 153.0 1232.3 153.2 1232.9 152.1 1233.5 152.9 1234.1 152.3 1234.7 152.4 1235.3 152.4 1235.9 152.4 1236.5 153.0 1237.1 152.5 1237.7 152.4 1238.3 152.3 1238.9 152.6 1239.5 151.9 1240.1 152.2 1240.7 152.4 1241.3 152.1 1241.9 152.4 1242.5 152.1 1243.1 153.5 1243.7 153.2 1244.3 152.7 1244.9 152.4 1245.5 153.7 1246.1 152.6 1246.7 152.4 1247.3 152.6 1247.9 152.6 1248.5 153.2 1249.1 152.4 1249.7 153.6 1250.3 152.0 1250.9 152.8 1251.5 151.9 1252.1 153.5 1252.7 152.3 1253.3 152.4 1253.9 153.0 1254.5 153.2 1255.1 151.9 1255.7 152.3 1256.3 151.7 1256.9 152.6 1257.5 152.4 1258.1 152.3 1258.7 152.1 1259.3 152.3 1259.9 152.1 1260.5 152.8 1261.1 153.3 1261.7 151.4 1262.3 152.4 1262.9 152.3 1263.5 152.8 1264.1 152.0 1264.7 152.4 1265.3 151.9 1265.9 152.9 1266.5 152.6 1267.1 152.4 1267.7 152.7 1268.3 152.4 1268.9 151.6 1269.5 152.8 1270.1 152.7 1270.7 152.4 1271.3 153.0 1271.9 153.2 1272.5 151.9 1273.1 152.1 1273.7 153.4 1274.3 153.3 1274.9 152.1 1275.5 151.9 1276.1 152.2 1276.7 152.2 1277.3 151.6 1277.9 152.5 1278.5 151.8 1279.1 151.9 1279.7 153.0 1280.3 152.1 1280.9 152.5 1281.5 152.9 1282.1 153.0 1282.7 152.3 1283.3 152.6 1283.9 152.1 1284.5 153.5 1285.1 152.9 1285.7 151.9 1286.3 152.5 1286.9 152.9 1287.5 152.8 1288.1 153.5 1288.7 153.3 1289.3 152.2 1289.9 152.5 1290.5 151.8 1291.1 152.7 1291.7 152.6 1292.3 154.0 1292.9 152.6 1293.5 151.4 1294.1 152.2 1294.7 152.6 1295.3 151.9 1295.9 152.1 1296.5 152.4 1297.1 152.7 1297.7 152.5 1298.3 152.1 1298.9 153.0 1299.5 152.3 1300.1 152.3 1300.7 151.8 1301.3 152.1 1301.9 152.9 1302.5 151.7 1303.1 152.5 1303.7 153.0 1304.3 152.4 1304.9 152.7 1305.5 152.0 1306.1 153.3 1306.7 153.2 1307.3 152.7 1307.9 151.6 1308.5 152.0 1309.1 153.1 1309.7 153.5 1310.3 152.7 1310.9 153.3 1311.5 152.2 1312.1 152.5 1312.7 152.6 1313.3 152.8 1313.9 151.7 1314.5 153.1 1315.1 153.3 1315.7 152.0 1316.3 151.8 1316.9 152.8 1317.5 152.2 1318.1 151.3 1318.7 153.0 1319.3 152.7 1319.9 152.3 1320.5 153.8 1321.1 152.7 1321.7 152.2 1322.3 152.7"/>
</g>
<rect x="105.15" y="42.15" width="1218.60" height="961.10" fill="none" stroke="#000" stroke-width="4.7"/>
<path d="M144.46 1003.25V1021.9 M242.73 1003.25V1012.0 M341.01 1003.25V1021.9 M439.28 1003.25V1012.0 M537.56 1003.25V1021.9 M635.83 1003.25V1012.0 M734.10 1003.25V1021.9 M832.38 1003.25V1012.0 M930.65 1003.25V1021.9 M1028.93 1003.25V1012.0 M1127.20 1003.25V1021.9 M1225.48 1003.25V1012.0 M1323.75 1003.25V1021.9" stroke="#000" stroke-width="4.7" fill="none"/>
<g transform="translate(144.46,1073.00) translate(-27.25,0)"><text x="0.00" y="0" transform="scale(1,1.0405)" font-size="49">20</text></g>
<g transform="translate(341.01,1073.00) translate(-27.25,0)"><text x="0.00" y="0" transform="scale(1,1.0405)" font-size="49">30</text></g>
<g transform="translate(537.56,1073.00) translate(-27.25,0)"><text x="0.00" y="0" transform="scale(1,1.0405)" font-size="49">40</text></g>
<g transform="translate(734.10,1073.00) translate(-27.25,0)"><text x="0.00" y="0" transform="scale(1,1.0405)" font-size="49">50</text></g>
<g transform="translate(930.65,1073.00) translate(-27.25,0)"><text x="0.00" y="0" transform="scale(1,1.0405)" font-size="49">60</text></g>
<g transform="translate(1127.20,1073.00) translate(-27.25,0)"><text x="0.00" y="0" transform="scale(1,1.0405)" font-size="49">70</text></g>
<g transform="translate(1323.75,1073.00) translate(-27.25,0)"><text x="0.00" y="0" transform="scale(1,1.0405)" font-size="49">80</text></g>
<g transform="translate(553.60,1135.20) translate(0.00,0)"><text x="0.00" y="0" transform="scale(1,1.0405)" font-size="49">2</text><text x="40.87" y="0" transform="scale(1,0.982)" font-size="49">theta</text><text x="171.55" y="0" font-size="49">(</text><text x="187.87" y="0" transform="scale(1,0.982)" font-size="49">degree</text><text x="348.55" y="0" font-size="49">)</text></g>
<g transform="translate(64.20,681.85) rotate(-90) translate(0.00,0)"><text x="0.00" y="0" transform="scale(1,1.0405)" font-size="49">I</text><text x="13.61" y="0" transform="scale(1,0.982)" font-size="49">ntensity</text><text x="215.09" y="0" font-size="49">(</text><text x="231.41" y="0" transform="scale(1,0.982)" font-size="49">a</text><text x="258.66" y="0" font-size="49">.</text><text x="272.28" y="0" transform="scale(1,0.982)" font-size="49">u</text><text x="302.21" y="0" font-size="49">)</text></g>
<g transform="translate(1070.10,115.80) translate(0.00,0)"><text x="0.00" y="0" transform="scale(1,1.0405)" font-size="49">P</text><text x="32.68" y="0" font-size="49">-</text><text x="49.00" y="0" transform="scale(1,1.0405)" font-size="49">A</text><text x="84.39" y="0" transform="scale(1,0.982)" font-size="49">g</text><text x="114.32" y="0" transform="scale(1,1.0405)" font-size="49">C</text><text x="149.70" y="0" font-size="49">(</text><path transform="translate(166.02,0) scale(0.023926,-0.023926)" d="M811 0H530V1059Q376 915 167 847V1102Q277 1138 406 1238Q535 1338 583 1466H811Z"/><text x="193.27" y="0" transform="scale(1,1.0405)" font-size="49">5</text><text x="220.52" y="0" font-size="49">)</text></g>
<g transform="translate(1070.20,322.60) translate(0.00,0)"><text x="0.00" y="0" transform="scale(1,1.0405)" font-size="49">P</text><text x="32.68" y="0" font-size="49">-</text><text x="49.00" y="0" transform="scale(1,1.0405)" font-size="49">A</text><text x="84.39" y="0" transform="scale(1,0.982)" font-size="49">g</text><text x="114.32" y="0" transform="scale(1,1.0405)" font-size="49">C</text><text x="149.70" y="0" font-size="49">(</text><path transform="translate(166.02,0) scale(0.023926,-0.023926)" d="M811 0H530V1059Q376 915 167 847V1102Q277 1138 406 1238Q535 1338 583 1466H811Z"/><text x="193.27" y="0" transform="scale(1,1.0405)" font-size="49">3</text><text x="220.52" y="0" font-size="49">)</text></g>
<g transform="translate(1105.00,516.90) translate(0.00,0)"><text x="0.00" y="0" transform="scale(1,1.0405)" font-size="49">P</text><text x="32.68" y="0" font-size="49">-</text><text x="49.00" y="0" transform="scale(1,1.0405)" font-size="49">A</text><text x="84.39" y="0" transform="scale(1,0.982)" font-size="49">g</text><text x="114.32" y="0" transform="scale(1,1.0405)" font-size="49">C</text><text x="149.70" y="0" font-size="49">(</text><text x="166.02" y="0" transform="scale(1,1.0405)" font-size="49">9</text><text x="193.27" y="0" font-size="49">)</text></g>
<g filter="url(#nolcd)"><g transform="translate(1135.80,745.30)"><text x="0.00" y="0" transform="scale(1,1.0405)" font-size="49">A</text><text x="35.39" y="0" transform="scale(1,0.982)" font-size="49">g</text></g><g transform="translate(1202.65,758.20) scale(0.66327)"><text x="0.00" y="0" transform="scale(1,1.0405)" font-size="49">3</text></g><g transform="translate(1221.40,745.30)"><text x="0.00" y="0" transform="scale(1,1.0405)" font-size="49">PO</text></g><g transform="translate(1292.10,758.20) scale(0.66327)"><text x="0.00" y="0" transform="scale(1,1.0405)" font-size="49">4</text></g></g>
<g filter="url(#nolcd)"><g transform="translate(1120.90,875.80)"><text x="0.00" y="0" transform="scale(1,0.982)" font-size="49">g</text><text x="29.93" y="0" font-size="49">-</text><text x="46.25" y="0" transform="scale(1,1.0405)" font-size="49">C</text></g><g transform="translate(1203.05,888.70) scale(0.66327)"><text x="0.00" y="0" transform="scale(1,1.0405)" font-size="49">3</text></g><g transform="translate(1221.40,875.80)"><text x="0.00" y="0" transform="scale(1,1.0405)" font-size="49">N</text></g><g transform="translate(1257.10,888.70) scale(0.66327)"><text x="0.00" y="0" transform="scale(1,1.0405)" font-size="49">4</text></g></g>
<g transform="translate(1153.00,965.80) translate(0.00,0)"><text x="0.00" y="0" transform="scale(1,1.0405)" font-size="49">PES</text></g>
<g transform="translate(174.70,774.70) rotate(-90) translate(0.00,0)"><path transform="translate(0.00,0) scale(0.023926,-0.023926)" d="M811 0H530V1059Q376 915 167 847V1102Q277 1138 406 1238Q535 1338 583 1466H811Z"/><path transform="translate(27.25,0) scale(0.023926,-0.023926)" d="M811 0H530V1059Q376 915 167 847V1102Q277 1138 406 1238Q535 1338 583 1466H811Z"/><text x="54.50" y="0" transform="scale(1,1.0405)" font-size="49">0</text></g>
<g transform="translate(344.20,769.60) rotate(-90) translate(0.00,0)"><text x="0.00" y="0" transform="scale(1,1.0405)" font-size="49">220</text></g>
<g transform="translate(387.50,669.85) rotate(-90) translate(0.00,0)"><text x="0.00" y="0" transform="scale(1,1.0405)" font-size="49">2</text><path transform="translate(27.25,0) scale(0.023926,-0.023926)" d="M811 0H530V1059Q376 915 167 847V1102Q277 1138 406 1238Q535 1338 583 1466H811Z"/><text x="54.50" y="0" transform="scale(1,1.0405)" font-size="49">0</text></g>
<g transform="translate(480.30,735.25) rotate(-90) translate(0.00,0)"><text x="0.00" y="0" transform="scale(1,1.0405)" font-size="49">2</text><path transform="translate(27.25,0) scale(0.023926,-0.023926)" d="M811 0H530V1059Q376 915 167 847V1102Q277 1138 406 1238Q535 1338 583 1466H811Z"/><path transform="translate(54.50,0) scale(0.023926,-0.023926)" d="M811 0H530V1059Q376 915 167 847V1102Q277 1138 406 1238Q535 1338 583 1466H811Z"/></g>
<g transform="translate(691.30,780.30) rotate(-90) translate(0.00,0)"><text x="0.00" y="0" transform="scale(1,1.0405)" font-size="49">3</text><path transform="translate(27.25,0) scale(0.023926,-0.023926)" d="M811 0H530V1059Q376 915 167 847V1102Q277 1138 406 1238Q535 1338 583 1466H811Z"/><text x="54.50" y="0" transform="scale(1,1.0405)" font-size="49">0</text></g>
<g transform="translate(784.10,772.15) rotate(-90) translate(0.00,0)"><text x="0.00" y="0" transform="scale(1,1.0405)" font-size="49">222</text></g>
<g transform="translate(831.70,761.95) rotate(-90) translate(0.00,0)"><text x="0.00" y="0" transform="scale(1,1.0405)" font-size="49">320</text></g>
<g transform="translate(882.10,771.70) rotate(-90) translate(0.00,0)"><text x="0.00" y="0" transform="scale(1,1.0405)" font-size="49">32</text><path transform="translate(54.50,0) scale(0.023926,-0.023926)" d="M811 0H530V1059Q376 915 167 847V1102Q277 1138 406 1238Q535 1338 583 1466H811Z"/></g>
<g transform="translate(961.20,777.85) rotate(-90) translate(0.00,0)"><text x="0.00" y="0" transform="scale(1,1.0405)" font-size="49">400</text></g>
<g transform="translate(271.80,908.10) rotate(-90) translate(0.00,0)"><text x="0.00" y="0" transform="scale(1,1.0405)" font-size="49">002</text></g>
</svg></body></html>
